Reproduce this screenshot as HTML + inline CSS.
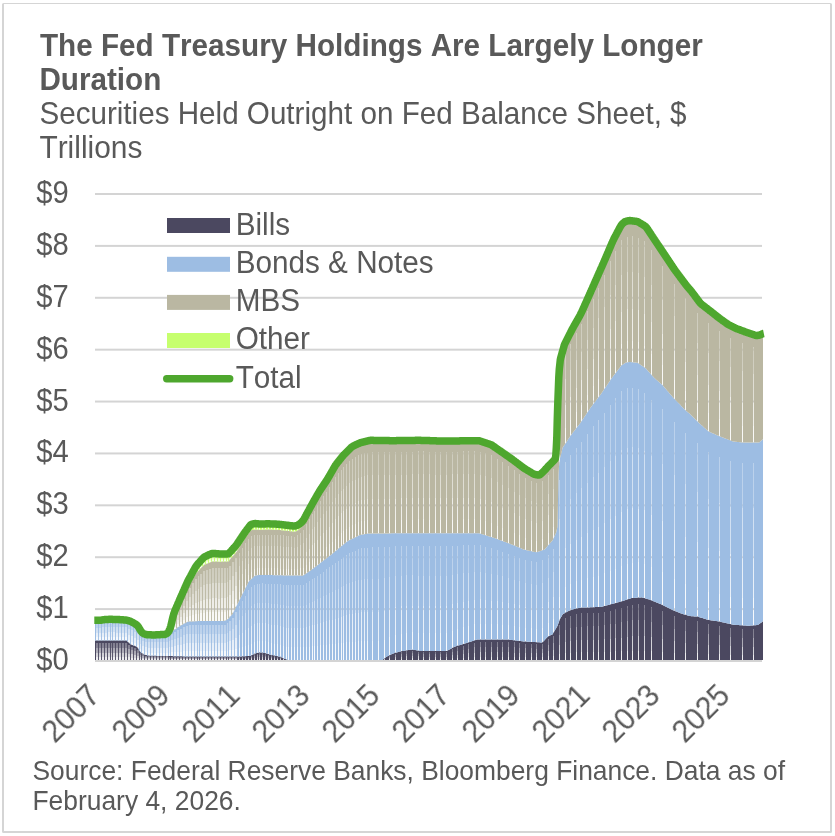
<!DOCTYPE html>
<html><head><meta charset="utf-8"><title>Fed Treasury Holdings</title>
<style>
html,body{margin:0;padding:0;background:#fff;}
body{width:835px;height:836px;position:relative;overflow:hidden;font-family:"Liberation Sans",sans-serif;color:#595959;}
.frame{position:absolute;left:2px;top:3px;width:830px;height:830px;border:2px solid #d5d5d5;border-top-width:1px;box-sizing:border-box;border-radius:1.5px;}
.t{position:absolute;white-space:nowrap;line-height:1;font-kerning:none;}
.b{font-weight:bold;}
.xl{position:absolute;white-space:nowrap;line-height:1;font-kerning:none;font-size:29.7px;transform-origin:100% 50%;transform:rotate(-45deg) scale(1,1.03);will-change:transform;}
</style></head><body>
<div class="frame"></div>
<svg width="835" height="836" viewBox="0 0 835 836" style="position:absolute;left:0;top:0"><defs><linearGradient id="fade" x1="0" y1="0" x2="0" y2="1"><stop offset="0" stop-color="#000" stop-opacity="0"/><stop offset="0.11" stop-color="#000" stop-opacity="0"/><stop offset="0.11" stop-color="#000" stop-opacity="0.30"/><stop offset="0.36" stop-color="#000" stop-opacity="0.34"/><stop offset="0.36" stop-color="#000" stop-opacity="0.52"/><stop offset="0.62" stop-color="#000" stop-opacity="0.56"/><stop offset="0.62" stop-color="#000" stop-opacity="0.74"/><stop offset="0.85" stop-color="#000" stop-opacity="0.78"/><stop offset="0.85" stop-color="#000" stop-opacity="0.9"/><stop offset="1" stop-color="#000" stop-opacity="0.92"/></linearGradient><mask id="m_bills" maskUnits="userSpaceOnUse" x="0" y="0" width="835" height="836"><rect x="0" y="0" width="835" height="836" fill="#fff"/><g fill="url(#fade)"><rect x="96.00" y="640.5" width="2.10" height="19.5"/><rect x="99.00" y="640.5" width="2.10" height="19.5"/><rect x="102.00" y="640.5" width="2.10" height="19.5"/><rect x="105.00" y="640.5" width="2.10" height="19.5"/><rect x="108.00" y="640.5" width="2.10" height="19.5"/><rect x="111.00" y="640.5" width="1.10" height="19.5"/><rect x="113.00" y="640.5" width="2.10" height="19.5"/><rect x="116.00" y="640.5" width="2.10" height="19.5"/><rect x="119.00" y="640.5" width="2.10" height="19.5"/><rect x="122.00" y="640.5" width="2.10" height="19.5"/><rect x="125.00" y="640.5" width="2.10" height="19.5"/><rect x="128.00" y="642.9" width="2.10" height="17.1"/><rect x="131.00" y="645.0" width="2.10" height="15.0"/><rect x="134.00" y="646.0" width="2.10" height="14.0"/><rect x="137.00" y="648.5" width="2.10" height="11.5"/><rect x="140.00" y="652.2" width="1.10" height="7.8"/><rect x="142.00" y="653.8" width="2.10" height="6.2"/><rect x="145.00" y="655.0" width="2.10" height="5.0"/><rect x="148.00" y="655.7" width="2.10" height="4.3"/><rect x="151.00" y="655.8" width="2.10" height="4.2"/><rect x="154.00" y="655.8" width="2.10" height="4.2"/><rect x="157.00" y="655.9" width="2.10" height="4.1"/><rect x="160.00" y="655.9" width="2.10" height="4.1"/><rect x="163.00" y="656.0" width="2.10" height="4.0"/><rect x="166.00" y="656.0" width="2.10" height="4.0"/><rect x="169.00" y="656.1" width="1.10" height="3.9"/><rect x="171.00" y="656.1" width="2.10" height="3.9"/><rect x="174.00" y="656.2" width="2.10" height="3.8"/><rect x="177.00" y="656.3" width="2.10" height="3.7"/><rect x="180.00" y="656.3" width="2.10" height="3.7"/><rect x="183.00" y="656.4" width="2.10" height="3.6"/><rect x="186.00" y="656.4" width="2.10" height="3.6"/><rect x="189.00" y="656.4" width="2.10" height="3.6"/><rect x="192.00" y="656.4" width="2.10" height="3.6"/><rect x="195.00" y="656.4" width="2.10" height="3.6"/><rect x="198.00" y="656.4" width="1.10" height="3.6"/><rect x="200.00" y="656.4" width="2.10" height="3.6"/><rect x="203.00" y="656.4" width="2.10" height="3.6"/><rect x="206.00" y="656.4" width="2.10" height="3.6"/><rect x="209.00" y="656.4" width="2.10" height="3.6"/><rect x="212.00" y="656.4" width="2.10" height="3.6"/><rect x="215.00" y="656.4" width="2.10" height="3.6"/><rect x="218.00" y="656.4" width="2.10" height="3.6"/><rect x="221.00" y="656.4" width="2.10" height="3.6"/><rect x="224.00" y="656.4" width="2.10" height="3.6"/><rect x="227.00" y="656.4" width="1.10" height="3.6"/><rect x="229.00" y="656.4" width="2.10" height="3.6"/><rect x="232.00" y="656.4" width="2.10" height="3.6"/><rect x="235.00" y="656.4" width="2.10" height="3.6"/><rect x="239.00" y="656.4" width="1.00" height="3.6"/><rect x="242.00" y="656.3" width="1.00" height="3.7"/><rect x="245.00" y="656.2" width="1.00" height="3.8"/><rect x="248.00" y="656.1" width="1.00" height="3.9"/><rect x="251.00" y="655.2" width="1.00" height="4.8"/><rect x="254.00" y="653.8" width="1.00" height="6.2"/><rect x="257.00" y="652.9" width="1.00" height="7.1"/><rect x="259.00" y="652.4" width="1.00" height="7.6"/><rect x="262.00" y="652.6" width="1.00" height="7.4"/><rect x="265.00" y="653.2" width="1.00" height="6.8"/><rect x="268.00" y="654.1" width="1.00" height="5.9"/><rect x="271.00" y="654.9" width="1.00" height="5.1"/><rect x="274.00" y="655.6" width="1.00" height="4.4"/><rect x="277.00" y="656.2" width="1.00" height="3.8"/><rect x="280.00" y="656.8" width="1.00" height="3.2"/><rect x="283.00" y="658.2" width="1.00" height="1.8"/><rect x="384.00" y="658.3" width="1.00" height="1.7"/><rect x="389.00" y="655.2" width="1.00" height="4.8"/><rect x="395.00" y="652.8" width="1.00" height="7.2"/><rect x="401.00" y="651.2" width="1.00" height="8.8"/><rect x="406.00" y="650.4" width="1.00" height="9.6"/><rect x="412.00" y="649.8" width="1.00" height="10.2"/><rect x="418.00" y="650.7" width="1.00" height="9.3"/><rect x="423.00" y="651.1" width="1.00" height="8.9"/><rect x="429.00" y="651.1" width="1.00" height="8.9"/><rect x="435.00" y="651.1" width="1.00" height="8.9"/><rect x="440.00" y="651.1" width="1.00" height="8.9"/><rect x="446.00" y="651.1" width="1.00" height="8.9"/><rect x="452.00" y="647.9" width="1.00" height="12.1"/><rect x="457.00" y="645.8" width="1.00" height="14.2"/><rect x="463.00" y="644.0" width="1.00" height="16.0"/><rect x="468.00" y="642.4" width="1.00" height="17.6"/><rect x="474.00" y="640.4" width="1.00" height="19.6"/><rect x="480.00" y="639.5" width="1.00" height="20.5"/><rect x="485.00" y="639.5" width="1.00" height="20.5"/><rect x="491.00" y="639.5" width="1.00" height="20.5"/><rect x="497.00" y="639.5" width="1.00" height="20.5"/><rect x="502.00" y="639.5" width="1.00" height="20.5"/><rect x="508.00" y="639.6" width="1.00" height="20.4"/><rect x="514.00" y="640.3" width="1.00" height="19.7"/><rect x="519.00" y="640.9" width="1.00" height="19.1"/><rect x="525.00" y="641.6" width="1.00" height="18.4"/><rect x="531.00" y="641.9" width="1.00" height="18.1"/><rect x="536.00" y="642.2" width="1.00" height="17.8"/><rect x="542.00" y="642.3" width="1.00" height="17.7"/><rect x="548.00" y="636.2" width="1.00" height="23.8"/><rect x="553.00" y="632.7" width="1.00" height="27.3"/><rect x="559.00" y="620.5" width="1.00" height="39.5"/><rect x="565.00" y="612.6" width="1.00" height="47.4"/><rect x="570.00" y="610.3" width="1.00" height="49.7"/><rect x="576.00" y="608.5" width="1.00" height="51.5"/><rect x="581.00" y="607.7" width="1.00" height="52.3"/><rect x="587.00" y="607.4" width="1.00" height="52.6"/><rect x="593.00" y="607.2" width="1.00" height="52.8"/><rect x="598.00" y="607.0" width="1.00" height="53.0"/><rect x="604.00" y="606.0" width="1.00" height="54.0"/><rect x="610.00" y="604.4" width="1.00" height="55.6"/><rect x="615.00" y="603.0" width="1.00" height="57.0"/><rect x="621.00" y="601.4" width="1.00" height="58.6"/><rect x="627.00" y="599.4" width="1.00" height="60.6"/><rect x="632.00" y="598.0" width="1.00" height="62.0"/><rect x="638.00" y="597.6" width="1.00" height="62.4"/><rect x="644.00" y="598.1" width="1.00" height="61.9"/><rect x="651.00" y="600.4" width="1.00" height="59.6"/><rect x="662.00" y="605.0" width="1.00" height="55.0"/><rect x="674.00" y="610.8" width="1.00" height="49.2"/><rect x="685.00" y="614.8" width="1.00" height="45.2"/><rect x="697.00" y="616.6" width="1.00" height="43.4"/><rect x="708.00" y="619.9" width="1.00" height="40.1"/><rect x="719.00" y="621.6" width="1.00" height="38.4"/><rect x="730.00" y="624.1" width="1.00" height="35.9"/><rect x="742.00" y="625.4" width="1.00" height="34.6"/><rect x="753.00" y="625.4" width="1.00" height="34.6"/></g></mask><mask id="m_bonds" maskUnits="userSpaceOnUse" x="0" y="0" width="835" height="836"><rect x="0" y="0" width="835" height="836" fill="#fff"/><g fill="url(#fade)"><rect x="96.00" y="620.3" width="2.10" height="20.2"/><rect x="99.00" y="620.3" width="2.10" height="20.2"/><rect x="102.00" y="619.8" width="2.10" height="20.7"/><rect x="105.00" y="619.5" width="2.10" height="21.0"/><rect x="108.00" y="619.4" width="2.10" height="21.1"/><rect x="111.00" y="619.3" width="1.10" height="21.2"/><rect x="113.00" y="619.4" width="2.10" height="21.1"/><rect x="116.00" y="619.5" width="2.10" height="21.0"/><rect x="119.00" y="619.6" width="2.10" height="20.9"/><rect x="122.00" y="619.9" width="2.10" height="20.6"/><rect x="125.00" y="620.1" width="2.10" height="20.4"/><rect x="128.00" y="620.9" width="2.10" height="22.0"/><rect x="131.00" y="622.1" width="2.10" height="22.9"/><rect x="134.00" y="623.8" width="2.10" height="22.2"/><rect x="137.00" y="626.1" width="2.10" height="22.4"/><rect x="140.00" y="630.7" width="1.10" height="21.5"/><rect x="142.00" y="633.5" width="2.10" height="20.3"/><rect x="145.00" y="634.5" width="2.10" height="20.5"/><rect x="148.00" y="634.8" width="2.10" height="20.9"/><rect x="151.00" y="634.9" width="2.10" height="20.9"/><rect x="154.00" y="634.9" width="2.10" height="20.9"/><rect x="157.00" y="634.8" width="2.10" height="21.1"/><rect x="160.00" y="634.7" width="2.10" height="21.2"/><rect x="163.00" y="634.6" width="2.10" height="21.4"/><rect x="166.00" y="634.2" width="2.10" height="21.8"/><rect x="169.00" y="633.1" width="1.10" height="23.0"/><rect x="171.00" y="631.5" width="2.10" height="24.6"/><rect x="174.00" y="629.4" width="2.10" height="26.8"/><rect x="177.00" y="627.3" width="2.10" height="29.0"/><rect x="180.00" y="625.4" width="2.10" height="30.9"/><rect x="183.00" y="623.7" width="2.10" height="32.6"/><rect x="186.00" y="622.1" width="2.10" height="34.3"/><rect x="189.00" y="621.6" width="2.10" height="34.8"/><rect x="192.00" y="621.4" width="2.10" height="35.0"/><rect x="195.00" y="621.2" width="2.10" height="35.2"/><rect x="198.00" y="621.1" width="1.10" height="35.3"/><rect x="200.00" y="621.0" width="2.10" height="35.4"/><rect x="203.00" y="621.0" width="2.10" height="35.4"/><rect x="206.00" y="621.0" width="2.10" height="35.4"/><rect x="209.00" y="621.0" width="2.10" height="35.4"/><rect x="212.00" y="621.1" width="2.10" height="35.3"/><rect x="215.00" y="621.1" width="2.10" height="35.3"/><rect x="218.00" y="621.1" width="2.10" height="35.3"/><rect x="221.00" y="621.1" width="2.10" height="35.3"/><rect x="224.00" y="620.7" width="2.10" height="35.7"/><rect x="227.00" y="619.3" width="1.10" height="37.1"/><rect x="229.00" y="616.7" width="2.10" height="39.7"/><rect x="232.00" y="612.9" width="2.10" height="43.5"/><rect x="235.00" y="606.9" width="2.10" height="49.5"/><rect x="239.00" y="599.9" width="1.00" height="56.5"/><rect x="242.00" y="593.9" width="1.00" height="62.4"/><rect x="245.00" y="588.0" width="1.00" height="68.2"/><rect x="248.00" y="582.0" width="1.00" height="74.1"/><rect x="251.00" y="578.9" width="1.00" height="76.4"/><rect x="254.00" y="576.1" width="1.00" height="77.7"/><rect x="257.00" y="575.3" width="1.00" height="77.6"/><rect x="259.00" y="575.0" width="1.00" height="77.4"/><rect x="262.00" y="574.9" width="1.00" height="77.7"/><rect x="265.00" y="575.0" width="1.00" height="78.2"/><rect x="268.00" y="575.0" width="1.00" height="79.1"/><rect x="271.00" y="575.1" width="1.00" height="79.8"/><rect x="274.00" y="575.2" width="1.00" height="80.4"/><rect x="277.00" y="575.2" width="1.00" height="80.9"/><rect x="280.00" y="575.3" width="1.00" height="81.5"/><rect x="283.00" y="575.4" width="1.00" height="82.8"/><rect x="286.00" y="575.4" width="1.00" height="84.1"/><rect x="288.00" y="575.4" width="1.00" height="84.6"/><rect x="291.00" y="575.5" width="1.00" height="84.5"/><rect x="294.00" y="575.6" width="1.00" height="84.4"/><rect x="297.00" y="575.6" width="1.00" height="84.4"/><rect x="300.00" y="575.7" width="1.00" height="84.3"/><rect x="303.00" y="575.3" width="1.00" height="84.7"/><rect x="306.00" y="573.3" width="1.00" height="86.7"/><rect x="309.00" y="571.2" width="1.00" height="88.8"/><rect x="312.00" y="569.0" width="1.00" height="91.0"/><rect x="314.00" y="567.5" width="1.00" height="92.5"/><rect x="317.00" y="565.2" width="1.00" height="94.8"/><rect x="320.00" y="562.9" width="1.00" height="97.1"/><rect x="323.00" y="560.6" width="1.00" height="99.4"/><rect x="326.00" y="558.3" width="1.00" height="101.7"/><rect x="329.00" y="556.0" width="1.00" height="104.0"/><rect x="332.00" y="553.6" width="1.00" height="106.4"/><rect x="335.00" y="551.1" width="1.00" height="108.9"/><rect x="338.00" y="548.6" width="1.00" height="111.4"/><rect x="341.00" y="546.1" width="1.00" height="113.9"/><rect x="343.00" y="544.5" width="1.00" height="115.5"/><rect x="346.00" y="542.0" width="1.00" height="118.0"/><rect x="349.00" y="540.1" width="1.00" height="119.9"/><rect x="352.00" y="538.7" width="1.00" height="121.3"/><rect x="355.00" y="537.2" width="1.00" height="122.8"/><rect x="358.00" y="535.7" width="1.00" height="124.3"/><rect x="361.00" y="534.7" width="1.00" height="125.3"/><rect x="364.00" y="534.2" width="1.00" height="125.8"/><rect x="367.00" y="533.7" width="1.00" height="126.3"/><rect x="372.00" y="533.4" width="1.00" height="126.6"/><rect x="378.00" y="533.4" width="1.00" height="126.6"/><rect x="384.00" y="533.4" width="1.00" height="124.9"/><rect x="389.00" y="533.4" width="1.00" height="121.9"/><rect x="395.00" y="533.3" width="1.00" height="119.5"/><rect x="401.00" y="533.3" width="1.00" height="117.9"/><rect x="406.00" y="533.3" width="1.00" height="117.0"/><rect x="412.00" y="533.3" width="1.00" height="116.5"/><rect x="418.00" y="533.3" width="1.00" height="117.4"/><rect x="423.00" y="533.3" width="1.00" height="117.8"/><rect x="429.00" y="533.3" width="1.00" height="117.8"/><rect x="435.00" y="533.3" width="1.00" height="117.8"/><rect x="440.00" y="533.3" width="1.00" height="117.8"/><rect x="446.00" y="533.3" width="1.00" height="117.8"/><rect x="452.00" y="533.3" width="1.00" height="114.6"/><rect x="457.00" y="533.3" width="1.00" height="112.5"/><rect x="463.00" y="533.3" width="1.00" height="110.7"/><rect x="468.00" y="533.3" width="1.00" height="109.1"/><rect x="474.00" y="533.3" width="1.00" height="107.1"/><rect x="480.00" y="533.7" width="1.00" height="105.8"/><rect x="485.00" y="535.3" width="1.00" height="104.2"/><rect x="491.00" y="537.1" width="1.00" height="102.4"/><rect x="497.00" y="539.1" width="1.00" height="100.4"/><rect x="502.00" y="541.0" width="1.00" height="98.5"/><rect x="508.00" y="543.3" width="1.00" height="96.3"/><rect x="514.00" y="545.6" width="1.00" height="94.7"/><rect x="519.00" y="547.7" width="1.00" height="93.2"/><rect x="525.00" y="549.9" width="1.00" height="91.7"/><rect x="531.00" y="551.3" width="1.00" height="90.7"/><rect x="536.00" y="552.2" width="1.00" height="90.0"/><rect x="542.00" y="550.2" width="1.00" height="92.1"/><rect x="548.00" y="545.0" width="1.00" height="91.2"/><rect x="553.00" y="538.4" width="1.00" height="94.3"/><rect x="559.00" y="462.3" width="1.00" height="158.2"/><rect x="565.00" y="443.4" width="1.00" height="169.2"/><rect x="570.00" y="435.7" width="1.00" height="174.6"/><rect x="576.00" y="427.9" width="1.00" height="180.6"/><rect x="581.00" y="421.3" width="1.00" height="186.4"/><rect x="587.00" y="412.3" width="1.00" height="195.1"/><rect x="593.00" y="403.8" width="1.00" height="203.4"/><rect x="598.00" y="397.3" width="1.00" height="209.7"/><rect x="604.00" y="388.8" width="1.00" height="217.2"/><rect x="610.00" y="379.9" width="1.00" height="224.5"/><rect x="615.00" y="373.2" width="1.00" height="229.9"/><rect x="621.00" y="365.3" width="1.00" height="236.0"/><rect x="627.00" y="362.3" width="1.00" height="237.1"/><rect x="632.00" y="362.3" width="1.00" height="235.7"/><rect x="638.00" y="363.4" width="1.00" height="234.2"/><rect x="644.00" y="367.5" width="1.00" height="230.6"/><rect x="651.00" y="374.9" width="1.00" height="225.6"/><rect x="662.00" y="385.1" width="1.00" height="219.8"/><rect x="674.00" y="399.1" width="1.00" height="211.7"/><rect x="685.00" y="410.2" width="1.00" height="204.6"/><rect x="697.00" y="421.6" width="1.00" height="195.0"/><rect x="708.00" y="431.4" width="1.00" height="188.5"/><rect x="719.00" y="436.3" width="1.00" height="185.3"/><rect x="730.00" y="440.5" width="1.00" height="183.6"/><rect x="742.00" y="442.5" width="1.00" height="182.9"/><rect x="753.00" y="442.6" width="1.00" height="182.8"/></g></mask><mask id="m_mbs" maskUnits="userSpaceOnUse" x="0" y="0" width="835" height="836"><rect x="0" y="0" width="835" height="836" fill="#fff"/><g fill="url(#fade)"><rect x="171.00" y="624.8" width="2.10" height="6.8"/><rect x="174.00" y="614.9" width="2.10" height="14.5"/><rect x="177.00" y="608.4" width="2.10" height="18.9"/><rect x="180.00" y="602.0" width="2.10" height="23.4"/><rect x="183.00" y="595.7" width="2.10" height="28.0"/><rect x="186.00" y="589.4" width="2.10" height="32.7"/><rect x="189.00" y="584.0" width="2.10" height="37.5"/><rect x="192.00" y="578.7" width="2.10" height="42.7"/><rect x="195.00" y="573.4" width="2.10" height="47.8"/><rect x="198.00" y="570.7" width="1.10" height="50.4"/><rect x="200.00" y="568.0" width="2.10" height="53.0"/><rect x="203.00" y="564.8" width="2.10" height="56.2"/><rect x="206.00" y="563.6" width="2.10" height="57.4"/><rect x="209.00" y="562.5" width="2.10" height="58.6"/><rect x="212.00" y="561.4" width="2.10" height="59.6"/><rect x="215.00" y="561.6" width="2.10" height="59.5"/><rect x="218.00" y="561.7" width="2.10" height="59.4"/><rect x="221.00" y="561.6" width="2.10" height="59.4"/><rect x="224.00" y="561.5" width="2.10" height="59.2"/><rect x="227.00" y="561.4" width="1.10" height="57.9"/><rect x="229.00" y="559.4" width="2.10" height="57.3"/><rect x="232.00" y="555.9" width="2.10" height="56.9"/><rect x="235.00" y="552.4" width="2.10" height="54.4"/><rect x="239.00" y="547.2" width="1.00" height="52.7"/><rect x="242.00" y="542.4" width="1.00" height="51.5"/><rect x="245.00" y="537.8" width="1.00" height="50.1"/><rect x="248.00" y="533.6" width="1.00" height="48.4"/><rect x="251.00" y="530.2" width="1.00" height="48.6"/><rect x="254.00" y="529.5" width="1.00" height="46.5"/><rect x="257.00" y="529.7" width="1.00" height="45.6"/><rect x="259.00" y="529.8" width="1.00" height="45.1"/><rect x="262.00" y="529.7" width="1.00" height="45.2"/><rect x="265.00" y="529.6" width="1.00" height="45.3"/><rect x="268.00" y="529.5" width="1.00" height="45.5"/><rect x="271.00" y="529.6" width="1.00" height="45.5"/><rect x="274.00" y="529.7" width="1.00" height="45.5"/><rect x="277.00" y="529.8" width="1.00" height="45.4"/><rect x="280.00" y="530.1" width="1.00" height="45.2"/><rect x="283.00" y="530.4" width="1.00" height="44.9"/><rect x="286.00" y="530.8" width="1.00" height="44.6"/><rect x="288.00" y="531.0" width="1.00" height="44.5"/><rect x="291.00" y="531.3" width="1.00" height="44.2"/><rect x="294.00" y="531.7" width="1.00" height="43.9"/><rect x="297.00" y="530.5" width="1.00" height="45.1"/><rect x="300.00" y="528.0" width="1.00" height="47.6"/><rect x="303.00" y="524.3" width="1.00" height="51.0"/><rect x="306.00" y="518.4" width="1.00" height="54.9"/><rect x="309.00" y="512.7" width="1.00" height="58.5"/><rect x="312.00" y="507.1" width="1.00" height="61.9"/><rect x="314.00" y="503.5" width="1.00" height="64.0"/><rect x="317.00" y="498.1" width="1.00" height="67.1"/><rect x="320.00" y="493.0" width="1.00" height="69.9"/><rect x="323.00" y="488.4" width="1.00" height="72.2"/><rect x="326.00" y="483.8" width="1.00" height="74.5"/><rect x="329.00" y="478.6" width="1.00" height="77.3"/><rect x="332.00" y="473.2" width="1.00" height="80.4"/><rect x="335.00" y="467.8" width="1.00" height="83.3"/><rect x="338.00" y="463.9" width="1.00" height="84.7"/><rect x="341.00" y="460.1" width="1.00" height="86.1"/><rect x="343.00" y="457.5" width="1.00" height="87.0"/><rect x="346.00" y="454.4" width="1.00" height="87.6"/><rect x="349.00" y="451.3" width="1.00" height="88.8"/><rect x="352.00" y="448.6" width="1.00" height="90.1"/><rect x="355.00" y="447.1" width="1.00" height="90.1"/><rect x="358.00" y="445.5" width="1.00" height="90.2"/><rect x="361.00" y="444.3" width="1.00" height="90.4"/><rect x="364.00" y="443.5" width="1.00" height="90.7"/><rect x="367.00" y="442.7" width="1.00" height="91.0"/><rect x="372.00" y="441.9" width="1.00" height="91.5"/><rect x="378.00" y="441.9" width="1.00" height="91.5"/><rect x="384.00" y="441.9" width="1.00" height="91.4"/><rect x="389.00" y="442.0" width="1.00" height="91.4"/><rect x="395.00" y="441.9" width="1.00" height="91.4"/><rect x="401.00" y="441.7" width="1.00" height="91.6"/><rect x="406.00" y="441.6" width="1.00" height="91.7"/><rect x="412.00" y="441.4" width="1.00" height="91.9"/><rect x="418.00" y="441.2" width="1.00" height="92.1"/><rect x="423.00" y="441.3" width="1.00" height="92.0"/><rect x="429.00" y="441.4" width="1.00" height="91.9"/><rect x="435.00" y="441.5" width="1.00" height="91.8"/><rect x="440.00" y="441.6" width="1.00" height="91.7"/><rect x="446.00" y="441.5" width="1.00" height="91.8"/><rect x="452.00" y="441.4" width="1.00" height="91.9"/><rect x="457.00" y="441.4" width="1.00" height="91.9"/><rect x="463.00" y="441.3" width="1.00" height="92.0"/><rect x="468.00" y="441.2" width="1.00" height="92.1"/><rect x="474.00" y="441.1" width="1.00" height="92.2"/><rect x="480.00" y="441.5" width="1.00" height="92.3"/><rect x="485.00" y="443.1" width="1.00" height="92.2"/><rect x="491.00" y="445.1" width="1.00" height="92.1"/><rect x="497.00" y="449.2" width="1.00" height="89.9"/><rect x="502.00" y="452.7" width="1.00" height="88.4"/><rect x="508.00" y="456.8" width="1.00" height="86.5"/><rect x="514.00" y="461.1" width="1.00" height="84.5"/><rect x="519.00" y="464.8" width="1.00" height="82.9"/><rect x="525.00" y="469.1" width="1.00" height="80.8"/><rect x="531.00" y="472.7" width="1.00" height="78.6"/><rect x="536.00" y="474.8" width="1.00" height="77.5"/><rect x="542.00" y="472.4" width="1.00" height="77.9"/><rect x="548.00" y="465.9" width="1.00" height="79.1"/><rect x="553.00" y="460.9" width="1.00" height="77.4"/><rect x="559.00" y="367.4" width="1.00" height="94.9"/><rect x="565.00" y="342.5" width="1.00" height="100.9"/><rect x="570.00" y="332.6" width="1.00" height="103.1"/><rect x="576.00" y="321.6" width="1.00" height="106.4"/><rect x="581.00" y="312.4" width="1.00" height="108.9"/><rect x="587.00" y="299.0" width="1.00" height="113.3"/><rect x="593.00" y="285.5" width="1.00" height="118.4"/><rect x="598.00" y="274.1" width="1.00" height="123.2"/><rect x="604.00" y="260.6" width="1.00" height="128.3"/><rect x="610.00" y="246.5" width="1.00" height="133.4"/><rect x="615.00" y="235.7" width="1.00" height="137.4"/><rect x="621.00" y="224.5" width="1.00" height="140.8"/><rect x="627.00" y="221.0" width="1.00" height="141.3"/><rect x="632.00" y="220.9" width="1.00" height="141.4"/><rect x="638.00" y="222.1" width="1.00" height="141.3"/><rect x="644.00" y="225.7" width="1.00" height="141.8"/><rect x="651.00" y="235.1" width="1.00" height="139.8"/><rect x="662.00" y="251.5" width="1.00" height="133.6"/><rect x="674.00" y="269.5" width="1.00" height="129.6"/><rect x="685.00" y="284.2" width="1.00" height="126.0"/><rect x="697.00" y="299.5" width="1.00" height="122.1"/><rect x="708.00" y="309.6" width="1.00" height="121.7"/><rect x="719.00" y="318.3" width="1.00" height="118.0"/><rect x="730.00" y="325.6" width="1.00" height="114.9"/><rect x="742.00" y="330.8" width="1.00" height="111.6"/><rect x="753.00" y="334.7" width="1.00" height="107.9"/></g></mask><mask id="m_other" maskUnits="userSpaceOnUse" x="0" y="0" width="835" height="836"><rect x="0" y="0" width="835" height="836" fill="#fff"/><g fill="url(#fade)"><rect x="169.00" y="630.0" width="1.10" height="3.1"/><rect x="171.00" y="620.8" width="2.10" height="4.0"/><rect x="174.00" y="610.4" width="2.10" height="4.5"/><rect x="177.00" y="603.4" width="2.10" height="5.0"/><rect x="180.00" y="596.5" width="2.10" height="5.5"/><rect x="183.00" y="589.7" width="2.10" height="6.0"/><rect x="186.00" y="582.9" width="2.10" height="6.5"/><rect x="189.00" y="577.0" width="2.10" height="7.0"/><rect x="192.00" y="571.5" width="2.10" height="7.2"/><rect x="195.00" y="566.0" width="2.10" height="7.4"/><rect x="198.00" y="563.2" width="1.10" height="7.5"/><rect x="200.00" y="560.4" width="2.10" height="7.7"/><rect x="203.00" y="557.0" width="2.10" height="7.8"/><rect x="206.00" y="555.6" width="2.10" height="8.0"/><rect x="209.00" y="554.3" width="2.10" height="8.2"/><rect x="212.00" y="553.4" width="2.10" height="8.1"/><rect x="215.00" y="553.6" width="2.10" height="7.9"/><rect x="218.00" y="553.9" width="2.10" height="7.8"/><rect x="221.00" y="554.0" width="2.10" height="7.6"/><rect x="224.00" y="554.0" width="2.10" height="7.5"/><rect x="227.00" y="554.0" width="1.10" height="7.4"/><rect x="229.00" y="552.2" width="2.10" height="7.3"/><rect x="232.00" y="548.8" width="2.10" height="7.1"/><rect x="235.00" y="545.4" width="2.10" height="7.0"/><rect x="239.00" y="540.4" width="1.00" height="6.8"/><rect x="242.00" y="535.9" width="1.00" height="6.5"/><rect x="245.00" y="531.5" width="1.00" height="6.3"/><rect x="248.00" y="527.5" width="1.00" height="6.1"/><rect x="251.00" y="524.2" width="1.00" height="6.0"/><rect x="254.00" y="523.6" width="1.00" height="5.9"/><rect x="257.00" y="523.8" width="1.00" height="5.9"/><rect x="259.00" y="524.0" width="1.00" height="5.9"/><rect x="262.00" y="523.9" width="1.00" height="5.8"/><rect x="265.00" y="523.9" width="1.00" height="5.8"/><rect x="268.00" y="523.8" width="1.00" height="5.7"/><rect x="271.00" y="523.9" width="1.00" height="5.7"/><rect x="274.00" y="524.1" width="1.00" height="5.7"/><rect x="277.00" y="524.2" width="1.00" height="5.6"/><rect x="280.00" y="524.5" width="1.00" height="5.6"/><rect x="283.00" y="524.8" width="1.00" height="5.6"/><rect x="286.00" y="525.2" width="1.00" height="5.6"/><rect x="288.00" y="525.4" width="1.00" height="5.6"/><rect x="291.00" y="525.8" width="1.00" height="5.5"/><rect x="294.00" y="526.2" width="1.00" height="5.5"/><rect x="297.00" y="525.1" width="1.00" height="5.4"/><rect x="300.00" y="523.2" width="1.00" height="4.8"/><rect x="303.00" y="520.0" width="1.00" height="4.3"/><rect x="306.00" y="514.4" width="1.00" height="3.9"/><rect x="309.00" y="508.9" width="1.00" height="3.8"/><rect x="312.00" y="503.4" width="1.00" height="3.7"/><rect x="314.00" y="499.9" width="1.00" height="3.6"/><rect x="317.00" y="494.6" width="1.00" height="3.5"/><rect x="320.00" y="489.7" width="1.00" height="3.3"/><rect x="323.00" y="485.2" width="1.00" height="3.2"/><rect x="326.00" y="480.7" width="1.00" height="3.1"/><rect x="329.00" y="475.7" width="1.00" height="2.9"/><rect x="332.00" y="470.4" width="1.00" height="2.8"/><rect x="335.00" y="465.1" width="1.00" height="2.7"/><rect x="338.00" y="461.4" width="1.00" height="2.6"/><rect x="341.00" y="457.6" width="1.00" height="2.5"/><rect x="343.00" y="455.1" width="1.00" height="2.4"/><rect x="346.00" y="452.1" width="1.00" height="2.3"/><rect x="349.00" y="449.1" width="1.00" height="2.2"/><rect x="352.00" y="446.5" width="1.00" height="2.1"/><rect x="355.00" y="445.0" width="1.00" height="2.1"/><rect x="358.00" y="443.5" width="1.00" height="2.0"/><rect x="361.00" y="442.4" width="1.00" height="1.9"/><rect x="364.00" y="441.7" width="1.00" height="1.8"/><rect x="367.00" y="440.9" width="1.00" height="1.7"/><rect x="372.00" y="440.3" width="1.00" height="1.6"/><rect x="378.00" y="440.4" width="1.00" height="1.5"/><rect x="384.00" y="440.6" width="1.00" height="1.4"/><rect x="389.00" y="440.6" width="1.00" height="1.3"/><rect x="395.00" y="440.7" width="1.00" height="1.2"/></g></mask></defs><rect x="95" y="660.00" width="667" height="2" fill="#d4d4d4"/><rect x="95" y="608.11" width="667" height="2" fill="#d4d4d4"/><rect x="95" y="556.22" width="667" height="2" fill="#d4d4d4"/><rect x="95" y="504.33" width="667" height="2" fill="#d4d4d4"/><rect x="95" y="452.44" width="667" height="2" fill="#d4d4d4"/><rect x="95" y="400.56" width="667" height="2" fill="#d4d4d4"/><rect x="95" y="348.67" width="667" height="2" fill="#d4d4d4"/><rect x="95" y="296.78" width="667" height="2" fill="#d4d4d4"/><rect x="95" y="244.89" width="667" height="2" fill="#d4d4d4"/><rect x="95" y="193.00" width="667" height="2" fill="#d4d4d4"/><polygon points="95.0,640.5 95.5,640.5 96.0,640.5 96.5,640.5 97.0,640.5 97.5,640.5 98.0,640.5 98.5,640.5 99.0,640.5 99.5,640.5 100.0,640.5 100.5,640.5 101.0,640.5 101.5,640.5 102.0,640.5 102.5,640.5 103.0,640.5 103.5,640.5 104.0,640.5 104.5,640.5 105.0,640.5 105.5,640.5 106.0,640.5 106.5,640.5 107.0,640.5 107.5,640.5 108.0,640.5 108.5,640.5 109.0,640.5 109.5,640.5 110.0,640.5 110.5,640.5 111.0,640.5 111.5,640.5 112.0,640.5 112.5,640.5 113.0,640.5 113.5,640.5 114.0,640.5 114.5,640.5 115.0,640.5 115.5,640.5 116.0,640.5 116.5,640.5 117.0,640.5 117.5,640.5 118.0,640.5 118.5,640.5 119.0,640.5 119.5,640.5 120.0,640.5 120.5,640.5 121.0,640.5 121.5,640.5 122.0,640.5 122.5,640.5 123.0,640.5 123.5,640.5 124.0,640.5 124.5,640.5 125.0,640.5 125.5,640.5 126.0,640.5 126.5,640.5 127.0,640.9 127.5,641.4 128.0,641.9 128.5,642.4 129.0,642.8 129.5,643.3 130.0,643.8 130.5,644.3 131.0,644.6 131.5,644.8 132.0,644.9 132.5,645.1 133.0,645.3 133.5,645.5 134.0,645.6 134.5,645.8 135.0,646.0 135.5,646.2 136.0,646.3 136.5,646.5 137.0,646.9 137.5,647.6 138.0,648.4 138.5,649.1 139.0,649.9 139.5,650.6 140.0,651.4 140.5,652.1 141.0,652.8 141.5,653.0 142.0,653.3 142.5,653.5 143.0,653.8 143.5,654.0 144.0,654.3 144.5,654.5 145.0,654.8 145.5,654.9 146.0,655.0 146.5,655.1 147.0,655.2 147.5,655.4 148.0,655.5 148.5,655.6 149.0,655.7 149.5,655.7 150.0,655.7 150.5,655.7 151.0,655.7 151.5,655.7 152.0,655.8 152.5,655.8 153.0,655.8 153.5,655.8 154.0,655.8 154.5,655.8 155.0,655.8 155.5,655.8 156.0,655.8 156.5,655.8 157.0,655.9 157.5,655.9 158.0,655.9 158.5,655.9 159.0,655.9 159.5,655.9 160.0,655.9 160.5,655.9 161.0,655.9 161.5,655.9 162.0,655.9 162.5,656.0 163.0,656.0 163.5,656.0 164.0,656.0 164.5,656.0 165.0,656.0 165.5,656.0 166.0,656.0 166.5,656.0 167.0,656.0 167.5,656.1 168.0,656.1 168.5,656.1 169.0,656.1 169.5,656.1 170.0,656.1 170.5,656.1 171.0,656.1 171.5,656.1 172.0,656.1 172.5,656.1 173.0,656.2 173.5,656.2 174.0,656.2 174.5,656.2 175.0,656.2 175.5,656.2 176.0,656.2 176.5,656.2 177.0,656.2 177.5,656.2 178.0,656.3 178.5,656.3 179.0,656.3 179.5,656.3 180.0,656.3 180.5,656.3 181.0,656.3 181.5,656.3 182.0,656.3 182.5,656.3 183.0,656.3 183.5,656.4 184.0,656.4 184.5,656.4 185.0,656.4 185.5,656.4 186.0,656.4 186.5,656.4 187.0,656.4 187.5,656.4 188.0,656.4 188.5,656.4 189.0,656.4 189.5,656.4 190.0,656.4 190.5,656.4 191.0,656.4 191.5,656.4 192.0,656.4 192.5,656.4 193.0,656.4 193.5,656.4 194.0,656.4 194.5,656.4 195.0,656.4 195.5,656.4 196.0,656.4 196.5,656.4 197.0,656.4 197.5,656.4 198.0,656.4 198.5,656.4 199.0,656.4 199.5,656.4 200.0,656.4 200.5,656.4 201.0,656.4 201.5,656.4 202.0,656.4 202.5,656.4 203.0,656.4 203.5,656.4 204.0,656.4 204.5,656.4 205.0,656.4 205.5,656.4 206.0,656.4 206.5,656.4 207.0,656.4 207.5,656.4 208.0,656.4 208.5,656.4 209.0,656.4 209.5,656.4 210.0,656.4 210.5,656.4 211.0,656.4 211.5,656.4 212.0,656.4 212.5,656.4 213.0,656.4 213.5,656.4 214.0,656.4 214.5,656.4 215.0,656.4 215.5,656.4 216.0,656.4 216.5,656.4 217.0,656.4 217.5,656.4 218.0,656.4 218.5,656.4 219.0,656.4 219.5,656.4 220.0,656.4 220.5,656.4 221.0,656.4 221.5,656.4 222.0,656.4 222.5,656.4 223.0,656.4 223.5,656.4 224.0,656.4 224.5,656.4 225.0,656.4 225.5,656.4 226.0,656.4 226.5,656.4 227.0,656.4 227.5,656.4 228.0,656.4 228.5,656.4 229.0,656.4 229.5,656.4 230.0,656.4 230.5,656.4 231.0,656.4 231.5,656.4 232.0,656.4 232.5,656.4 233.0,656.4 233.5,656.4 234.0,656.4 234.5,656.4 235.0,656.4 235.5,656.4 236.0,656.4 236.5,656.4 237.0,656.4 237.5,656.4 238.0,656.4 238.5,656.4 239.0,656.4 239.5,656.4 240.0,656.4 240.5,656.4 241.0,656.4 241.5,656.4 242.0,656.3 242.5,656.3 243.0,656.3 243.5,656.3 244.0,656.3 244.5,656.2 245.0,656.2 245.5,656.2 246.0,656.2 246.5,656.1 247.0,656.1 247.5,656.1 248.0,656.1 248.5,656.1 249.0,656.0 249.5,656.0 250.0,656.0 250.5,655.8 251.0,655.5 251.5,655.2 252.0,655.0 252.5,654.8 253.0,654.5 253.5,654.2 254.0,654.0 254.5,653.8 255.0,653.5 255.5,653.4 256.0,653.3 256.5,653.1 257.0,653.0 257.5,652.9 258.0,652.8 258.5,652.7 259.0,652.5 259.5,652.4 260.0,652.3 260.5,652.4 261.0,652.4 261.5,652.5 262.0,652.6 262.5,652.6 263.0,652.7 263.5,652.8 264.0,652.9 264.5,652.9 265.0,653.0 265.5,653.2 266.0,653.3 266.5,653.5 267.0,653.6 267.5,653.8 268.0,653.9 268.5,654.1 269.0,654.3 269.5,654.4 270.0,654.6 270.5,654.7 271.0,654.8 271.5,654.9 272.0,655.0 272.5,655.1 273.0,655.2 273.5,655.3 274.0,655.4 274.5,655.6 275.0,655.7 275.5,655.8 276.0,655.9 276.5,656.0 277.0,656.1 277.5,656.2 278.0,656.3 278.5,656.4 279.0,656.5 279.5,656.6 280.0,656.7 280.5,656.8 281.0,657.0 281.5,657.3 282.0,657.5 282.5,657.7 283.0,657.9 283.5,658.2 284.0,658.4 284.5,658.6 285.0,658.9 285.5,659.1 286.0,659.3 286.5,659.5 287.0,659.8 287.5,660.0 288.0,660.0 288.5,660.0 289.0,660.0 289.5,660.0 290.0,660.0 290.5,660.0 291.0,660.0 291.5,660.0 292.0,660.0 292.5,660.0 293.0,660.0 293.5,660.0 294.0,660.0 294.5,660.0 295.0,660.0 295.5,660.0 296.0,660.0 296.5,660.0 297.0,660.0 297.5,660.0 298.0,660.0 298.5,660.0 299.0,660.0 299.5,660.0 300.0,660.0 300.5,660.0 301.0,660.0 301.5,660.0 302.0,660.0 302.5,660.0 303.0,660.0 303.5,660.0 304.0,660.0 304.5,660.0 305.0,660.0 305.5,660.0 306.0,660.0 306.5,660.0 307.0,660.0 307.5,660.0 308.0,660.0 308.5,660.0 309.0,660.0 309.5,660.0 310.0,660.0 310.5,660.0 311.0,660.0 311.5,660.0 312.0,660.0 312.5,660.0 313.0,660.0 313.5,660.0 314.0,660.0 314.5,660.0 315.0,660.0 315.5,660.0 316.0,660.0 316.5,660.0 317.0,660.0 317.5,660.0 318.0,660.0 318.5,660.0 319.0,660.0 319.5,660.0 320.0,660.0 320.5,660.0 321.0,660.0 321.5,660.0 322.0,660.0 322.5,660.0 323.0,660.0 323.5,660.0 324.0,660.0 324.5,660.0 325.0,660.0 325.5,660.0 326.0,660.0 326.5,660.0 327.0,660.0 327.5,660.0 328.0,660.0 328.5,660.0 329.0,660.0 329.5,660.0 330.0,660.0 330.5,660.0 331.0,660.0 331.5,660.0 332.0,660.0 332.5,660.0 333.0,660.0 333.5,660.0 334.0,660.0 334.5,660.0 335.0,660.0 335.5,660.0 336.0,660.0 336.5,660.0 337.0,660.0 337.5,660.0 338.0,660.0 338.5,660.0 339.0,660.0 339.5,660.0 340.0,660.0 340.5,660.0 341.0,660.0 341.5,660.0 342.0,660.0 342.5,660.0 343.0,660.0 343.5,660.0 344.0,660.0 344.5,660.0 345.0,660.0 345.5,660.0 346.0,660.0 346.5,660.0 347.0,660.0 347.5,660.0 348.0,660.0 348.5,660.0 349.0,660.0 349.5,660.0 350.0,660.0 350.5,660.0 351.0,660.0 351.5,660.0 352.0,660.0 352.5,660.0 353.0,660.0 353.5,660.0 354.0,660.0 354.5,660.0 355.0,660.0 355.5,660.0 356.0,660.0 356.5,660.0 357.0,660.0 357.5,660.0 358.0,660.0 358.5,660.0 359.0,660.0 359.5,660.0 360.0,660.0 360.5,660.0 361.0,660.0 361.5,660.0 362.0,660.0 362.5,660.0 363.0,660.0 363.5,660.0 364.0,660.0 364.5,660.0 365.0,660.0 365.5,660.0 366.0,660.0 366.5,660.0 367.0,660.0 367.5,660.0 368.0,660.0 368.5,660.0 369.0,660.0 369.5,660.0 370.0,660.0 370.5,660.0 371.0,660.0 371.5,660.0 372.0,660.0 372.5,660.0 373.0,660.0 373.5,660.0 374.0,660.0 374.5,660.0 375.0,660.0 375.5,660.0 376.0,660.0 376.5,660.0 377.0,660.0 377.5,660.0 378.0,660.0 378.5,660.0 379.0,660.0 379.5,660.0 380.0,660.0 380.5,660.0 381.0,660.0 381.5,660.0 382.0,660.0 382.5,660.0 383.0,659.6 383.5,659.1 384.0,658.7 384.5,658.3 385.0,657.9 385.5,657.4 386.0,657.0 386.5,656.7 387.0,656.5 387.5,656.2 388.0,656.0 388.5,655.7 389.0,655.5 389.5,655.2 390.0,655.0 390.5,654.7 391.0,654.5 391.5,654.2 392.0,654.0 392.5,653.7 393.0,653.6 393.5,653.4 394.0,653.3 394.5,653.1 395.0,653.0 395.5,652.8 396.0,652.7 396.5,652.5 397.0,652.4 397.5,652.2 398.0,652.1 398.5,651.9 399.0,651.8 399.5,651.6 400.0,651.5 400.5,651.4 401.0,651.3 401.5,651.2 402.0,651.1 402.5,651.1 403.0,651.0 403.5,650.9 404.0,650.8 404.5,650.7 405.0,650.6 405.5,650.5 406.0,650.4 406.5,650.4 407.0,650.3 407.5,650.2 408.0,650.1 408.5,650.0 409.0,649.9 409.5,649.8 410.0,649.7 410.5,649.7 411.0,649.6 411.5,649.7 412.0,649.7 412.5,649.8 413.0,649.8 413.5,649.9 414.0,649.9 414.5,650.0 415.0,650.0 415.5,650.1 416.0,650.2 416.5,650.3 417.0,650.4 417.5,650.5 418.0,650.6 418.5,650.7 419.0,650.8 419.5,651.0 420.0,651.1 420.5,651.1 421.0,651.1 421.5,651.1 422.0,651.1 422.5,651.1 423.0,651.1 423.5,651.1 424.0,651.1 424.5,651.1 425.0,651.1 425.5,651.1 426.0,651.1 426.5,651.1 427.0,651.1 427.5,651.1 428.0,651.1 428.5,651.1 429.0,651.1 429.5,651.1 430.0,651.1 430.5,651.1 431.0,651.1 431.5,651.1 432.0,651.1 432.5,651.1 433.0,651.1 433.5,651.1 434.0,651.1 434.5,651.1 435.0,651.1 435.5,651.1 436.0,651.1 436.5,651.1 437.0,651.1 437.5,651.1 438.0,651.1 438.5,651.1 439.0,651.1 439.5,651.1 440.0,651.1 440.5,651.1 441.0,651.1 441.5,651.1 442.0,651.1 442.5,651.1 443.0,651.1 443.5,651.1 444.0,651.1 444.5,651.1 445.0,651.1 445.5,651.1 446.0,651.1 446.5,651.1 447.0,650.9 447.5,650.6 448.0,650.3 448.5,650.1 449.0,649.8 449.5,649.5 450.0,649.2 450.5,649.0 451.0,648.7 451.5,648.4 452.0,648.1 452.5,647.9 453.0,647.6 453.5,647.3 454.0,647.0 454.5,646.8 455.0,646.5 455.5,646.4 456.0,646.2 456.5,646.1 457.0,645.9 457.5,645.8 458.0,645.6 458.5,645.5 459.0,645.3 459.5,645.2 460.0,645.0 460.5,644.9 461.0,644.7 461.5,644.6 462.0,644.4 462.5,644.3 463.0,644.1 463.5,644.0 464.0,643.8 464.5,643.7 465.0,643.5 465.5,643.3 466.0,643.2 466.5,643.0 467.0,642.8 467.5,642.7 468.0,642.5 468.5,642.4 469.0,642.2 469.5,642.0 470.0,641.9 470.5,641.7 471.0,641.5 471.5,641.4 472.0,641.2 472.5,641.0 473.0,640.9 473.5,640.7 474.0,640.5 474.5,640.4 475.0,640.2 475.5,640.1 476.0,639.9 476.5,639.7 477.0,639.6 477.5,639.5 478.0,639.5 478.5,639.5 479.0,639.5 479.5,639.5 480.0,639.5 480.5,639.5 481.0,639.5 481.5,639.5 482.0,639.5 482.5,639.5 483.0,639.5 483.5,639.5 484.0,639.5 484.5,639.5 485.0,639.5 485.5,639.5 486.0,639.5 486.5,639.5 487.0,639.5 487.5,639.5 488.0,639.5 488.5,639.5 489.0,639.5 489.5,639.5 490.0,639.5 490.5,639.5 491.0,639.5 491.5,639.5 492.0,639.5 492.5,639.5 493.0,639.5 493.5,639.5 494.0,639.5 494.5,639.5 495.0,639.5 495.5,639.5 496.0,639.5 496.5,639.5 497.0,639.5 497.5,639.5 498.0,639.5 498.5,639.5 499.0,639.5 499.5,639.5 500.0,639.5 500.5,639.5 501.0,639.5 501.5,639.5 502.0,639.5 502.5,639.5 503.0,639.5 503.5,639.5 504.0,639.5 504.5,639.5 505.0,639.5 505.5,639.5 506.0,639.5 506.5,639.5 507.0,639.5 507.5,639.5 508.0,639.5 508.5,639.6 509.0,639.7 509.5,639.7 510.0,639.8 510.5,639.8 511.0,639.9 511.5,640.0 512.0,640.0 512.5,640.1 513.0,640.2 513.5,640.2 514.0,640.3 514.5,640.3 515.0,640.4 515.5,640.5 516.0,640.5 516.5,640.6 517.0,640.6 517.5,640.7 518.0,640.8 518.5,640.8 519.0,640.9 519.5,640.9 520.0,641.0 520.5,641.1 521.0,641.1 521.5,641.2 522.0,641.3 522.5,641.3 523.0,641.4 523.5,641.4 524.0,641.5 524.5,641.5 525.0,641.6 525.5,641.6 526.0,641.6 526.5,641.6 527.0,641.7 527.5,641.7 528.0,641.7 528.5,641.7 529.0,641.8 529.5,641.8 530.0,641.8 530.5,641.9 531.0,641.9 531.5,641.9 532.0,641.9 532.5,642.0 533.0,642.0 533.5,642.0 534.0,642.0 534.5,642.1 535.0,642.1 535.5,642.1 536.0,642.2 536.5,642.2 537.0,642.2 537.5,642.2 538.0,642.3 538.5,642.3 539.0,642.3 539.5,642.3 540.0,642.4 540.5,642.4 541.0,642.4 541.5,642.5 542.0,642.5 542.5,642.3 543.0,641.8 543.5,641.2 544.0,640.7 544.5,640.2 545.0,639.7 545.5,639.1 546.0,638.6 546.5,638.1 547.0,637.6 547.5,637.0 548.0,636.5 548.5,636.2 549.0,636.0 549.5,635.8 550.0,635.5 550.5,635.3 551.0,635.1 551.5,634.9 552.0,634.6 552.5,634.4 553.0,633.5 553.5,632.7 554.0,631.8 554.5,631.0 555.0,630.1 555.5,629.3 556.0,628.4 556.5,627.6 557.0,626.7 557.5,625.7 558.0,624.4 558.5,623.1 559.0,621.8 559.5,620.5 560.0,619.1 560.5,617.9 561.0,617.2 561.5,616.4 562.0,615.6 562.5,614.8 563.0,614.0 563.5,613.7 564.0,613.5 564.5,613.2 565.0,612.9 565.5,612.6 566.0,612.4 566.5,612.1 567.0,611.8 567.5,611.5 568.0,611.3 568.5,611.0 569.0,610.8 569.5,610.6 570.0,610.5 570.5,610.3 571.0,610.1 571.5,609.9 572.0,609.7 572.5,609.5 573.0,609.4 573.5,609.2 574.0,609.0 574.5,608.9 575.0,608.8 575.5,608.7 576.0,608.6 576.5,608.5 577.0,608.4 577.5,608.3 578.0,608.2 578.5,608.1 579.0,608.0 579.5,607.9 580.0,607.8 580.5,607.7 581.0,607.7 581.5,607.7 582.0,607.6 582.5,607.6 583.0,607.6 583.5,607.6 584.0,607.6 584.5,607.6 585.0,607.5 585.5,607.5 586.0,607.5 586.5,607.5 587.0,607.5 587.5,607.4 588.0,607.4 588.5,607.4 589.0,607.4 589.5,607.4 590.0,607.3 590.5,607.3 591.0,607.3 591.5,607.3 592.0,607.3 592.5,607.2 593.0,607.2 593.5,607.2 594.0,607.2 594.5,607.2 595.0,607.1 595.5,607.1 596.0,607.1 596.5,607.1 597.0,607.1 597.5,607.0 598.0,607.0 598.5,607.0 599.0,607.0 599.5,607.0 600.0,606.9 600.5,606.9 601.0,606.9 601.5,606.8 602.0,606.7 602.5,606.5 603.0,606.4 603.5,606.3 604.0,606.1 604.5,606.0 605.0,605.9 605.5,605.7 606.0,605.6 606.5,605.5 607.0,605.3 607.5,605.2 608.0,605.1 608.5,604.9 609.0,604.8 609.5,604.7 610.0,604.5 610.5,604.4 611.0,604.3 611.5,604.1 612.0,604.0 612.5,603.9 613.0,603.7 613.5,603.6 614.0,603.5 614.5,603.3 615.0,603.2 615.5,603.0 616.0,602.9 616.5,602.8 617.0,602.6 617.5,602.5 618.0,602.3 618.5,602.2 619.0,602.1 619.5,601.9 620.0,601.8 620.5,601.6 621.0,601.5 621.5,601.4 622.0,601.2 622.5,601.0 623.0,600.9 623.5,600.7 624.0,600.6 624.5,600.4 625.0,600.2 625.5,600.1 626.0,599.9 626.5,599.8 627.0,599.6 627.5,599.4 628.0,599.3 628.5,599.1 629.0,598.9 629.5,598.8 630.0,598.6 630.5,598.5 631.0,598.3 631.5,598.1 632.0,598.1 632.5,598.0 633.0,598.0 633.5,598.0 634.0,597.9 634.5,597.9 635.0,597.8 635.5,597.8 636.0,597.8 636.5,597.7 637.0,597.7 637.5,597.6 638.0,597.6 638.5,597.6 639.0,597.5 639.5,597.5 640.0,597.4 640.5,597.4 641.0,597.4 641.5,597.3 642.0,597.4 642.5,597.5 643.0,597.7 643.5,597.8 644.0,598.0 644.5,598.1 645.0,598.3 645.5,598.4 646.0,598.6 646.5,598.7 647.0,598.9 647.5,599.0 648.0,599.2 648.5,599.3 649.0,599.5 649.5,599.6 650.0,599.8 650.5,600.0 651.0,600.2 651.5,600.4 652.0,600.6 652.5,600.8 653.0,601.0 653.5,601.2 654.0,601.4 654.5,601.6 655.0,601.8 655.5,602.1 656.0,602.3 656.5,602.5 657.0,602.7 657.5,602.9 658.0,603.1 658.5,603.3 659.0,603.5 659.5,603.7 660.0,603.9 660.5,604.1 661.0,604.3 661.5,604.5 662.0,604.7 662.5,605.0 663.0,605.2 663.5,605.5 664.0,605.7 664.5,606.0 665.0,606.2 665.5,606.5 666.0,606.7 666.5,607.0 667.0,607.2 667.5,607.5 668.0,607.7 668.5,608.0 669.0,608.2 669.5,608.5 670.0,608.7 670.5,609.0 671.0,609.2 671.5,609.5 672.0,609.7 672.5,610.0 673.0,610.2 673.5,610.4 674.0,610.6 674.5,610.8 675.0,611.0 675.5,611.2 676.0,611.4 676.5,611.6 677.0,611.8 677.5,612.0 678.0,612.2 678.5,612.4 679.0,612.6 679.5,612.8 680.0,613.0 680.5,613.2 681.0,613.4 681.5,613.6 682.0,613.8 682.5,614.0 683.0,614.1 683.5,614.3 684.0,614.4 684.5,614.6 685.0,614.7 685.5,614.8 686.0,615.0 686.5,615.1 687.0,615.3 687.5,615.4 688.0,615.5 688.5,615.7 689.0,615.8 689.5,616.0 690.0,616.1 690.5,616.1 691.0,616.2 691.5,616.2 692.0,616.2 692.5,616.3 693.0,616.3 693.5,616.3 694.0,616.4 694.5,616.4 695.0,616.4 695.5,616.5 696.0,616.5 696.5,616.5 697.0,616.6 697.5,616.6 698.0,616.8 698.5,616.9 699.0,617.1 699.5,617.2 700.0,617.4 700.5,617.5 701.0,617.7 701.5,617.8 702.0,618.0 702.5,618.1 703.0,618.3 703.5,618.4 704.0,618.6 704.5,618.7 705.0,618.9 705.5,619.0 706.0,619.2 706.5,619.4 707.0,619.5 707.5,619.7 708.0,619.8 708.5,619.9 709.0,620.0 709.5,620.1 710.0,620.2 710.5,620.2 711.0,620.3 711.5,620.4 712.0,620.4 712.5,620.5 713.0,620.6 713.5,620.7 714.0,620.7 714.5,620.8 715.0,620.9 715.5,621.0 716.0,621.0 716.5,621.1 717.0,621.2 717.5,621.3 718.0,621.3 718.5,621.4 719.0,621.5 719.5,621.6 720.0,621.7 720.5,621.8 721.0,621.9 721.5,622.0 722.0,622.2 722.5,622.3 723.0,622.4 723.5,622.5 724.0,622.6 724.5,622.7 725.0,622.8 725.5,623.0 726.0,623.1 726.5,623.2 727.0,623.3 727.5,623.4 728.0,623.5 728.5,623.6 729.0,623.8 729.5,623.9 730.0,624.0 730.5,624.1 731.0,624.2 731.5,624.3 732.0,624.4 732.5,624.6 733.0,624.7 733.5,624.7 734.0,624.8 734.5,624.8 735.0,624.8 735.5,624.9 736.0,624.9 736.5,624.9 737.0,625.0 737.5,625.0 738.0,625.1 738.5,625.1 739.0,625.1 739.5,625.2 740.0,625.2 740.5,625.2 741.0,625.3 741.5,625.3 742.0,625.3 742.5,625.4 743.0,625.4 743.5,625.5 744.0,625.5 744.5,625.5 745.0,625.6 745.5,625.6 746.0,625.6 746.5,625.7 747.0,625.7 747.5,625.7 748.0,625.8 748.5,625.8 749.0,625.7 749.5,625.7 750.0,625.7 750.5,625.6 751.0,625.6 751.5,625.5 752.0,625.5 752.5,625.4 753.0,625.4 753.5,625.4 754.0,625.3 754.5,625.3 755.0,625.2 755.5,625.2 756.0,625.2 756.5,625.1 757.0,625.1 757.5,625.0 758.0,624.9 758.5,624.6 759.0,624.2 759.5,623.8 760.0,623.5 760.5,623.1 761.0,622.7 761.5,622.4 762.0,622.0 762.5,621.6 763.0,621.3 763.0,660.0 95.0,660.0" fill="#4b4860" mask="url(#m_bills)"/><polygon points="95.0,620.3 95.5,620.3 96.0,620.3 96.5,620.3 97.0,620.3 97.5,620.3 98.0,620.3 98.5,620.3 99.0,620.3 99.5,620.3 100.0,620.3 100.5,620.2 101.0,620.1 101.5,620.1 102.0,620.0 102.5,619.9 103.0,619.8 103.5,619.7 104.0,619.7 104.5,619.6 105.0,619.5 105.5,619.5 106.0,619.5 106.5,619.4 107.0,619.4 107.5,619.4 108.0,619.4 108.5,619.4 109.0,619.4 109.5,619.3 110.0,619.3 110.5,619.3 111.0,619.3 111.5,619.3 112.0,619.3 112.5,619.4 113.0,619.4 113.5,619.4 114.0,619.4 114.5,619.4 115.0,619.4 115.5,619.4 116.0,619.4 116.5,619.5 117.0,619.5 117.5,619.5 118.0,619.5 118.5,619.5 119.0,619.6 119.5,619.6 120.0,619.6 120.5,619.7 121.0,619.7 121.5,619.7 122.0,619.8 122.5,619.8 123.0,619.8 123.5,619.9 124.0,619.9 124.5,620.0 125.0,620.0 125.5,620.0 126.0,620.1 126.5,620.1 127.0,620.2 127.5,620.4 128.0,620.5 128.5,620.7 129.0,620.9 129.5,621.0 130.0,621.2 130.5,621.3 131.0,621.5 131.5,621.8 132.0,622.1 132.5,622.3 133.0,622.6 133.5,622.9 134.0,623.2 134.5,623.5 135.0,623.8 135.5,624.0 136.0,624.4 136.5,624.8 137.0,625.2 137.5,625.6 138.0,626.0 138.5,626.9 139.0,627.8 139.5,628.7 140.0,629.7 140.5,630.6 141.0,631.4 141.5,631.9 142.0,632.5 142.5,633.0 143.0,633.5 143.5,633.7 144.0,633.8 144.5,634.0 145.0,634.1 145.5,634.3 146.0,634.5 146.5,634.6 147.0,634.8 147.5,634.8 148.0,634.8 148.5,634.8 149.0,634.8 149.5,634.8 150.0,634.8 150.5,634.8 151.0,634.8 151.5,634.9 152.0,634.9 152.5,634.9 153.0,634.9 153.5,634.9 154.0,634.9 154.5,634.9 155.0,634.9 155.5,634.9 156.0,634.9 156.5,634.9 157.0,634.8 157.5,634.8 158.0,634.8 158.5,634.8 159.0,634.8 159.5,634.8 160.0,634.8 160.5,634.7 161.0,634.7 161.5,634.7 162.0,634.7 162.5,634.7 163.0,634.7 163.5,634.7 164.0,634.6 164.5,634.6 165.0,634.6 165.5,634.6 166.0,634.4 166.5,634.3 167.0,634.2 167.5,634.1 168.0,634.0 168.5,633.7 169.0,633.4 169.5,633.1 170.0,632.8 170.5,632.5 171.0,632.2 171.5,631.9 172.0,631.6 172.5,631.2 173.0,630.9 173.5,630.5 174.0,630.2 174.5,629.8 175.0,629.5 175.5,629.1 176.0,628.7 176.5,628.4 177.0,628.0 177.5,627.7 178.0,627.3 178.5,627.0 179.0,626.6 179.5,626.3 180.0,626.0 180.5,625.7 181.0,625.4 181.5,625.1 182.0,624.9 182.5,624.6 183.0,624.3 183.5,624.0 184.0,623.8 184.5,623.5 185.0,623.2 185.5,622.9 186.0,622.6 186.5,622.4 187.0,622.1 187.5,621.8 188.0,621.7 188.5,621.7 189.0,621.6 189.5,621.6 190.0,621.6 190.5,621.5 191.0,621.5 191.5,621.5 192.0,621.5 192.5,621.4 193.0,621.4 193.5,621.4 194.0,621.3 194.5,621.3 195.0,621.3 195.5,621.3 196.0,621.2 196.5,621.2 197.0,621.2 197.5,621.1 198.0,621.1 198.5,621.1 199.0,621.1 199.5,621.0 200.0,621.0 200.5,621.0 201.0,621.0 201.5,621.0 202.0,621.0 202.5,621.0 203.0,621.0 203.5,621.0 204.0,621.0 204.5,621.0 205.0,621.0 205.5,621.0 206.0,621.0 206.5,621.0 207.0,621.0 207.5,621.0 208.0,621.0 208.5,621.0 209.0,621.0 209.5,621.0 210.0,621.0 210.5,621.0 211.0,621.0 211.5,621.0 212.0,621.0 212.5,621.1 213.0,621.1 213.5,621.1 214.0,621.1 214.5,621.1 215.0,621.1 215.5,621.1 216.0,621.1 216.5,621.1 217.0,621.1 217.5,621.1 218.0,621.1 218.5,621.1 219.0,621.1 219.5,621.1 220.0,621.1 220.5,621.1 221.0,621.1 221.5,621.1 222.0,621.1 222.5,621.1 223.0,621.1 223.5,621.1 224.0,621.1 224.5,621.0 225.0,620.8 225.5,620.5 226.0,620.2 226.5,619.9 227.0,619.6 227.5,619.3 228.0,619.0 228.5,618.4 229.0,617.9 229.5,617.3 230.0,616.8 230.5,616.2 231.0,615.7 231.5,615.1 232.0,614.6 232.5,614.0 233.0,613.0 233.5,612.0 234.0,611.0 234.5,610.0 235.0,609.0 235.5,608.0 236.0,607.0 236.5,606.0 237.0,604.9 237.5,603.9 238.0,602.9 238.5,601.9 239.0,600.9 239.5,599.9 240.0,598.9 240.5,597.9 241.0,596.9 241.5,595.9 242.0,594.9 242.5,593.9 243.0,592.9 243.5,591.9 244.0,590.9 244.5,589.9 245.0,589.0 245.5,588.0 246.0,587.0 246.5,586.0 247.0,585.0 247.5,584.0 248.0,583.0 248.5,582.0 249.0,581.2 249.5,580.7 250.0,580.3 250.5,579.8 251.0,579.3 251.5,578.9 252.0,578.4 252.5,577.9 253.0,577.5 253.5,577.0 254.0,576.5 254.5,576.1 255.0,575.7 255.5,575.6 256.0,575.5 256.5,575.4 257.0,575.3 257.5,575.3 258.0,575.2 258.5,575.1 259.0,575.0 259.5,575.0 260.0,575.0 260.5,575.0 261.0,574.9 261.5,574.9 262.0,574.9 262.5,574.9 263.0,574.9 263.5,574.9 264.0,574.9 264.5,575.0 265.0,575.0 265.5,575.0 266.0,575.0 266.5,575.0 267.0,575.0 267.5,575.0 268.0,575.0 268.5,575.0 269.0,575.1 269.5,575.1 270.0,575.1 270.5,575.1 271.0,575.1 271.5,575.1 272.0,575.1 272.5,575.1 273.0,575.1 273.5,575.2 274.0,575.2 274.5,575.2 275.0,575.2 275.5,575.2 276.0,575.2 276.5,575.2 277.0,575.2 277.5,575.2 278.0,575.3 278.5,575.3 279.0,575.3 279.5,575.3 280.0,575.3 280.5,575.3 281.0,575.3 281.5,575.3 282.0,575.3 282.5,575.3 283.0,575.4 283.5,575.4 284.0,575.4 284.5,575.4 285.0,575.4 285.5,575.4 286.0,575.4 286.5,575.4 287.0,575.4 287.5,575.4 288.0,575.4 288.5,575.4 289.0,575.5 289.5,575.5 290.0,575.5 290.5,575.5 291.0,575.5 291.5,575.5 292.0,575.5 292.5,575.5 293.0,575.5 293.5,575.5 294.0,575.5 294.5,575.6 295.0,575.6 295.5,575.6 296.0,575.6 296.5,575.6 297.0,575.6 297.5,575.6 298.0,575.6 298.5,575.6 299.0,575.6 299.5,575.6 300.0,575.6 300.5,575.7 301.0,575.7 301.5,575.7 302.0,575.7 302.5,575.7 303.0,575.6 303.5,575.3 304.0,575.0 304.5,574.6 305.0,574.3 305.5,573.9 306.0,573.6 306.5,573.3 307.0,572.9 307.5,572.6 308.0,572.2 308.5,571.9 309.0,571.6 309.5,571.2 310.0,570.9 310.5,570.5 311.0,570.2 311.5,569.8 312.0,569.4 312.5,569.0 313.0,568.7 313.5,568.3 314.0,567.9 314.5,567.5 315.0,567.1 315.5,566.7 316.0,566.4 316.5,566.0 317.0,565.6 317.5,565.2 318.0,564.8 318.5,564.4 319.0,564.0 319.5,563.7 320.0,563.3 320.5,562.9 321.0,562.5 321.5,562.1 322.0,561.7 322.5,561.3 323.0,561.0 323.5,560.6 324.0,560.2 324.5,559.8 325.0,559.4 325.5,559.0 326.0,558.7 326.5,558.3 327.0,557.9 327.5,557.5 328.0,557.1 328.5,556.7 329.0,556.3 329.5,556.0 330.0,555.6 330.5,555.2 331.0,554.8 331.5,554.4 332.0,554.0 332.5,553.6 333.0,553.2 333.5,552.8 334.0,552.3 334.5,551.9 335.0,551.5 335.5,551.1 336.0,550.7 336.5,550.3 337.0,549.9 337.5,549.4 338.0,549.0 338.5,548.6 339.0,548.2 339.5,547.8 340.0,547.4 340.5,547.0 341.0,546.5 341.5,546.1 342.0,545.7 342.5,545.3 343.0,544.9 343.5,544.5 344.0,544.1 344.5,543.7 345.0,543.2 345.5,542.8 346.0,542.4 346.5,542.0 347.0,541.6 347.5,541.2 348.0,540.9 348.5,540.6 349.0,540.4 349.5,540.1 350.0,539.9 350.5,539.6 351.0,539.4 351.5,539.1 352.0,538.9 352.5,538.7 353.0,538.4 353.5,538.2 354.0,537.9 354.5,537.7 355.0,537.4 355.5,537.2 356.0,537.0 356.5,536.7 357.0,536.5 357.5,536.2 358.0,536.0 358.5,535.7 359.0,535.5 359.5,535.2 360.0,535.0 360.5,534.9 361.0,534.8 361.5,534.7 362.0,534.6 362.5,534.6 363.0,534.5 363.5,534.4 364.0,534.3 364.5,534.2 365.0,534.1 365.5,534.0 366.0,534.0 366.5,533.9 367.0,533.8 367.5,533.7 368.0,533.6 368.5,533.6 369.0,533.5 369.5,533.5 370.0,533.5 370.5,533.5 371.0,533.5 371.5,533.4 372.0,533.4 372.5,533.4 373.0,533.4 373.5,533.4 374.0,533.4 374.5,533.4 375.0,533.4 375.5,533.4 376.0,533.4 376.5,533.4 377.0,533.4 377.5,533.4 378.0,533.4 378.5,533.4 379.0,533.4 379.5,533.4 380.0,533.4 380.5,533.4 381.0,533.4 381.5,533.4 382.0,533.4 382.5,533.4 383.0,533.4 383.5,533.4 384.0,533.4 384.5,533.4 385.0,533.4 385.5,533.4 386.0,533.4 386.5,533.4 387.0,533.4 387.5,533.4 388.0,533.4 388.5,533.4 389.0,533.4 389.5,533.4 390.0,533.4 390.5,533.4 391.0,533.3 391.5,533.3 392.0,533.3 392.5,533.3 393.0,533.3 393.5,533.3 394.0,533.3 394.5,533.3 395.0,533.3 395.5,533.3 396.0,533.3 396.5,533.3 397.0,533.3 397.5,533.3 398.0,533.3 398.5,533.3 399.0,533.3 399.5,533.3 400.0,533.3 400.5,533.3 401.0,533.3 401.5,533.3 402.0,533.3 402.5,533.3 403.0,533.3 403.5,533.3 404.0,533.3 404.5,533.3 405.0,533.3 405.5,533.3 406.0,533.3 406.5,533.3 407.0,533.3 407.5,533.3 408.0,533.3 408.5,533.3 409.0,533.3 409.5,533.3 410.0,533.3 410.5,533.3 411.0,533.3 411.5,533.3 412.0,533.3 412.5,533.3 413.0,533.3 413.5,533.3 414.0,533.3 414.5,533.3 415.0,533.3 415.5,533.3 416.0,533.3 416.5,533.3 417.0,533.3 417.5,533.3 418.0,533.3 418.5,533.3 419.0,533.3 419.5,533.3 420.0,533.3 420.5,533.3 421.0,533.3 421.5,533.3 422.0,533.3 422.5,533.3 423.0,533.3 423.5,533.3 424.0,533.3 424.5,533.3 425.0,533.3 425.5,533.3 426.0,533.3 426.5,533.3 427.0,533.3 427.5,533.3 428.0,533.3 428.5,533.3 429.0,533.3 429.5,533.3 430.0,533.3 430.5,533.3 431.0,533.3 431.5,533.3 432.0,533.3 432.5,533.3 433.0,533.3 433.5,533.3 434.0,533.3 434.5,533.3 435.0,533.3 435.5,533.3 436.0,533.3 436.5,533.3 437.0,533.3 437.5,533.3 438.0,533.3 438.5,533.3 439.0,533.3 439.5,533.3 440.0,533.3 440.5,533.3 441.0,533.3 441.5,533.3 442.0,533.3 442.5,533.3 443.0,533.3 443.5,533.3 444.0,533.3 444.5,533.3 445.0,533.3 445.5,533.3 446.0,533.3 446.5,533.3 447.0,533.3 447.5,533.3 448.0,533.3 448.5,533.3 449.0,533.3 449.5,533.3 450.0,533.3 450.5,533.3 451.0,533.3 451.5,533.3 452.0,533.3 452.5,533.3 453.0,533.3 453.5,533.3 454.0,533.3 454.5,533.3 455.0,533.3 455.5,533.3 456.0,533.3 456.5,533.3 457.0,533.3 457.5,533.3 458.0,533.3 458.5,533.3 459.0,533.3 459.5,533.3 460.0,533.3 460.5,533.3 461.0,533.3 461.5,533.3 462.0,533.3 462.5,533.3 463.0,533.3 463.5,533.3 464.0,533.3 464.5,533.3 465.0,533.3 465.5,533.3 466.0,533.3 466.5,533.3 467.0,533.3 467.5,533.3 468.0,533.3 468.5,533.3 469.0,533.3 469.5,533.3 470.0,533.3 470.5,533.3 471.0,533.3 471.5,533.3 472.0,533.3 472.5,533.3 473.0,533.3 473.5,533.3 474.0,533.3 474.5,533.3 475.0,533.3 475.5,533.3 476.0,533.3 476.5,533.3 477.0,533.3 477.5,533.3 478.0,533.3 478.5,533.3 479.0,533.3 479.5,533.4 480.0,533.6 480.5,533.7 481.0,533.9 481.5,534.0 482.0,534.2 482.5,534.3 483.0,534.5 483.5,534.6 484.0,534.8 484.5,535.0 485.0,535.1 485.5,535.3 486.0,535.4 486.5,535.6 487.0,535.7 487.5,535.9 488.0,536.1 488.5,536.2 489.0,536.4 489.5,536.5 490.0,536.7 490.5,536.8 491.0,537.0 491.5,537.1 492.0,537.3 492.5,537.5 493.0,537.6 493.5,537.8 494.0,537.9 494.5,538.1 495.0,538.2 495.5,538.4 496.0,538.6 496.5,538.8 497.0,539.0 497.5,539.1 498.0,539.3 498.5,539.5 499.0,539.7 499.5,539.9 500.0,540.1 500.5,540.3 501.0,540.5 501.5,540.6 502.0,540.8 502.5,541.0 503.0,541.2 503.5,541.4 504.0,541.6 504.5,541.8 505.0,542.0 505.5,542.1 506.0,542.3 506.5,542.5 507.0,542.7 507.5,542.9 508.0,543.1 508.5,543.3 509.0,543.5 509.5,543.6 510.0,543.8 510.5,544.0 511.0,544.2 511.5,544.4 512.0,544.6 512.5,544.8 513.0,545.0 513.5,545.2 514.0,545.4 514.5,545.6 515.0,545.8 515.5,546.0 516.0,546.3 516.5,546.5 517.0,546.7 517.5,546.9 518.0,547.1 518.5,547.3 519.0,547.5 519.5,547.7 520.0,547.9 520.5,548.1 521.0,548.3 521.5,548.6 522.0,548.8 522.5,549.0 523.0,549.2 523.5,549.4 524.0,549.6 524.5,549.7 525.0,549.8 525.5,549.9 526.0,550.0 526.5,550.2 527.0,550.3 527.5,550.4 528.0,550.5 528.5,550.6 529.0,550.7 529.5,550.8 530.0,550.9 530.5,551.0 531.0,551.1 531.5,551.3 532.0,551.4 532.5,551.5 533.0,551.6 533.5,551.7 534.0,551.8 534.5,551.9 535.0,552.0 535.5,552.1 536.0,552.3 536.5,552.2 537.0,552.0 537.5,551.9 538.0,551.7 538.5,551.5 539.0,551.4 539.5,551.2 540.0,551.0 540.5,550.9 541.0,550.7 541.5,550.6 542.0,550.4 542.5,550.2 543.0,550.1 543.5,549.9 544.0,549.7 544.5,549.5 545.0,548.9 545.5,548.4 546.0,547.8 546.5,547.2 547.0,546.7 547.5,546.1 548.0,545.6 548.5,545.0 549.0,544.4 549.5,543.9 550.0,543.3 550.5,542.7 551.0,542.2 551.5,541.6 552.0,541.1 552.5,540.5 553.0,539.4 553.5,538.4 554.0,537.3 554.5,536.2 555.0,535.1 555.5,534.1 556.0,533.0 556.5,530.9 557.0,528.8 557.5,526.6 558.0,500.0 558.5,475.0 559.0,466.6 559.5,462.3 560.0,458.0 560.5,456.2 561.0,454.5 561.5,452.7 562.0,450.3 562.5,447.9 563.0,447.1 563.5,446.4 564.0,445.6 564.5,444.9 565.0,444.2 565.5,443.4 566.0,442.7 566.5,441.9 567.0,441.2 567.5,440.4 568.0,439.6 568.5,438.8 569.0,438.1 569.5,437.3 570.0,436.5 570.5,435.7 571.0,435.1 571.5,434.4 572.0,433.8 572.5,433.1 573.0,432.5 573.5,431.8 574.0,431.2 574.5,430.5 575.0,429.9 575.5,429.2 576.0,428.6 576.5,427.9 577.0,427.3 577.5,426.6 578.0,426.0 578.5,425.3 579.0,424.7 579.5,424.1 580.0,423.4 580.5,422.8 581.0,422.1 581.5,421.3 582.0,420.6 582.5,419.8 583.0,419.1 583.5,418.3 584.0,417.6 584.5,416.8 585.0,416.1 585.5,415.3 586.0,414.6 586.5,413.8 587.0,413.1 587.5,412.3 588.0,411.6 588.5,410.8 589.0,410.0 589.5,409.3 590.0,408.5 590.5,407.8 591.0,407.1 591.5,406.4 592.0,405.8 592.5,405.1 593.0,404.5 593.5,403.8 594.0,403.2 594.5,402.5 595.0,401.9 595.5,401.2 596.0,400.5 596.5,399.9 597.0,399.2 597.5,398.6 598.0,397.9 598.5,397.3 599.0,396.6 599.5,396.0 600.0,395.3 600.5,394.7 601.0,394.0 601.5,393.3 602.0,392.6 602.5,391.8 603.0,391.1 603.5,390.3 604.0,389.6 604.5,388.8 605.0,388.1 605.5,387.3 606.0,386.6 606.5,385.9 607.0,385.1 607.5,384.4 608.0,383.6 608.5,382.9 609.0,382.1 609.5,381.4 610.0,380.6 610.5,379.9 611.0,379.1 611.5,378.4 612.0,377.8 612.5,377.1 613.0,376.5 613.5,375.8 614.0,375.1 614.5,374.5 615.0,373.8 615.5,373.2 616.0,372.5 616.5,371.9 617.0,371.2 617.5,370.5 618.0,369.9 618.5,369.2 619.0,368.6 619.5,367.9 620.0,367.2 620.5,366.6 621.0,365.9 621.5,365.3 622.0,365.0 622.5,364.7 623.0,364.4 623.5,364.1 624.0,363.8 624.5,363.4 625.0,363.1 625.5,362.8 626.0,362.5 626.5,362.4 627.0,362.4 627.5,362.3 628.0,362.2 628.5,362.2 629.0,362.1 629.5,362.0 630.0,362.0 630.5,362.1 631.0,362.1 631.5,362.2 632.0,362.2 632.5,362.3 633.0,362.3 633.5,362.4 634.0,362.4 634.5,362.5 635.0,362.5 635.5,362.6 636.0,362.6 636.5,362.7 637.0,362.7 637.5,362.8 638.0,363.0 638.5,363.4 639.0,363.7 639.5,364.1 640.0,364.4 640.5,364.7 641.0,365.1 641.5,365.4 642.0,365.8 642.5,366.1 643.0,366.5 643.5,366.8 644.0,367.2 644.5,367.5 645.0,367.9 645.5,368.2 646.0,368.6 646.5,369.2 647.0,369.7 647.5,370.3 648.0,370.9 648.5,371.5 649.0,372.0 649.5,372.6 650.0,373.2 650.5,373.7 651.0,374.3 651.5,374.9 652.0,375.4 652.5,376.0 653.0,376.6 653.5,377.1 654.0,377.7 654.5,378.1 655.0,378.6 655.5,379.0 656.0,379.4 656.5,379.9 657.0,380.3 657.5,380.7 658.0,381.2 658.5,381.6 659.0,382.0 659.5,382.5 660.0,382.9 660.5,383.3 661.0,383.8 661.5,384.2 662.0,384.6 662.5,385.1 663.0,385.7 663.5,386.3 664.0,386.9 664.5,387.5 665.0,388.1 665.5,388.6 666.0,389.2 666.5,389.8 667.0,390.4 667.5,391.0 668.0,391.6 668.5,392.1 669.0,392.7 669.5,393.3 670.0,393.9 670.5,394.5 671.0,395.0 671.5,395.6 672.0,396.2 672.5,396.8 673.0,397.4 673.5,398.0 674.0,398.5 674.5,399.1 675.0,399.6 675.5,400.1 676.0,400.6 676.5,401.1 677.0,401.6 677.5,402.1 678.0,402.6 678.5,403.1 679.0,403.6 679.5,404.1 680.0,404.6 680.5,405.1 681.0,405.7 681.5,406.2 682.0,406.7 682.5,407.2 683.0,407.7 683.5,408.2 684.0,408.7 684.5,409.2 685.0,409.7 685.5,410.2 686.0,410.7 686.5,411.2 687.0,411.6 687.5,412.0 688.0,412.4 688.5,412.8 689.0,413.2 689.5,413.6 690.0,414.0 690.5,414.5 691.0,415.0 691.5,415.5 692.0,416.0 692.5,416.5 693.0,417.0 693.5,417.5 694.0,418.1 694.5,418.6 695.0,419.1 695.5,419.6 696.0,420.1 696.5,420.6 697.0,421.1 697.5,421.6 698.0,422.0 698.5,422.5 699.0,422.9 699.5,423.4 700.0,423.8 700.5,424.3 701.0,424.7 701.5,425.2 702.0,425.6 702.5,426.1 703.0,426.5 703.5,427.0 704.0,427.4 704.5,427.9 705.0,428.3 705.5,428.8 706.0,429.2 706.5,429.7 707.0,430.1 707.5,430.6 708.0,431.0 708.5,431.4 709.0,431.6 709.5,431.8 710.0,432.1 710.5,432.3 711.0,432.5 711.5,432.7 712.0,432.9 712.5,433.2 713.0,433.4 713.5,433.6 714.0,433.8 714.5,434.1 715.0,434.3 715.5,434.5 716.0,434.7 716.5,434.9 717.0,435.2 717.5,435.4 718.0,435.6 718.5,435.8 719.0,436.1 719.5,436.3 720.0,436.4 720.5,436.6 721.0,436.8 721.5,437.0 722.0,437.2 722.5,437.4 723.0,437.6 723.5,437.8 724.0,438.0 724.5,438.2 725.0,438.4 725.5,438.6 726.0,438.8 726.5,439.0 727.0,439.1 727.5,439.3 728.0,439.5 728.5,439.7 729.0,439.9 729.5,440.1 730.0,440.3 730.5,440.5 731.0,440.7 731.5,440.9 732.0,441.1 732.5,441.3 733.0,441.5 733.5,441.5 734.0,441.6 734.5,441.6 735.0,441.7 735.5,441.7 736.0,441.8 736.5,441.8 737.0,441.9 737.5,441.9 738.0,442.0 738.5,442.1 739.0,442.1 739.5,442.2 740.0,442.2 740.5,442.3 741.0,442.3 741.5,442.4 742.0,442.4 742.5,442.5 743.0,442.5 743.5,442.6 744.0,442.6 744.5,442.6 745.0,442.6 745.5,442.6 746.0,442.6 746.5,442.6 747.0,442.6 747.5,442.6 748.0,442.6 748.5,442.6 749.0,442.6 749.5,442.6 750.0,442.6 750.5,442.6 751.0,442.6 751.5,442.6 752.0,442.6 752.5,442.6 753.0,442.6 753.5,442.6 754.0,442.6 754.5,442.6 755.0,442.6 755.5,442.6 756.0,442.6 756.5,442.6 757.0,442.6 757.5,442.6 758.0,442.6 758.5,442.6 759.0,442.6 759.5,442.2 760.0,441.8 760.5,441.3 761.0,440.9 761.5,440.5 762.0,440.1 762.5,439.6 763.0,439.2 763.0,621.3 762.5,621.6 762.0,622.0 761.5,622.4 761.0,622.7 760.5,623.1 760.0,623.5 759.5,623.8 759.0,624.2 758.5,624.6 758.0,624.9 757.5,625.0 757.0,625.1 756.5,625.1 756.0,625.2 755.5,625.2 755.0,625.2 754.5,625.3 754.0,625.3 753.5,625.4 753.0,625.4 752.5,625.4 752.0,625.5 751.5,625.5 751.0,625.6 750.5,625.6 750.0,625.7 749.5,625.7 749.0,625.7 748.5,625.8 748.0,625.8 747.5,625.7 747.0,625.7 746.5,625.7 746.0,625.6 745.5,625.6 745.0,625.6 744.5,625.5 744.0,625.5 743.5,625.5 743.0,625.4 742.5,625.4 742.0,625.3 741.5,625.3 741.0,625.3 740.5,625.2 740.0,625.2 739.5,625.2 739.0,625.1 738.5,625.1 738.0,625.1 737.5,625.0 737.0,625.0 736.5,624.9 736.0,624.9 735.5,624.9 735.0,624.8 734.5,624.8 734.0,624.8 733.5,624.7 733.0,624.7 732.5,624.6 732.0,624.4 731.5,624.3 731.0,624.2 730.5,624.1 730.0,624.0 729.5,623.9 729.0,623.8 728.5,623.6 728.0,623.5 727.5,623.4 727.0,623.3 726.5,623.2 726.0,623.1 725.5,623.0 725.0,622.8 724.5,622.7 724.0,622.6 723.5,622.5 723.0,622.4 722.5,622.3 722.0,622.2 721.5,622.0 721.0,621.9 720.5,621.8 720.0,621.7 719.5,621.6 719.0,621.5 718.5,621.4 718.0,621.3 717.5,621.3 717.0,621.2 716.5,621.1 716.0,621.0 715.5,621.0 715.0,620.9 714.5,620.8 714.0,620.7 713.5,620.7 713.0,620.6 712.5,620.5 712.0,620.4 711.5,620.4 711.0,620.3 710.5,620.2 710.0,620.2 709.5,620.1 709.0,620.0 708.5,619.9 708.0,619.8 707.5,619.7 707.0,619.5 706.5,619.4 706.0,619.2 705.5,619.0 705.0,618.9 704.5,618.7 704.0,618.6 703.5,618.4 703.0,618.3 702.5,618.1 702.0,618.0 701.5,617.8 701.0,617.7 700.5,617.5 700.0,617.4 699.5,617.2 699.0,617.1 698.5,616.9 698.0,616.8 697.5,616.6 697.0,616.6 696.5,616.5 696.0,616.5 695.5,616.5 695.0,616.4 694.5,616.4 694.0,616.4 693.5,616.3 693.0,616.3 692.5,616.3 692.0,616.2 691.5,616.2 691.0,616.2 690.5,616.1 690.0,616.1 689.5,616.0 689.0,615.8 688.5,615.7 688.0,615.5 687.5,615.4 687.0,615.3 686.5,615.1 686.0,615.0 685.5,614.8 685.0,614.7 684.5,614.6 684.0,614.4 683.5,614.3 683.0,614.1 682.5,614.0 682.0,613.8 681.5,613.6 681.0,613.4 680.5,613.2 680.0,613.0 679.5,612.8 679.0,612.6 678.5,612.4 678.0,612.2 677.5,612.0 677.0,611.8 676.5,611.6 676.0,611.4 675.5,611.2 675.0,611.0 674.5,610.8 674.0,610.6 673.5,610.4 673.0,610.2 672.5,610.0 672.0,609.7 671.5,609.5 671.0,609.2 670.5,609.0 670.0,608.7 669.5,608.5 669.0,608.2 668.5,608.0 668.0,607.7 667.5,607.5 667.0,607.2 666.5,607.0 666.0,606.7 665.5,606.5 665.0,606.2 664.5,606.0 664.0,605.7 663.5,605.5 663.0,605.2 662.5,605.0 662.0,604.7 661.5,604.5 661.0,604.3 660.5,604.1 660.0,603.9 659.5,603.7 659.0,603.5 658.5,603.3 658.0,603.1 657.5,602.9 657.0,602.7 656.5,602.5 656.0,602.3 655.5,602.1 655.0,601.8 654.5,601.6 654.0,601.4 653.5,601.2 653.0,601.0 652.5,600.8 652.0,600.6 651.5,600.4 651.0,600.2 650.5,600.0 650.0,599.8 649.5,599.6 649.0,599.5 648.5,599.3 648.0,599.2 647.5,599.0 647.0,598.9 646.5,598.7 646.0,598.6 645.5,598.4 645.0,598.3 644.5,598.1 644.0,598.0 643.5,597.8 643.0,597.7 642.5,597.5 642.0,597.4 641.5,597.3 641.0,597.4 640.5,597.4 640.0,597.4 639.5,597.5 639.0,597.5 638.5,597.6 638.0,597.6 637.5,597.6 637.0,597.7 636.5,597.7 636.0,597.8 635.5,597.8 635.0,597.8 634.5,597.9 634.0,597.9 633.5,598.0 633.0,598.0 632.5,598.0 632.0,598.1 631.5,598.1 631.0,598.3 630.5,598.5 630.0,598.6 629.5,598.8 629.0,598.9 628.5,599.1 628.0,599.3 627.5,599.4 627.0,599.6 626.5,599.8 626.0,599.9 625.5,600.1 625.0,600.2 624.5,600.4 624.0,600.6 623.5,600.7 623.0,600.9 622.5,601.0 622.0,601.2 621.5,601.4 621.0,601.5 620.5,601.6 620.0,601.8 619.5,601.9 619.0,602.1 618.5,602.2 618.0,602.3 617.5,602.5 617.0,602.6 616.5,602.8 616.0,602.9 615.5,603.0 615.0,603.2 614.5,603.3 614.0,603.5 613.5,603.6 613.0,603.7 612.5,603.9 612.0,604.0 611.5,604.1 611.0,604.3 610.5,604.4 610.0,604.5 609.5,604.7 609.0,604.8 608.5,604.9 608.0,605.1 607.5,605.2 607.0,605.3 606.5,605.5 606.0,605.6 605.5,605.7 605.0,605.9 604.5,606.0 604.0,606.1 603.5,606.3 603.0,606.4 602.5,606.5 602.0,606.7 601.5,606.8 601.0,606.9 600.5,606.9 600.0,606.9 599.5,607.0 599.0,607.0 598.5,607.0 598.0,607.0 597.5,607.0 597.0,607.1 596.5,607.1 596.0,607.1 595.5,607.1 595.0,607.1 594.5,607.2 594.0,607.2 593.5,607.2 593.0,607.2 592.5,607.2 592.0,607.3 591.5,607.3 591.0,607.3 590.5,607.3 590.0,607.3 589.5,607.4 589.0,607.4 588.5,607.4 588.0,607.4 587.5,607.4 587.0,607.5 586.5,607.5 586.0,607.5 585.5,607.5 585.0,607.5 584.5,607.6 584.0,607.6 583.5,607.6 583.0,607.6 582.5,607.6 582.0,607.6 581.5,607.7 581.0,607.7 580.5,607.7 580.0,607.8 579.5,607.9 579.0,608.0 578.5,608.1 578.0,608.2 577.5,608.3 577.0,608.4 576.5,608.5 576.0,608.6 575.5,608.7 575.0,608.8 574.5,608.9 574.0,609.0 573.5,609.2 573.0,609.4 572.5,609.5 572.0,609.7 571.5,609.9 571.0,610.1 570.5,610.3 570.0,610.5 569.5,610.6 569.0,610.8 568.5,611.0 568.0,611.3 567.5,611.5 567.0,611.8 566.5,612.1 566.0,612.4 565.5,612.6 565.0,612.9 564.5,613.2 564.0,613.5 563.5,613.7 563.0,614.0 562.5,614.8 562.0,615.6 561.5,616.4 561.0,617.2 560.5,617.9 560.0,619.1 559.5,620.5 559.0,621.8 558.5,623.1 558.0,624.4 557.5,625.7 557.0,626.7 556.5,627.6 556.0,628.4 555.5,629.3 555.0,630.1 554.5,631.0 554.0,631.8 553.5,632.7 553.0,633.5 552.5,634.4 552.0,634.6 551.5,634.9 551.0,635.1 550.5,635.3 550.0,635.5 549.5,635.8 549.0,636.0 548.5,636.2 548.0,636.5 547.5,637.0 547.0,637.6 546.5,638.1 546.0,638.6 545.5,639.1 545.0,639.7 544.5,640.2 544.0,640.7 543.5,641.2 543.0,641.8 542.5,642.3 542.0,642.5 541.5,642.5 541.0,642.4 540.5,642.4 540.0,642.4 539.5,642.3 539.0,642.3 538.5,642.3 538.0,642.3 537.5,642.2 537.0,642.2 536.5,642.2 536.0,642.2 535.5,642.1 535.0,642.1 534.5,642.1 534.0,642.0 533.5,642.0 533.0,642.0 532.5,642.0 532.0,641.9 531.5,641.9 531.0,641.9 530.5,641.9 530.0,641.8 529.5,641.8 529.0,641.8 528.5,641.7 528.0,641.7 527.5,641.7 527.0,641.7 526.5,641.6 526.0,641.6 525.5,641.6 525.0,641.6 524.5,641.5 524.0,641.5 523.5,641.4 523.0,641.4 522.5,641.3 522.0,641.3 521.5,641.2 521.0,641.1 520.5,641.1 520.0,641.0 519.5,640.9 519.0,640.9 518.5,640.8 518.0,640.8 517.5,640.7 517.0,640.6 516.5,640.6 516.0,640.5 515.5,640.5 515.0,640.4 514.5,640.3 514.0,640.3 513.5,640.2 513.0,640.2 512.5,640.1 512.0,640.0 511.5,640.0 511.0,639.9 510.5,639.8 510.0,639.8 509.5,639.7 509.0,639.7 508.5,639.6 508.0,639.5 507.5,639.5 507.0,639.5 506.5,639.5 506.0,639.5 505.5,639.5 505.0,639.5 504.5,639.5 504.0,639.5 503.5,639.5 503.0,639.5 502.5,639.5 502.0,639.5 501.5,639.5 501.0,639.5 500.5,639.5 500.0,639.5 499.5,639.5 499.0,639.5 498.5,639.5 498.0,639.5 497.5,639.5 497.0,639.5 496.5,639.5 496.0,639.5 495.5,639.5 495.0,639.5 494.5,639.5 494.0,639.5 493.5,639.5 493.0,639.5 492.5,639.5 492.0,639.5 491.5,639.5 491.0,639.5 490.5,639.5 490.0,639.5 489.5,639.5 489.0,639.5 488.5,639.5 488.0,639.5 487.5,639.5 487.0,639.5 486.5,639.5 486.0,639.5 485.5,639.5 485.0,639.5 484.5,639.5 484.0,639.5 483.5,639.5 483.0,639.5 482.5,639.5 482.0,639.5 481.5,639.5 481.0,639.5 480.5,639.5 480.0,639.5 479.5,639.5 479.0,639.5 478.5,639.5 478.0,639.5 477.5,639.5 477.0,639.6 476.5,639.7 476.0,639.9 475.5,640.1 475.0,640.2 474.5,640.4 474.0,640.5 473.5,640.7 473.0,640.9 472.5,641.0 472.0,641.2 471.5,641.4 471.0,641.5 470.5,641.7 470.0,641.9 469.5,642.0 469.0,642.2 468.5,642.4 468.0,642.5 467.5,642.7 467.0,642.8 466.5,643.0 466.0,643.2 465.5,643.3 465.0,643.5 464.5,643.7 464.0,643.8 463.5,644.0 463.0,644.1 462.5,644.3 462.0,644.4 461.5,644.6 461.0,644.7 460.5,644.9 460.0,645.0 459.5,645.2 459.0,645.3 458.5,645.5 458.0,645.6 457.5,645.8 457.0,645.9 456.5,646.1 456.0,646.2 455.5,646.4 455.0,646.5 454.5,646.8 454.0,647.0 453.5,647.3 453.0,647.6 452.5,647.9 452.0,648.1 451.5,648.4 451.0,648.7 450.5,649.0 450.0,649.2 449.5,649.5 449.0,649.8 448.5,650.1 448.0,650.3 447.5,650.6 447.0,650.9 446.5,651.1 446.0,651.1 445.5,651.1 445.0,651.1 444.5,651.1 444.0,651.1 443.5,651.1 443.0,651.1 442.5,651.1 442.0,651.1 441.5,651.1 441.0,651.1 440.5,651.1 440.0,651.1 439.5,651.1 439.0,651.1 438.5,651.1 438.0,651.1 437.5,651.1 437.0,651.1 436.5,651.1 436.0,651.1 435.5,651.1 435.0,651.1 434.5,651.1 434.0,651.1 433.5,651.1 433.0,651.1 432.5,651.1 432.0,651.1 431.5,651.1 431.0,651.1 430.5,651.1 430.0,651.1 429.5,651.1 429.0,651.1 428.5,651.1 428.0,651.1 427.5,651.1 427.0,651.1 426.5,651.1 426.0,651.1 425.5,651.1 425.0,651.1 424.5,651.1 424.0,651.1 423.5,651.1 423.0,651.1 422.5,651.1 422.0,651.1 421.5,651.1 421.0,651.1 420.5,651.1 420.0,651.1 419.5,651.0 419.0,650.8 418.5,650.7 418.0,650.6 417.5,650.5 417.0,650.4 416.5,650.3 416.0,650.2 415.5,650.1 415.0,650.0 414.5,650.0 414.0,649.9 413.5,649.9 413.0,649.8 412.5,649.8 412.0,649.7 411.5,649.7 411.0,649.6 410.5,649.7 410.0,649.7 409.5,649.8 409.0,649.9 408.5,650.0 408.0,650.1 407.5,650.2 407.0,650.3 406.5,650.4 406.0,650.4 405.5,650.5 405.0,650.6 404.5,650.7 404.0,650.8 403.5,650.9 403.0,651.0 402.5,651.1 402.0,651.1 401.5,651.2 401.0,651.3 400.5,651.4 400.0,651.5 399.5,651.6 399.0,651.8 398.5,651.9 398.0,652.1 397.5,652.2 397.0,652.4 396.5,652.5 396.0,652.7 395.5,652.8 395.0,653.0 394.5,653.1 394.0,653.3 393.5,653.4 393.0,653.6 392.5,653.7 392.0,654.0 391.5,654.2 391.0,654.5 390.5,654.7 390.0,655.0 389.5,655.2 389.0,655.5 388.5,655.7 388.0,656.0 387.5,656.2 387.0,656.5 386.5,656.7 386.0,657.0 385.5,657.4 385.0,657.9 384.5,658.3 384.0,658.7 383.5,659.1 383.0,659.6 382.5,660.0 382.0,660.0 381.5,660.0 381.0,660.0 380.5,660.0 380.0,660.0 379.5,660.0 379.0,660.0 378.5,660.0 378.0,660.0 377.5,660.0 377.0,660.0 376.5,660.0 376.0,660.0 375.5,660.0 375.0,660.0 374.5,660.0 374.0,660.0 373.5,660.0 373.0,660.0 372.5,660.0 372.0,660.0 371.5,660.0 371.0,660.0 370.5,660.0 370.0,660.0 369.5,660.0 369.0,660.0 368.5,660.0 368.0,660.0 367.5,660.0 367.0,660.0 366.5,660.0 366.0,660.0 365.5,660.0 365.0,660.0 364.5,660.0 364.0,660.0 363.5,660.0 363.0,660.0 362.5,660.0 362.0,660.0 361.5,660.0 361.0,660.0 360.5,660.0 360.0,660.0 359.5,660.0 359.0,660.0 358.5,660.0 358.0,660.0 357.5,660.0 357.0,660.0 356.5,660.0 356.0,660.0 355.5,660.0 355.0,660.0 354.5,660.0 354.0,660.0 353.5,660.0 353.0,660.0 352.5,660.0 352.0,660.0 351.5,660.0 351.0,660.0 350.5,660.0 350.0,660.0 349.5,660.0 349.0,660.0 348.5,660.0 348.0,660.0 347.5,660.0 347.0,660.0 346.5,660.0 346.0,660.0 345.5,660.0 345.0,660.0 344.5,660.0 344.0,660.0 343.5,660.0 343.0,660.0 342.5,660.0 342.0,660.0 341.5,660.0 341.0,660.0 340.5,660.0 340.0,660.0 339.5,660.0 339.0,660.0 338.5,660.0 338.0,660.0 337.5,660.0 337.0,660.0 336.5,660.0 336.0,660.0 335.5,660.0 335.0,660.0 334.5,660.0 334.0,660.0 333.5,660.0 333.0,660.0 332.5,660.0 332.0,660.0 331.5,660.0 331.0,660.0 330.5,660.0 330.0,660.0 329.5,660.0 329.0,660.0 328.5,660.0 328.0,660.0 327.5,660.0 327.0,660.0 326.5,660.0 326.0,660.0 325.5,660.0 325.0,660.0 324.5,660.0 324.0,660.0 323.5,660.0 323.0,660.0 322.5,660.0 322.0,660.0 321.5,660.0 321.0,660.0 320.5,660.0 320.0,660.0 319.5,660.0 319.0,660.0 318.5,660.0 318.0,660.0 317.5,660.0 317.0,660.0 316.5,660.0 316.0,660.0 315.5,660.0 315.0,660.0 314.5,660.0 314.0,660.0 313.5,660.0 313.0,660.0 312.5,660.0 312.0,660.0 311.5,660.0 311.0,660.0 310.5,660.0 310.0,660.0 309.5,660.0 309.0,660.0 308.5,660.0 308.0,660.0 307.5,660.0 307.0,660.0 306.5,660.0 306.0,660.0 305.5,660.0 305.0,660.0 304.5,660.0 304.0,660.0 303.5,660.0 303.0,660.0 302.5,660.0 302.0,660.0 301.5,660.0 301.0,660.0 300.5,660.0 300.0,660.0 299.5,660.0 299.0,660.0 298.5,660.0 298.0,660.0 297.5,660.0 297.0,660.0 296.5,660.0 296.0,660.0 295.5,660.0 295.0,660.0 294.5,660.0 294.0,660.0 293.5,660.0 293.0,660.0 292.5,660.0 292.0,660.0 291.5,660.0 291.0,660.0 290.5,660.0 290.0,660.0 289.5,660.0 289.0,660.0 288.5,660.0 288.0,660.0 287.5,660.0 287.0,659.8 286.5,659.5 286.0,659.3 285.5,659.1 285.0,658.9 284.5,658.6 284.0,658.4 283.5,658.2 283.0,657.9 282.5,657.7 282.0,657.5 281.5,657.3 281.0,657.0 280.5,656.8 280.0,656.7 279.5,656.6 279.0,656.5 278.5,656.4 278.0,656.3 277.5,656.2 277.0,656.1 276.5,656.0 276.0,655.9 275.5,655.8 275.0,655.7 274.5,655.6 274.0,655.4 273.5,655.3 273.0,655.2 272.5,655.1 272.0,655.0 271.5,654.9 271.0,654.8 270.5,654.7 270.0,654.6 269.5,654.4 269.0,654.3 268.5,654.1 268.0,653.9 267.5,653.8 267.0,653.6 266.5,653.5 266.0,653.3 265.5,653.2 265.0,653.0 264.5,652.9 264.0,652.9 263.5,652.8 263.0,652.7 262.5,652.6 262.0,652.6 261.5,652.5 261.0,652.4 260.5,652.4 260.0,652.3 259.5,652.4 259.0,652.5 258.5,652.7 258.0,652.8 257.5,652.9 257.0,653.0 256.5,653.1 256.0,653.3 255.5,653.4 255.0,653.5 254.5,653.8 254.0,654.0 253.5,654.2 253.0,654.5 252.5,654.8 252.0,655.0 251.5,655.2 251.0,655.5 250.5,655.8 250.0,656.0 249.5,656.0 249.0,656.0 248.5,656.1 248.0,656.1 247.5,656.1 247.0,656.1 246.5,656.1 246.0,656.2 245.5,656.2 245.0,656.2 244.5,656.2 244.0,656.3 243.5,656.3 243.0,656.3 242.5,656.3 242.0,656.3 241.5,656.4 241.0,656.4 240.5,656.4 240.0,656.4 239.5,656.4 239.0,656.4 238.5,656.4 238.0,656.4 237.5,656.4 237.0,656.4 236.5,656.4 236.0,656.4 235.5,656.4 235.0,656.4 234.5,656.4 234.0,656.4 233.5,656.4 233.0,656.4 232.5,656.4 232.0,656.4 231.5,656.4 231.0,656.4 230.5,656.4 230.0,656.4 229.5,656.4 229.0,656.4 228.5,656.4 228.0,656.4 227.5,656.4 227.0,656.4 226.5,656.4 226.0,656.4 225.5,656.4 225.0,656.4 224.5,656.4 224.0,656.4 223.5,656.4 223.0,656.4 222.5,656.4 222.0,656.4 221.5,656.4 221.0,656.4 220.5,656.4 220.0,656.4 219.5,656.4 219.0,656.4 218.5,656.4 218.0,656.4 217.5,656.4 217.0,656.4 216.5,656.4 216.0,656.4 215.5,656.4 215.0,656.4 214.5,656.4 214.0,656.4 213.5,656.4 213.0,656.4 212.5,656.4 212.0,656.4 211.5,656.4 211.0,656.4 210.5,656.4 210.0,656.4 209.5,656.4 209.0,656.4 208.5,656.4 208.0,656.4 207.5,656.4 207.0,656.4 206.5,656.4 206.0,656.4 205.5,656.4 205.0,656.4 204.5,656.4 204.0,656.4 203.5,656.4 203.0,656.4 202.5,656.4 202.0,656.4 201.5,656.4 201.0,656.4 200.5,656.4 200.0,656.4 199.5,656.4 199.0,656.4 198.5,656.4 198.0,656.4 197.5,656.4 197.0,656.4 196.5,656.4 196.0,656.4 195.5,656.4 195.0,656.4 194.5,656.4 194.0,656.4 193.5,656.4 193.0,656.4 192.5,656.4 192.0,656.4 191.5,656.4 191.0,656.4 190.5,656.4 190.0,656.4 189.5,656.4 189.0,656.4 188.5,656.4 188.0,656.4 187.5,656.4 187.0,656.4 186.5,656.4 186.0,656.4 185.5,656.4 185.0,656.4 184.5,656.4 184.0,656.4 183.5,656.4 183.0,656.3 182.5,656.3 182.0,656.3 181.5,656.3 181.0,656.3 180.5,656.3 180.0,656.3 179.5,656.3 179.0,656.3 178.5,656.3 178.0,656.3 177.5,656.2 177.0,656.2 176.5,656.2 176.0,656.2 175.5,656.2 175.0,656.2 174.5,656.2 174.0,656.2 173.5,656.2 173.0,656.2 172.5,656.1 172.0,656.1 171.5,656.1 171.0,656.1 170.5,656.1 170.0,656.1 169.5,656.1 169.0,656.1 168.5,656.1 168.0,656.1 167.5,656.1 167.0,656.0 166.5,656.0 166.0,656.0 165.5,656.0 165.0,656.0 164.5,656.0 164.0,656.0 163.5,656.0 163.0,656.0 162.5,656.0 162.0,655.9 161.5,655.9 161.0,655.9 160.5,655.9 160.0,655.9 159.5,655.9 159.0,655.9 158.5,655.9 158.0,655.9 157.5,655.9 157.0,655.9 156.5,655.8 156.0,655.8 155.5,655.8 155.0,655.8 154.5,655.8 154.0,655.8 153.5,655.8 153.0,655.8 152.5,655.8 152.0,655.8 151.5,655.7 151.0,655.7 150.5,655.7 150.0,655.7 149.5,655.7 149.0,655.7 148.5,655.6 148.0,655.5 147.5,655.4 147.0,655.2 146.5,655.1 146.0,655.0 145.5,654.9 145.0,654.8 144.5,654.5 144.0,654.3 143.5,654.0 143.0,653.8 142.5,653.5 142.0,653.3 141.5,653.0 141.0,652.8 140.5,652.1 140.0,651.4 139.5,650.6 139.0,649.9 138.5,649.1 138.0,648.4 137.5,647.6 137.0,646.9 136.5,646.5 136.0,646.3 135.5,646.2 135.0,646.0 134.5,645.8 134.0,645.6 133.5,645.5 133.0,645.3 132.5,645.1 132.0,644.9 131.5,644.8 131.0,644.6 130.5,644.3 130.0,643.8 129.5,643.3 129.0,642.8 128.5,642.4 128.0,641.9 127.5,641.4 127.0,640.9 126.5,640.5 126.0,640.5 125.5,640.5 125.0,640.5 124.5,640.5 124.0,640.5 123.5,640.5 123.0,640.5 122.5,640.5 122.0,640.5 121.5,640.5 121.0,640.5 120.5,640.5 120.0,640.5 119.5,640.5 119.0,640.5 118.5,640.5 118.0,640.5 117.5,640.5 117.0,640.5 116.5,640.5 116.0,640.5 115.5,640.5 115.0,640.5 114.5,640.5 114.0,640.5 113.5,640.5 113.0,640.5 112.5,640.5 112.0,640.5 111.5,640.5 111.0,640.5 110.5,640.5 110.0,640.5 109.5,640.5 109.0,640.5 108.5,640.5 108.0,640.5 107.5,640.5 107.0,640.5 106.5,640.5 106.0,640.5 105.5,640.5 105.0,640.5 104.5,640.5 104.0,640.5 103.5,640.5 103.0,640.5 102.5,640.5 102.0,640.5 101.5,640.5 101.0,640.5 100.5,640.5 100.0,640.5 99.5,640.5 99.0,640.5 98.5,640.5 98.0,640.5 97.5,640.5 97.0,640.5 96.5,640.5 96.0,640.5 95.5,640.5 95.0,640.5" fill="#9dbde3" mask="url(#m_bonds)"/><polygon points="95.0,620.3 95.5,620.3 96.0,620.3 96.5,620.3 97.0,620.3 97.5,620.3 98.0,620.3 98.5,620.3 99.0,620.3 99.5,620.3 100.0,620.3 100.5,620.2 101.0,620.1 101.5,620.1 102.0,620.0 102.5,619.9 103.0,619.8 103.5,619.7 104.0,619.7 104.5,619.6 105.0,619.5 105.5,619.5 106.0,619.5 106.5,619.4 107.0,619.4 107.5,619.4 108.0,619.4 108.5,619.4 109.0,619.4 109.5,619.3 110.0,619.3 110.5,619.3 111.0,619.3 111.5,619.3 112.0,619.3 112.5,619.4 113.0,619.4 113.5,619.4 114.0,619.4 114.5,619.4 115.0,619.4 115.5,619.4 116.0,619.4 116.5,619.5 117.0,619.5 117.5,619.5 118.0,619.5 118.5,619.5 119.0,619.6 119.5,619.6 120.0,619.6 120.5,619.7 121.0,619.7 121.5,619.7 122.0,619.8 122.5,619.8 123.0,619.8 123.5,619.9 124.0,619.9 124.5,620.0 125.0,620.0 125.5,620.0 126.0,620.1 126.5,620.1 127.0,620.2 127.5,620.4 128.0,620.5 128.5,620.7 129.0,620.9 129.5,621.0 130.0,621.2 130.5,621.3 131.0,621.5 131.5,621.8 132.0,622.1 132.5,622.3 133.0,622.6 133.5,622.9 134.0,623.2 134.5,623.5 135.0,623.8 135.5,624.0 136.0,624.4 136.5,624.8 137.0,625.2 137.5,625.6 138.0,626.0 138.5,626.9 139.0,627.8 139.5,628.7 140.0,629.7 140.5,630.6 141.0,631.4 141.5,631.9 142.0,632.5 142.5,633.0 143.0,633.5 143.5,633.7 144.0,633.8 144.5,634.0 145.0,634.1 145.5,634.3 146.0,634.5 146.5,634.6 147.0,634.8 147.5,634.8 148.0,634.8 148.5,634.8 149.0,634.8 149.5,634.8 150.0,634.8 150.5,634.8 151.0,634.8 151.5,634.9 152.0,634.9 152.5,634.9 153.0,634.9 153.5,634.9 154.0,634.9 154.5,634.9 155.0,634.9 155.5,634.9 156.0,634.9 156.5,634.9 157.0,634.8 157.5,634.8 158.0,634.8 158.5,634.8 159.0,634.8 159.5,634.8 160.0,634.8 160.5,634.7 161.0,634.7 161.5,634.7 162.0,634.7 162.5,634.7 163.0,634.7 163.5,634.7 164.0,634.6 164.5,634.6 165.0,634.6 165.5,634.6 166.0,634.4 166.5,634.3 167.0,634.2 167.5,634.1 168.0,634.0 168.5,633.7 169.0,633.4 169.5,633.1 170.0,632.6 170.5,631.5 171.0,629.3 171.5,627.2 172.0,625.0 172.5,622.8 173.0,620.5 173.5,618.2 174.0,617.2 174.5,616.1 175.0,615.0 175.5,613.9 176.0,612.8 176.5,611.8 177.0,610.7 177.5,609.6 178.0,608.5 178.5,607.4 179.0,606.4 179.5,605.3 180.0,604.2 180.5,603.2 181.0,602.1 181.5,601.1 182.0,600.0 182.5,599.0 183.0,597.9 183.5,596.9 184.0,595.8 184.5,594.8 185.0,593.7 185.5,592.6 186.0,591.6 186.5,590.5 187.0,589.5 187.5,588.4 188.0,587.5 188.5,586.7 189.0,585.8 189.5,585.0 190.0,584.1 190.5,583.2 191.0,582.3 191.5,581.4 192.0,580.5 192.5,579.7 193.0,578.8 193.5,577.9 194.0,577.0 194.5,576.1 195.0,575.2 195.5,574.3 196.0,573.4 196.5,572.9 197.0,572.4 197.5,571.8 198.0,571.3 198.5,570.8 199.0,570.2 199.5,569.7 200.0,569.1 200.5,568.6 201.0,568.1 201.5,567.5 202.0,567.0 202.5,566.5 203.0,565.9 203.5,565.4 204.0,564.8 204.5,564.6 205.0,564.4 205.5,564.3 206.0,564.1 206.5,563.9 207.0,563.7 207.5,563.5 208.0,563.3 208.5,563.1 209.0,562.9 209.5,562.7 210.0,562.5 210.5,562.2 211.0,562.0 211.5,561.7 212.0,561.5 212.5,561.4 213.0,561.4 213.5,561.5 214.0,561.5 214.5,561.5 215.0,561.5 215.5,561.5 216.0,561.6 216.5,561.6 217.0,561.6 217.5,561.6 218.0,561.6 218.5,561.7 219.0,561.7 219.5,561.7 220.0,561.7 220.5,561.7 221.0,561.7 221.5,561.7 222.0,561.6 222.5,561.6 223.0,561.6 223.5,561.6 224.0,561.6 224.5,561.5 225.0,561.5 225.5,561.5 226.0,561.5 226.5,561.4 227.0,561.4 227.5,561.4 228.0,561.4 228.5,561.2 229.0,560.7 229.5,560.1 230.0,559.5 230.5,558.9 231.0,558.3 231.5,557.8 232.0,557.2 232.5,556.6 233.0,556.0 233.5,555.4 234.0,554.8 234.5,554.2 235.0,553.7 235.5,553.1 236.0,552.5 236.5,551.9 237.0,551.1 237.5,550.3 238.0,549.5 238.5,548.8 239.0,548.0 239.5,547.2 240.0,546.4 240.5,545.6 241.0,544.8 241.5,544.0 242.0,543.2 242.5,542.4 243.0,541.7 243.5,540.9 244.0,540.1 244.5,539.3 245.0,538.6 245.5,537.8 246.0,537.1 246.5,536.4 247.0,535.7 247.5,535.0 248.0,534.3 248.5,533.6 249.0,532.9 249.5,532.2 250.0,531.5 250.5,530.8 251.0,530.3 251.5,530.2 252.0,530.1 252.5,530.0 253.0,529.9 253.5,529.8 254.0,529.7 254.5,529.5 255.0,529.4 255.5,529.5 256.0,529.5 256.5,529.6 257.0,529.6 257.5,529.7 258.0,529.8 258.5,529.8 259.0,529.9 259.5,529.8 260.0,529.8 260.5,529.8 261.0,529.8 261.5,529.8 262.0,529.8 262.5,529.7 263.0,529.7 263.5,529.7 264.0,529.7 264.5,529.7 265.0,529.6 265.5,529.6 266.0,529.6 266.5,529.6 267.0,529.6 267.5,529.6 268.0,529.5 268.5,529.5 269.0,529.5 269.5,529.6 270.0,529.6 270.5,529.6 271.0,529.6 271.5,529.6 272.0,529.6 272.5,529.7 273.0,529.7 273.5,529.7 274.0,529.7 274.5,529.7 275.0,529.7 275.5,529.8 276.0,529.8 276.5,529.8 277.0,529.8 277.5,529.8 278.0,529.8 278.5,529.9 279.0,529.9 279.5,530.0 280.0,530.1 280.5,530.1 281.0,530.2 281.5,530.2 282.0,530.3 282.5,530.3 283.0,530.4 283.5,530.4 284.0,530.5 284.5,530.5 285.0,530.6 285.5,530.7 286.0,530.7 286.5,530.8 287.0,530.8 287.5,530.9 288.0,530.9 288.5,531.0 289.0,531.1 289.5,531.1 290.0,531.2 290.5,531.2 291.0,531.3 291.5,531.3 292.0,531.4 292.5,531.5 293.0,531.5 293.5,531.6 294.0,531.6 294.5,531.7 295.0,531.6 295.5,531.4 296.0,531.2 296.5,531.0 297.0,530.8 297.5,530.5 298.0,530.2 298.5,529.9 299.0,529.6 299.5,529.1 300.0,528.6 300.5,528.0 301.0,527.5 301.5,527.0 302.0,526.4 302.5,525.9 303.0,525.3 303.5,524.3 304.0,523.2 304.5,522.2 305.0,521.2 305.5,520.3 306.0,519.3 306.5,518.4 307.0,517.4 307.5,516.5 308.0,515.5 308.5,514.6 309.0,513.6 309.5,512.7 310.0,511.7 310.5,510.8 311.0,509.8 311.5,508.9 312.0,508.0 312.5,507.1 313.0,506.2 313.5,505.3 314.0,504.4 314.5,503.5 315.0,502.6 315.5,501.7 316.0,500.8 316.5,499.9 317.0,499.0 317.5,498.1 318.0,497.2 318.5,496.3 319.0,495.4 319.5,494.5 320.0,493.8 320.5,493.0 321.0,492.2 321.5,491.5 322.0,490.7 322.5,489.9 323.0,489.2 323.5,488.4 324.0,487.6 324.5,486.9 325.0,486.1 325.5,485.3 326.0,484.6 326.5,483.8 327.0,483.1 327.5,482.3 328.0,481.4 328.5,480.5 329.0,479.5 329.5,478.6 330.0,477.7 330.5,476.8 331.0,475.9 331.5,475.0 332.0,474.1 332.5,473.2 333.0,472.3 333.5,471.4 334.0,470.5 334.5,469.6 335.0,468.7 335.5,467.8 336.0,467.1 336.5,466.5 337.0,465.9 337.5,465.2 338.0,464.6 338.5,463.9 339.0,463.3 339.5,462.6 340.0,462.0 340.5,461.4 341.0,460.7 341.5,460.1 342.0,459.4 342.5,458.8 343.0,458.2 343.5,457.5 344.0,457.0 344.5,456.5 345.0,456.0 345.5,455.4 346.0,454.9 346.5,454.4 347.0,453.9 347.5,453.4 348.0,452.9 348.5,452.4 349.0,451.8 349.5,451.3 350.0,450.8 350.5,450.3 351.0,449.8 351.5,449.3 352.0,448.9 352.5,448.6 353.0,448.3 353.5,448.1 354.0,447.8 354.5,447.6 355.0,447.3 355.5,447.1 356.0,446.8 356.5,446.5 357.0,446.3 357.5,446.0 358.0,445.8 358.5,445.5 359.0,445.2 359.5,445.0 360.0,444.7 360.5,444.6 361.0,444.5 361.5,444.3 362.0,444.2 362.5,444.0 363.0,443.9 363.5,443.8 364.0,443.6 364.5,443.5 365.0,443.3 365.5,443.2 366.0,443.1 366.5,442.9 367.0,442.8 367.5,442.7 368.0,442.5 368.5,442.4 369.0,442.2 369.5,442.1 370.0,442.0 370.5,441.9 371.0,441.9 371.5,441.9 372.0,441.9 372.5,441.9 373.0,441.9 373.5,441.9 374.0,441.9 374.5,441.9 375.0,441.9 375.5,441.9 376.0,441.9 376.5,441.9 377.0,441.9 377.5,441.9 378.0,441.9 378.5,441.9 379.0,441.9 379.5,441.9 380.0,441.9 380.5,441.9 381.0,441.9 381.5,441.9 382.0,441.9 382.5,441.9 383.0,441.9 383.5,441.9 384.0,441.9 384.5,441.9 385.0,441.9 385.5,441.9 386.0,441.9 386.5,441.9 387.0,441.9 387.5,441.9 388.0,442.0 388.5,442.0 389.0,442.0 389.5,442.0 390.0,442.0 390.5,442.0 391.0,442.0 391.5,442.0 392.0,442.0 392.5,442.0 393.0,442.0 393.5,441.9 394.0,441.9 394.5,441.9 395.0,441.9 395.5,441.9 396.0,441.9 396.5,441.9 397.0,441.8 397.5,441.8 398.0,441.8 398.5,441.8 399.0,441.8 399.5,441.8 400.0,441.8 400.5,441.8 401.0,441.7 401.5,441.7 402.0,441.7 402.5,441.7 403.0,441.7 403.5,441.7 404.0,441.7 404.5,441.6 405.0,441.6 405.5,441.6 406.0,441.6 406.5,441.6 407.0,441.6 407.5,441.6 408.0,441.5 408.5,441.5 409.0,441.5 409.5,441.5 410.0,441.5 410.5,441.5 411.0,441.5 411.5,441.4 412.0,441.4 412.5,441.4 413.0,441.4 413.5,441.4 414.0,441.4 414.5,441.4 415.0,441.3 415.5,441.3 416.0,441.3 416.5,441.3 417.0,441.3 417.5,441.3 418.0,441.3 418.5,441.2 419.0,441.2 419.5,441.2 420.0,441.3 420.5,441.3 421.0,441.3 421.5,441.3 422.0,441.3 422.5,441.3 423.0,441.3 423.5,441.3 424.0,441.3 424.5,441.3 425.0,441.3 425.5,441.4 426.0,441.4 426.5,441.4 427.0,441.4 427.5,441.4 428.0,441.4 428.5,441.4 429.0,441.4 429.5,441.4 430.0,441.4 430.5,441.5 431.0,441.5 431.5,441.5 432.0,441.5 432.5,441.5 433.0,441.5 433.5,441.5 434.0,441.5 434.5,441.5 435.0,441.5 435.5,441.5 436.0,441.6 436.5,441.6 437.0,441.6 437.5,441.6 438.0,441.6 438.5,441.6 439.0,441.6 439.5,441.6 440.0,441.6 440.5,441.6 441.0,441.7 441.5,441.6 442.0,441.6 442.5,441.6 443.0,441.6 443.5,441.6 444.0,441.6 444.5,441.6 445.0,441.6 445.5,441.6 446.0,441.6 446.5,441.5 447.0,441.5 447.5,441.5 448.0,441.5 448.5,441.5 449.0,441.5 449.5,441.5 450.0,441.5 450.5,441.5 451.0,441.5 451.5,441.5 452.0,441.5 452.5,441.4 453.0,441.4 453.5,441.4 454.0,441.4 454.5,441.4 455.0,441.4 455.5,441.4 456.0,441.4 456.5,441.4 457.0,441.4 457.5,441.4 458.0,441.4 458.5,441.4 459.0,441.3 459.5,441.3 460.0,441.3 460.5,441.3 461.0,441.3 461.5,441.3 462.0,441.3 462.5,441.3 463.0,441.3 463.5,441.3 464.0,441.3 464.5,441.3 465.0,441.3 465.5,441.2 466.0,441.2 466.5,441.2 467.0,441.2 467.5,441.2 468.0,441.2 468.5,441.2 469.0,441.2 469.5,441.2 470.0,441.2 470.5,441.2 471.0,441.2 471.5,441.1 472.0,441.1 472.5,441.1 473.0,441.1 473.5,441.1 474.0,441.1 474.5,441.1 475.0,441.1 475.5,441.1 476.0,441.1 476.5,441.1 477.0,441.1 477.5,441.1 478.0,441.0 478.5,441.0 479.0,441.0 479.5,441.1 480.0,441.3 480.5,441.5 481.0,441.6 481.5,441.8 482.0,441.9 482.5,442.1 483.0,442.3 483.5,442.4 484.0,442.6 484.5,442.8 485.0,442.9 485.5,443.1 486.0,443.3 486.5,443.4 487.0,443.6 487.5,443.7 488.0,443.9 488.5,444.1 489.0,444.2 489.5,444.4 490.0,444.6 490.5,444.7 491.0,444.9 491.5,445.1 492.0,445.4 492.5,445.8 493.0,446.1 493.5,446.5 494.0,446.8 494.5,447.2 495.0,447.5 495.5,447.8 496.0,448.2 496.5,448.5 497.0,448.9 497.5,449.2 498.0,449.6 498.5,449.9 499.0,450.3 499.5,450.6 500.0,450.9 500.5,451.3 501.0,451.6 501.5,452.0 502.0,452.3 502.5,452.7 503.0,453.0 503.5,453.4 504.0,453.7 504.5,454.0 505.0,454.4 505.5,454.7 506.0,455.1 506.5,455.4 507.0,455.8 507.5,456.1 508.0,456.5 508.5,456.8 509.0,457.1 509.5,457.5 510.0,457.8 510.5,458.2 511.0,458.5 511.5,458.9 512.0,459.2 512.5,459.6 513.0,460.0 513.5,460.3 514.0,460.7 514.5,461.1 515.0,461.5 515.5,461.8 516.0,462.2 516.5,462.6 517.0,462.9 517.5,463.3 518.0,463.7 518.5,464.1 519.0,464.4 519.5,464.8 520.0,465.2 520.5,465.6 521.0,465.9 521.5,466.3 522.0,466.7 522.5,467.1 523.0,467.4 523.5,467.8 524.0,468.2 524.5,468.5 525.0,468.8 525.5,469.1 526.0,469.4 526.5,469.7 527.0,470.0 527.5,470.3 528.0,470.6 528.5,470.9 529.0,471.2 529.5,471.5 530.0,471.8 530.5,472.1 531.0,472.4 531.5,472.7 532.0,473.0 532.5,473.3 533.0,473.6 533.5,473.9 534.0,474.2 534.5,474.4 535.0,474.5 535.5,474.6 536.0,474.7 536.5,474.8 537.0,474.8 537.5,474.9 538.0,475.0 538.5,475.1 539.0,475.2 539.5,475.1 540.0,474.7 540.5,474.2 541.0,473.7 541.5,473.3 542.0,472.8 542.5,472.4 543.0,471.9 543.5,471.5 544.0,471.0 544.5,470.4 545.0,469.9 545.5,469.3 546.0,468.7 546.5,468.2 547.0,467.6 547.5,467.0 548.0,466.5 548.5,465.9 549.0,465.4 549.5,464.9 550.0,464.4 550.5,463.9 551.0,463.5 551.5,463.0 552.0,462.5 552.5,462.0 553.0,461.5 553.5,460.9 554.0,460.3 554.5,459.8 555.0,459.2 555.5,458.6 556.0,452.4 556.5,444.8 557.0,430.3 557.5,411.0 558.0,398.0 558.5,385.0 559.0,372.0 559.5,367.4 560.0,362.7 560.5,358.6 561.0,356.9 561.5,355.1 562.0,353.4 562.5,351.6 563.0,349.8 563.5,348.0 564.0,346.2 564.5,344.5 565.0,343.5 565.5,342.5 566.0,341.5 566.5,340.5 567.0,339.5 567.5,338.5 568.0,337.5 568.5,336.5 569.0,335.5 569.5,334.5 570.0,333.5 570.5,332.6 571.0,331.6 571.5,330.6 572.0,329.6 572.5,328.6 573.0,327.7 573.5,326.8 574.0,325.9 574.5,325.1 575.0,324.2 575.5,323.3 576.0,322.4 576.5,321.6 577.0,320.7 577.5,319.8 578.0,318.9 578.5,318.1 579.0,317.2 579.5,316.3 580.0,315.4 580.5,314.6 581.0,313.5 581.5,312.4 582.0,311.3 582.5,310.2 583.0,309.1 583.5,308.0 584.0,306.8 584.5,305.7 585.0,304.6 585.5,303.5 586.0,302.4 586.5,301.3 587.0,300.1 587.5,299.0 588.0,297.9 588.5,296.8 589.0,295.7 589.5,294.5 590.0,293.4 590.5,292.3 591.0,291.1 591.5,290.0 592.0,288.9 592.5,287.7 593.0,286.6 593.5,285.5 594.0,284.3 594.5,283.2 595.0,282.0 595.5,280.9 596.0,279.8 596.5,278.6 597.0,277.5 597.5,276.4 598.0,275.2 598.5,274.1 599.0,273.0 599.5,271.9 600.0,270.7 600.5,269.6 601.0,268.5 601.5,267.3 602.0,266.2 602.5,265.1 603.0,263.9 603.5,262.8 604.0,261.7 604.5,260.6 605.0,259.4 605.5,258.3 606.0,257.1 606.5,255.9 607.0,254.7 607.5,253.6 608.0,252.4 608.5,251.2 609.0,250.0 609.5,248.8 610.0,247.7 610.5,246.5 611.0,245.3 611.5,244.1 612.0,243.0 612.5,241.8 613.0,240.6 613.5,239.5 614.0,238.6 614.5,237.6 615.0,236.7 615.5,235.7 616.0,234.8 616.5,233.9 617.0,232.9 617.5,232.0 618.0,231.0 618.5,230.1 619.0,229.1 619.5,228.2 620.0,227.2 620.5,226.3 621.0,225.4 621.5,224.5 622.0,224.1 622.5,223.7 623.0,223.2 623.5,222.8 624.0,222.4 624.5,221.9 625.0,221.5 625.5,221.4 626.0,221.3 626.5,221.2 627.0,221.1 627.5,221.0 628.0,220.8 628.5,220.7 629.0,220.6 629.5,220.5 630.0,220.6 630.5,220.6 631.0,220.7 631.5,220.8 632.0,220.8 632.5,220.9 633.0,221.0 633.5,221.0 634.0,221.1 634.5,221.2 635.0,221.2 635.5,221.3 636.0,221.4 636.5,221.4 637.0,221.5 637.5,221.6 638.0,221.8 638.5,222.1 639.0,222.4 639.5,222.7 640.0,223.0 640.5,223.3 641.0,223.6 641.5,223.9 642.0,224.2 642.5,224.5 643.0,224.8 643.5,225.1 644.0,225.4 644.5,225.7 645.0,226.1 645.5,226.4 646.0,226.8 646.5,227.5 647.0,228.3 647.5,229.0 648.0,229.8 648.5,230.5 649.0,231.3 649.5,232.1 650.0,232.8 650.5,233.6 651.0,234.3 651.5,235.1 652.0,235.9 652.5,236.6 653.0,237.4 653.5,238.1 654.0,238.9 654.5,239.6 655.0,240.4 655.5,241.1 656.0,241.9 656.5,242.6 657.0,243.4 657.5,244.1 658.0,244.9 658.5,245.6 659.0,246.3 659.5,247.1 660.0,247.8 660.5,248.6 661.0,249.3 661.5,250.1 662.0,250.8 662.5,251.5 663.0,252.3 663.5,253.0 664.0,253.8 664.5,254.5 665.0,255.3 665.5,256.0 666.0,256.8 666.5,257.5 667.0,258.3 667.5,259.0 668.0,259.8 668.5,260.5 669.0,261.3 669.5,262.0 670.0,262.8 670.5,263.5 671.0,264.3 671.5,265.1 672.0,265.8 672.5,266.6 673.0,267.3 673.5,268.1 674.0,268.8 674.5,269.5 675.0,270.2 675.5,270.9 676.0,271.5 676.5,272.2 677.0,272.9 677.5,273.5 678.0,274.2 678.5,274.9 679.0,275.5 679.5,276.2 680.0,276.9 680.5,277.5 681.0,278.2 681.5,278.9 682.0,279.6 682.5,280.2 683.0,280.9 683.5,281.6 684.0,282.2 684.5,282.9 685.0,283.6 685.5,284.2 686.0,284.9 686.5,285.6 687.0,286.2 687.5,286.7 688.0,287.3 688.5,287.9 689.0,288.5 689.5,289.1 690.0,289.7 690.5,290.2 691.0,290.8 691.5,291.4 692.0,292.0 692.5,292.7 693.0,293.4 693.5,294.0 694.0,294.7 694.5,295.4 695.0,296.1 695.5,296.8 696.0,297.4 696.5,298.1 697.0,298.8 697.5,299.5 698.0,300.1 698.5,300.8 699.0,301.5 699.5,302.2 700.0,302.9 700.5,303.5 701.0,303.9 701.5,304.2 702.0,304.6 702.5,305.0 703.0,305.4 703.5,305.8 704.0,306.2 704.5,306.6 705.0,306.9 705.5,307.3 706.0,307.7 706.5,308.1 707.0,308.5 707.5,308.9 708.0,309.3 708.5,309.6 709.0,310.0 709.5,310.4 710.0,310.8 710.5,311.2 711.0,311.6 711.5,312.0 712.0,312.4 712.5,312.8 713.0,313.2 713.5,313.6 714.0,314.0 714.5,314.4 715.0,314.7 715.5,315.1 716.0,315.5 716.5,315.9 717.0,316.3 717.5,316.7 718.0,317.1 718.5,317.5 719.0,317.9 719.5,318.3 720.0,318.7 720.5,319.0 721.0,319.4 721.5,319.7 722.0,320.1 722.5,320.4 723.0,320.8 723.5,321.2 724.0,321.5 724.5,321.9 725.0,322.2 725.5,322.6 726.0,322.9 726.5,323.3 727.0,323.7 727.5,324.0 728.0,324.4 728.5,324.6 729.0,324.9 729.5,325.1 730.0,325.4 730.5,325.6 731.0,325.9 731.5,326.1 732.0,326.4 732.5,326.6 733.0,326.9 733.5,327.1 734.0,327.4 734.5,327.6 735.0,327.9 735.5,328.1 736.0,328.4 736.5,328.6 737.0,328.8 737.5,329.0 738.0,329.1 738.5,329.3 739.0,329.5 739.5,329.7 740.0,329.9 740.5,330.1 741.0,330.3 741.5,330.5 742.0,330.6 742.5,330.8 743.0,331.0 743.5,331.2 744.0,331.4 744.5,331.6 745.0,331.8 745.5,332.0 746.0,332.1 746.5,332.3 747.0,332.5 747.5,332.6 748.0,332.8 748.5,333.0 749.0,333.1 749.5,333.3 750.0,333.5 750.5,333.6 751.0,333.8 751.5,334.0 752.0,334.2 752.5,334.3 753.0,334.5 753.5,334.7 754.0,334.8 754.5,335.0 755.0,335.2 755.5,335.3 756.0,335.5 756.5,335.7 757.0,335.6 757.5,335.5 758.0,335.4 758.5,335.3 759.0,335.2 759.5,335.1 760.0,335.0 760.5,334.8 761.0,334.5 761.5,334.3 762.0,334.0 762.5,333.8 763.0,333.5 763.0,439.2 762.5,439.6 762.0,440.1 761.5,440.5 761.0,440.9 760.5,441.3 760.0,441.8 759.5,442.2 759.0,442.6 758.5,442.6 758.0,442.6 757.5,442.6 757.0,442.6 756.5,442.6 756.0,442.6 755.5,442.6 755.0,442.6 754.5,442.6 754.0,442.6 753.5,442.6 753.0,442.6 752.5,442.6 752.0,442.6 751.5,442.6 751.0,442.6 750.5,442.6 750.0,442.6 749.5,442.6 749.0,442.6 748.5,442.6 748.0,442.6 747.5,442.6 747.0,442.6 746.5,442.6 746.0,442.6 745.5,442.6 745.0,442.6 744.5,442.6 744.0,442.6 743.5,442.6 743.0,442.5 742.5,442.5 742.0,442.4 741.5,442.4 741.0,442.3 740.5,442.3 740.0,442.2 739.5,442.2 739.0,442.1 738.5,442.1 738.0,442.0 737.5,441.9 737.0,441.9 736.5,441.8 736.0,441.8 735.5,441.7 735.0,441.7 734.5,441.6 734.0,441.6 733.5,441.5 733.0,441.5 732.5,441.3 732.0,441.1 731.5,440.9 731.0,440.7 730.5,440.5 730.0,440.3 729.5,440.1 729.0,439.9 728.5,439.7 728.0,439.5 727.5,439.3 727.0,439.1 726.5,439.0 726.0,438.8 725.5,438.6 725.0,438.4 724.5,438.2 724.0,438.0 723.5,437.8 723.0,437.6 722.5,437.4 722.0,437.2 721.5,437.0 721.0,436.8 720.5,436.6 720.0,436.4 719.5,436.3 719.0,436.1 718.5,435.8 718.0,435.6 717.5,435.4 717.0,435.2 716.5,434.9 716.0,434.7 715.5,434.5 715.0,434.3 714.5,434.1 714.0,433.8 713.5,433.6 713.0,433.4 712.5,433.2 712.0,432.9 711.5,432.7 711.0,432.5 710.5,432.3 710.0,432.1 709.5,431.8 709.0,431.6 708.5,431.4 708.0,431.0 707.5,430.6 707.0,430.1 706.5,429.7 706.0,429.2 705.5,428.8 705.0,428.3 704.5,427.9 704.0,427.4 703.5,427.0 703.0,426.5 702.5,426.1 702.0,425.6 701.5,425.2 701.0,424.7 700.5,424.3 700.0,423.8 699.5,423.4 699.0,422.9 698.5,422.5 698.0,422.0 697.5,421.6 697.0,421.1 696.5,420.6 696.0,420.1 695.5,419.6 695.0,419.1 694.5,418.6 694.0,418.1 693.5,417.5 693.0,417.0 692.5,416.5 692.0,416.0 691.5,415.5 691.0,415.0 690.5,414.5 690.0,414.0 689.5,413.6 689.0,413.2 688.5,412.8 688.0,412.4 687.5,412.0 687.0,411.6 686.5,411.2 686.0,410.7 685.5,410.2 685.0,409.7 684.5,409.2 684.0,408.7 683.5,408.2 683.0,407.7 682.5,407.2 682.0,406.7 681.5,406.2 681.0,405.7 680.5,405.1 680.0,404.6 679.5,404.1 679.0,403.6 678.5,403.1 678.0,402.6 677.5,402.1 677.0,401.6 676.5,401.1 676.0,400.6 675.5,400.1 675.0,399.6 674.5,399.1 674.0,398.5 673.5,398.0 673.0,397.4 672.5,396.8 672.0,396.2 671.5,395.6 671.0,395.0 670.5,394.5 670.0,393.9 669.5,393.3 669.0,392.7 668.5,392.1 668.0,391.6 667.5,391.0 667.0,390.4 666.5,389.8 666.0,389.2 665.5,388.6 665.0,388.1 664.5,387.5 664.0,386.9 663.5,386.3 663.0,385.7 662.5,385.1 662.0,384.6 661.5,384.2 661.0,383.8 660.5,383.3 660.0,382.9 659.5,382.5 659.0,382.0 658.5,381.6 658.0,381.2 657.5,380.7 657.0,380.3 656.5,379.9 656.0,379.4 655.5,379.0 655.0,378.6 654.5,378.1 654.0,377.7 653.5,377.1 653.0,376.6 652.5,376.0 652.0,375.4 651.5,374.9 651.0,374.3 650.5,373.7 650.0,373.2 649.5,372.6 649.0,372.0 648.5,371.5 648.0,370.9 647.5,370.3 647.0,369.7 646.5,369.2 646.0,368.6 645.5,368.2 645.0,367.9 644.5,367.5 644.0,367.2 643.5,366.8 643.0,366.5 642.5,366.1 642.0,365.8 641.5,365.4 641.0,365.1 640.5,364.7 640.0,364.4 639.5,364.1 639.0,363.7 638.5,363.4 638.0,363.0 637.5,362.8 637.0,362.7 636.5,362.7 636.0,362.6 635.5,362.6 635.0,362.5 634.5,362.5 634.0,362.4 633.5,362.4 633.0,362.3 632.5,362.3 632.0,362.2 631.5,362.2 631.0,362.1 630.5,362.1 630.0,362.0 629.5,362.0 629.0,362.1 628.5,362.2 628.0,362.2 627.5,362.3 627.0,362.4 626.5,362.4 626.0,362.5 625.5,362.8 625.0,363.1 624.5,363.4 624.0,363.8 623.5,364.1 623.0,364.4 622.5,364.7 622.0,365.0 621.5,365.3 621.0,365.9 620.5,366.6 620.0,367.2 619.5,367.9 619.0,368.6 618.5,369.2 618.0,369.9 617.5,370.5 617.0,371.2 616.5,371.9 616.0,372.5 615.5,373.2 615.0,373.8 614.5,374.5 614.0,375.1 613.5,375.8 613.0,376.5 612.5,377.1 612.0,377.8 611.5,378.4 611.0,379.1 610.5,379.9 610.0,380.6 609.5,381.4 609.0,382.1 608.5,382.9 608.0,383.6 607.5,384.4 607.0,385.1 606.5,385.9 606.0,386.6 605.5,387.3 605.0,388.1 604.5,388.8 604.0,389.6 603.5,390.3 603.0,391.1 602.5,391.8 602.0,392.6 601.5,393.3 601.0,394.0 600.5,394.7 600.0,395.3 599.5,396.0 599.0,396.6 598.5,397.3 598.0,397.9 597.5,398.6 597.0,399.2 596.5,399.9 596.0,400.5 595.5,401.2 595.0,401.9 594.5,402.5 594.0,403.2 593.5,403.8 593.0,404.5 592.5,405.1 592.0,405.8 591.5,406.4 591.0,407.1 590.5,407.8 590.0,408.5 589.5,409.3 589.0,410.0 588.5,410.8 588.0,411.6 587.5,412.3 587.0,413.1 586.5,413.8 586.0,414.6 585.5,415.3 585.0,416.1 584.5,416.8 584.0,417.6 583.5,418.3 583.0,419.1 582.5,419.8 582.0,420.6 581.5,421.3 581.0,422.1 580.5,422.8 580.0,423.4 579.5,424.1 579.0,424.7 578.5,425.3 578.0,426.0 577.5,426.6 577.0,427.3 576.5,427.9 576.0,428.6 575.5,429.2 575.0,429.9 574.5,430.5 574.0,431.2 573.5,431.8 573.0,432.5 572.5,433.1 572.0,433.8 571.5,434.4 571.0,435.1 570.5,435.7 570.0,436.5 569.5,437.3 569.0,438.1 568.5,438.8 568.0,439.6 567.5,440.4 567.0,441.2 566.5,441.9 566.0,442.7 565.5,443.4 565.0,444.2 564.5,444.9 564.0,445.6 563.5,446.4 563.0,447.1 562.5,447.9 562.0,450.3 561.5,452.7 561.0,454.5 560.5,456.2 560.0,458.0 559.5,462.3 559.0,466.6 558.5,475.0 558.0,500.0 557.5,526.6 557.0,528.8 556.5,530.9 556.0,533.0 555.5,534.1 555.0,535.1 554.5,536.2 554.0,537.3 553.5,538.4 553.0,539.4 552.5,540.5 552.0,541.1 551.5,541.6 551.0,542.2 550.5,542.7 550.0,543.3 549.5,543.9 549.0,544.4 548.5,545.0 548.0,545.6 547.5,546.1 547.0,546.7 546.5,547.2 546.0,547.8 545.5,548.4 545.0,548.9 544.5,549.5 544.0,549.7 543.5,549.9 543.0,550.1 542.5,550.2 542.0,550.4 541.5,550.6 541.0,550.7 540.5,550.9 540.0,551.0 539.5,551.2 539.0,551.4 538.5,551.5 538.0,551.7 537.5,551.9 537.0,552.0 536.5,552.2 536.0,552.3 535.5,552.1 535.0,552.0 534.5,551.9 534.0,551.8 533.5,551.7 533.0,551.6 532.5,551.5 532.0,551.4 531.5,551.3 531.0,551.1 530.5,551.0 530.0,550.9 529.5,550.8 529.0,550.7 528.5,550.6 528.0,550.5 527.5,550.4 527.0,550.3 526.5,550.2 526.0,550.0 525.5,549.9 525.0,549.8 524.5,549.7 524.0,549.6 523.5,549.4 523.0,549.2 522.5,549.0 522.0,548.8 521.5,548.6 521.0,548.3 520.5,548.1 520.0,547.9 519.5,547.7 519.0,547.5 518.5,547.3 518.0,547.1 517.5,546.9 517.0,546.7 516.5,546.5 516.0,546.3 515.5,546.0 515.0,545.8 514.5,545.6 514.0,545.4 513.5,545.2 513.0,545.0 512.5,544.8 512.0,544.6 511.5,544.4 511.0,544.2 510.5,544.0 510.0,543.8 509.5,543.6 509.0,543.5 508.5,543.3 508.0,543.1 507.5,542.9 507.0,542.7 506.5,542.5 506.0,542.3 505.5,542.1 505.0,542.0 504.5,541.8 504.0,541.6 503.5,541.4 503.0,541.2 502.5,541.0 502.0,540.8 501.5,540.6 501.0,540.5 500.5,540.3 500.0,540.1 499.5,539.9 499.0,539.7 498.5,539.5 498.0,539.3 497.5,539.1 497.0,539.0 496.5,538.8 496.0,538.6 495.5,538.4 495.0,538.2 494.5,538.1 494.0,537.9 493.5,537.8 493.0,537.6 492.5,537.5 492.0,537.3 491.5,537.1 491.0,537.0 490.5,536.8 490.0,536.7 489.5,536.5 489.0,536.4 488.5,536.2 488.0,536.1 487.5,535.9 487.0,535.7 486.5,535.6 486.0,535.4 485.5,535.3 485.0,535.1 484.5,535.0 484.0,534.8 483.5,534.6 483.0,534.5 482.5,534.3 482.0,534.2 481.5,534.0 481.0,533.9 480.5,533.7 480.0,533.6 479.5,533.4 479.0,533.3 478.5,533.3 478.0,533.3 477.5,533.3 477.0,533.3 476.5,533.3 476.0,533.3 475.5,533.3 475.0,533.3 474.5,533.3 474.0,533.3 473.5,533.3 473.0,533.3 472.5,533.3 472.0,533.3 471.5,533.3 471.0,533.3 470.5,533.3 470.0,533.3 469.5,533.3 469.0,533.3 468.5,533.3 468.0,533.3 467.5,533.3 467.0,533.3 466.5,533.3 466.0,533.3 465.5,533.3 465.0,533.3 464.5,533.3 464.0,533.3 463.5,533.3 463.0,533.3 462.5,533.3 462.0,533.3 461.5,533.3 461.0,533.3 460.5,533.3 460.0,533.3 459.5,533.3 459.0,533.3 458.5,533.3 458.0,533.3 457.5,533.3 457.0,533.3 456.5,533.3 456.0,533.3 455.5,533.3 455.0,533.3 454.5,533.3 454.0,533.3 453.5,533.3 453.0,533.3 452.5,533.3 452.0,533.3 451.5,533.3 451.0,533.3 450.5,533.3 450.0,533.3 449.5,533.3 449.0,533.3 448.5,533.3 448.0,533.3 447.5,533.3 447.0,533.3 446.5,533.3 446.0,533.3 445.5,533.3 445.0,533.3 444.5,533.3 444.0,533.3 443.5,533.3 443.0,533.3 442.5,533.3 442.0,533.3 441.5,533.3 441.0,533.3 440.5,533.3 440.0,533.3 439.5,533.3 439.0,533.3 438.5,533.3 438.0,533.3 437.5,533.3 437.0,533.3 436.5,533.3 436.0,533.3 435.5,533.3 435.0,533.3 434.5,533.3 434.0,533.3 433.5,533.3 433.0,533.3 432.5,533.3 432.0,533.3 431.5,533.3 431.0,533.3 430.5,533.3 430.0,533.3 429.5,533.3 429.0,533.3 428.5,533.3 428.0,533.3 427.5,533.3 427.0,533.3 426.5,533.3 426.0,533.3 425.5,533.3 425.0,533.3 424.5,533.3 424.0,533.3 423.5,533.3 423.0,533.3 422.5,533.3 422.0,533.3 421.5,533.3 421.0,533.3 420.5,533.3 420.0,533.3 419.5,533.3 419.0,533.3 418.5,533.3 418.0,533.3 417.5,533.3 417.0,533.3 416.5,533.3 416.0,533.3 415.5,533.3 415.0,533.3 414.5,533.3 414.0,533.3 413.5,533.3 413.0,533.3 412.5,533.3 412.0,533.3 411.5,533.3 411.0,533.3 410.5,533.3 410.0,533.3 409.5,533.3 409.0,533.3 408.5,533.3 408.0,533.3 407.5,533.3 407.0,533.3 406.5,533.3 406.0,533.3 405.5,533.3 405.0,533.3 404.5,533.3 404.0,533.3 403.5,533.3 403.0,533.3 402.5,533.3 402.0,533.3 401.5,533.3 401.0,533.3 400.5,533.3 400.0,533.3 399.5,533.3 399.0,533.3 398.5,533.3 398.0,533.3 397.5,533.3 397.0,533.3 396.5,533.3 396.0,533.3 395.5,533.3 395.0,533.3 394.5,533.3 394.0,533.3 393.5,533.3 393.0,533.3 392.5,533.3 392.0,533.3 391.5,533.3 391.0,533.3 390.5,533.4 390.0,533.4 389.5,533.4 389.0,533.4 388.5,533.4 388.0,533.4 387.5,533.4 387.0,533.4 386.5,533.4 386.0,533.4 385.5,533.4 385.0,533.4 384.5,533.4 384.0,533.4 383.5,533.4 383.0,533.4 382.5,533.4 382.0,533.4 381.5,533.4 381.0,533.4 380.5,533.4 380.0,533.4 379.5,533.4 379.0,533.4 378.5,533.4 378.0,533.4 377.5,533.4 377.0,533.4 376.5,533.4 376.0,533.4 375.5,533.4 375.0,533.4 374.5,533.4 374.0,533.4 373.5,533.4 373.0,533.4 372.5,533.4 372.0,533.4 371.5,533.4 371.0,533.5 370.5,533.5 370.0,533.5 369.5,533.5 369.0,533.5 368.5,533.6 368.0,533.6 367.5,533.7 367.0,533.8 366.5,533.9 366.0,534.0 365.5,534.0 365.0,534.1 364.5,534.2 364.0,534.3 363.5,534.4 363.0,534.5 362.5,534.6 362.0,534.6 361.5,534.7 361.0,534.8 360.5,534.9 360.0,535.0 359.5,535.2 359.0,535.5 358.5,535.7 358.0,536.0 357.5,536.2 357.0,536.5 356.5,536.7 356.0,537.0 355.5,537.2 355.0,537.4 354.5,537.7 354.0,537.9 353.5,538.2 353.0,538.4 352.5,538.7 352.0,538.9 351.5,539.1 351.0,539.4 350.5,539.6 350.0,539.9 349.5,540.1 349.0,540.4 348.5,540.6 348.0,540.9 347.5,541.2 347.0,541.6 346.5,542.0 346.0,542.4 345.5,542.8 345.0,543.2 344.5,543.7 344.0,544.1 343.5,544.5 343.0,544.9 342.5,545.3 342.0,545.7 341.5,546.1 341.0,546.5 340.5,547.0 340.0,547.4 339.5,547.8 339.0,548.2 338.5,548.6 338.0,549.0 337.5,549.4 337.0,549.9 336.5,550.3 336.0,550.7 335.5,551.1 335.0,551.5 334.5,551.9 334.0,552.3 333.5,552.8 333.0,553.2 332.5,553.6 332.0,554.0 331.5,554.4 331.0,554.8 330.5,555.2 330.0,555.6 329.5,556.0 329.0,556.3 328.5,556.7 328.0,557.1 327.5,557.5 327.0,557.9 326.5,558.3 326.0,558.7 325.5,559.0 325.0,559.4 324.5,559.8 324.0,560.2 323.5,560.6 323.0,561.0 322.5,561.3 322.0,561.7 321.5,562.1 321.0,562.5 320.5,562.9 320.0,563.3 319.5,563.7 319.0,564.0 318.5,564.4 318.0,564.8 317.5,565.2 317.0,565.6 316.5,566.0 316.0,566.4 315.5,566.7 315.0,567.1 314.5,567.5 314.0,567.9 313.5,568.3 313.0,568.7 312.5,569.0 312.0,569.4 311.5,569.8 311.0,570.2 310.5,570.5 310.0,570.9 309.5,571.2 309.0,571.6 308.5,571.9 308.0,572.2 307.5,572.6 307.0,572.9 306.5,573.3 306.0,573.6 305.5,573.9 305.0,574.3 304.5,574.6 304.0,575.0 303.5,575.3 303.0,575.6 302.5,575.7 302.0,575.7 301.5,575.7 301.0,575.7 300.5,575.7 300.0,575.6 299.5,575.6 299.0,575.6 298.5,575.6 298.0,575.6 297.5,575.6 297.0,575.6 296.5,575.6 296.0,575.6 295.5,575.6 295.0,575.6 294.5,575.6 294.0,575.5 293.5,575.5 293.0,575.5 292.5,575.5 292.0,575.5 291.5,575.5 291.0,575.5 290.5,575.5 290.0,575.5 289.5,575.5 289.0,575.5 288.5,575.4 288.0,575.4 287.5,575.4 287.0,575.4 286.5,575.4 286.0,575.4 285.5,575.4 285.0,575.4 284.5,575.4 284.0,575.4 283.5,575.4 283.0,575.4 282.5,575.3 282.0,575.3 281.5,575.3 281.0,575.3 280.5,575.3 280.0,575.3 279.5,575.3 279.0,575.3 278.5,575.3 278.0,575.3 277.5,575.2 277.0,575.2 276.5,575.2 276.0,575.2 275.5,575.2 275.0,575.2 274.5,575.2 274.0,575.2 273.5,575.2 273.0,575.1 272.5,575.1 272.0,575.1 271.5,575.1 271.0,575.1 270.5,575.1 270.0,575.1 269.5,575.1 269.0,575.1 268.5,575.0 268.0,575.0 267.5,575.0 267.0,575.0 266.5,575.0 266.0,575.0 265.5,575.0 265.0,575.0 264.5,575.0 264.0,574.9 263.5,574.9 263.0,574.9 262.5,574.9 262.0,574.9 261.5,574.9 261.0,574.9 260.5,575.0 260.0,575.0 259.5,575.0 259.0,575.0 258.5,575.1 258.0,575.2 257.5,575.3 257.0,575.3 256.5,575.4 256.0,575.5 255.5,575.6 255.0,575.7 254.5,576.1 254.0,576.5 253.5,577.0 253.0,577.5 252.5,577.9 252.0,578.4 251.5,578.9 251.0,579.3 250.5,579.8 250.0,580.3 249.5,580.7 249.0,581.2 248.5,582.0 248.0,583.0 247.5,584.0 247.0,585.0 246.5,586.0 246.0,587.0 245.5,588.0 245.0,589.0 244.5,589.9 244.0,590.9 243.5,591.9 243.0,592.9 242.5,593.9 242.0,594.9 241.5,595.9 241.0,596.9 240.5,597.9 240.0,598.9 239.5,599.9 239.0,600.9 238.5,601.9 238.0,602.9 237.5,603.9 237.0,604.9 236.5,606.0 236.0,607.0 235.5,608.0 235.0,609.0 234.5,610.0 234.0,611.0 233.5,612.0 233.0,613.0 232.5,614.0 232.0,614.6 231.5,615.1 231.0,615.7 230.5,616.2 230.0,616.8 229.5,617.3 229.0,617.9 228.5,618.4 228.0,619.0 227.5,619.3 227.0,619.6 226.5,619.9 226.0,620.2 225.5,620.5 225.0,620.8 224.5,621.0 224.0,621.1 223.5,621.1 223.0,621.1 222.5,621.1 222.0,621.1 221.5,621.1 221.0,621.1 220.5,621.1 220.0,621.1 219.5,621.1 219.0,621.1 218.5,621.1 218.0,621.1 217.5,621.1 217.0,621.1 216.5,621.1 216.0,621.1 215.5,621.1 215.0,621.1 214.5,621.1 214.0,621.1 213.5,621.1 213.0,621.1 212.5,621.1 212.0,621.0 211.5,621.0 211.0,621.0 210.5,621.0 210.0,621.0 209.5,621.0 209.0,621.0 208.5,621.0 208.0,621.0 207.5,621.0 207.0,621.0 206.5,621.0 206.0,621.0 205.5,621.0 205.0,621.0 204.5,621.0 204.0,621.0 203.5,621.0 203.0,621.0 202.5,621.0 202.0,621.0 201.5,621.0 201.0,621.0 200.5,621.0 200.0,621.0 199.5,621.0 199.0,621.1 198.5,621.1 198.0,621.1 197.5,621.1 197.0,621.2 196.5,621.2 196.0,621.2 195.5,621.3 195.0,621.3 194.5,621.3 194.0,621.3 193.5,621.4 193.0,621.4 192.5,621.4 192.0,621.5 191.5,621.5 191.0,621.5 190.5,621.5 190.0,621.6 189.5,621.6 189.0,621.6 188.5,621.7 188.0,621.7 187.5,621.8 187.0,622.1 186.5,622.4 186.0,622.6 185.5,622.9 185.0,623.2 184.5,623.5 184.0,623.8 183.5,624.0 183.0,624.3 182.5,624.6 182.0,624.9 181.5,625.1 181.0,625.4 180.5,625.7 180.0,626.0 179.5,626.3 179.0,626.6 178.5,627.0 178.0,627.3 177.5,627.7 177.0,628.0 176.5,628.4 176.0,628.7 175.5,629.1 175.0,629.5 174.5,629.8 174.0,630.2 173.5,630.5 173.0,630.9 172.5,631.2 172.0,631.6 171.5,631.9 171.0,632.2 170.5,632.5 170.0,632.8 169.5,633.1 169.0,633.4 168.5,633.7 168.0,634.0 167.5,634.1 167.0,634.2 166.5,634.3 166.0,634.4 165.5,634.6 165.0,634.6 164.5,634.6 164.0,634.6 163.5,634.7 163.0,634.7 162.5,634.7 162.0,634.7 161.5,634.7 161.0,634.7 160.5,634.7 160.0,634.8 159.5,634.8 159.0,634.8 158.5,634.8 158.0,634.8 157.5,634.8 157.0,634.8 156.5,634.9 156.0,634.9 155.5,634.9 155.0,634.9 154.5,634.9 154.0,634.9 153.5,634.9 153.0,634.9 152.5,634.9 152.0,634.9 151.5,634.9 151.0,634.8 150.5,634.8 150.0,634.8 149.5,634.8 149.0,634.8 148.5,634.8 148.0,634.8 147.5,634.8 147.0,634.8 146.5,634.6 146.0,634.5 145.5,634.3 145.0,634.1 144.5,634.0 144.0,633.8 143.5,633.7 143.0,633.5 142.5,633.0 142.0,632.5 141.5,631.9 141.0,631.4 140.5,630.6 140.0,629.7 139.5,628.7 139.0,627.8 138.5,626.9 138.0,626.0 137.5,625.6 137.0,625.2 136.5,624.8 136.0,624.4 135.5,624.0 135.0,623.8 134.5,623.5 134.0,623.2 133.5,622.9 133.0,622.6 132.5,622.3 132.0,622.1 131.5,621.8 131.0,621.5 130.5,621.3 130.0,621.2 129.5,621.0 129.0,620.9 128.5,620.7 128.0,620.5 127.5,620.4 127.0,620.2 126.5,620.1 126.0,620.1 125.5,620.0 125.0,620.0 124.5,620.0 124.0,619.9 123.5,619.9 123.0,619.8 122.5,619.8 122.0,619.8 121.5,619.7 121.0,619.7 120.5,619.7 120.0,619.6 119.5,619.6 119.0,619.6 118.5,619.5 118.0,619.5 117.5,619.5 117.0,619.5 116.5,619.5 116.0,619.4 115.5,619.4 115.0,619.4 114.5,619.4 114.0,619.4 113.5,619.4 113.0,619.4 112.5,619.4 112.0,619.3 111.5,619.3 111.0,619.3 110.5,619.3 110.0,619.3 109.5,619.3 109.0,619.4 108.5,619.4 108.0,619.4 107.5,619.4 107.0,619.4 106.5,619.4 106.0,619.5 105.5,619.5 105.0,619.5 104.5,619.6 104.0,619.7 103.5,619.7 103.0,619.8 102.5,619.9 102.0,620.0 101.5,620.1 101.0,620.1 100.5,620.2 100.0,620.3 99.5,620.3 99.0,620.3 98.5,620.3 98.0,620.3 97.5,620.3 97.0,620.3 96.5,620.3 96.0,620.3 95.5,620.3 95.0,620.3" fill="#bab7a2" mask="url(#m_mbs)"/><polygon points="95.0,620.3 95.5,620.3 96.0,620.3 96.5,620.3 97.0,620.3 97.5,620.3 98.0,620.3 98.5,620.3 99.0,620.3 99.5,620.3 100.0,620.3 100.5,620.2 101.0,620.1 101.5,620.1 102.0,620.0 102.5,619.9 103.0,619.8 103.5,619.7 104.0,619.7 104.5,619.6 105.0,619.5 105.5,619.5 106.0,619.5 106.5,619.4 107.0,619.4 107.5,619.4 108.0,619.4 108.5,619.4 109.0,619.4 109.5,619.3 110.0,619.3 110.5,619.3 111.0,619.3 111.5,619.3 112.0,619.3 112.5,619.4 113.0,619.4 113.5,619.4 114.0,619.4 114.5,619.4 115.0,619.4 115.5,619.4 116.0,619.4 116.5,619.5 117.0,619.5 117.5,619.5 118.0,619.5 118.5,619.5 119.0,619.6 119.5,619.6 120.0,619.6 120.5,619.7 121.0,619.7 121.5,619.7 122.0,619.8 122.5,619.8 123.0,619.8 123.5,619.9 124.0,619.9 124.5,620.0 125.0,620.0 125.5,620.0 126.0,620.1 126.5,620.1 127.0,620.2 127.5,620.4 128.0,620.5 128.5,620.7 129.0,620.9 129.5,621.0 130.0,621.2 130.5,621.3 131.0,621.5 131.5,621.8 132.0,622.1 132.5,622.3 133.0,622.6 133.5,622.9 134.0,623.2 134.5,623.5 135.0,623.8 135.5,624.0 136.0,624.4 136.5,624.8 137.0,625.2 137.5,625.6 138.0,626.0 138.5,626.9 139.0,627.8 139.5,628.7 140.0,629.7 140.5,630.6 141.0,631.4 141.5,631.9 142.0,632.5 142.5,633.0 143.0,633.5 143.5,633.7 144.0,633.8 144.5,634.0 145.0,634.1 145.5,634.3 146.0,634.5 146.5,634.6 147.0,634.8 147.5,634.8 148.0,634.8 148.5,634.8 149.0,634.8 149.5,634.8 150.0,634.8 150.5,634.8 151.0,634.8 151.5,634.9 152.0,634.9 152.5,634.9 153.0,634.9 153.5,634.9 154.0,634.9 154.5,634.9 155.0,634.9 155.5,634.9 156.0,634.9 156.5,634.8 157.0,634.8 157.5,634.8 158.0,634.8 158.5,634.7 159.0,634.7 159.5,634.7 160.0,634.7 160.5,634.6 161.0,634.6 161.5,634.6 162.0,634.6 162.5,634.5 163.0,634.5 163.5,634.5 164.0,634.5 164.5,634.4 165.0,634.4 165.5,634.3 166.0,634.0 166.5,633.8 167.0,633.5 167.5,633.3 168.0,633.0 168.5,632.0 169.0,631.0 169.5,630.1 170.0,629.1 170.5,627.8 171.0,625.6 171.5,623.3 172.0,621.0 172.5,618.7 173.0,616.3 173.5,614.0 174.0,612.8 174.5,611.7 175.0,610.5 175.5,609.3 176.0,608.2 176.5,607.0 177.0,605.9 177.5,604.7 178.0,603.5 178.5,602.4 179.0,601.2 179.5,600.0 180.0,598.9 180.5,597.8 181.0,596.6 181.5,595.5 182.0,594.3 182.5,593.2 183.0,592.1 183.5,590.9 184.0,589.8 184.5,588.7 185.0,587.5 185.5,586.4 186.0,585.3 186.5,584.1 187.0,583.0 187.5,581.9 188.0,580.8 188.5,579.9 189.0,579.0 189.5,578.1 190.0,577.1 190.5,576.2 191.0,575.3 191.5,574.4 192.0,573.4 192.5,572.5 193.0,571.6 193.5,570.6 194.0,569.7 194.5,568.8 195.0,567.9 195.5,566.9 196.0,566.1 196.5,565.5 197.0,565.0 197.5,564.4 198.0,563.8 198.5,563.2 199.0,562.7 199.5,562.1 200.0,561.5 200.5,561.0 201.0,560.4 201.5,559.8 202.0,559.3 202.5,558.7 203.0,558.1 203.5,557.6 204.0,557.0 204.5,556.8 205.0,556.5 205.5,556.3 206.0,556.1 206.5,555.9 207.0,555.6 207.5,555.4 208.0,555.2 208.5,555.0 209.0,554.7 209.5,554.5 210.0,554.3 210.5,554.1 211.0,553.8 211.5,553.6 212.0,553.4 212.5,553.3 213.0,553.4 213.5,553.4 214.0,553.5 214.5,553.5 215.0,553.5 215.5,553.6 216.0,553.6 216.5,553.7 217.0,553.7 217.5,553.8 218.0,553.8 218.5,553.8 219.0,553.9 219.5,553.9 220.0,554.0 220.5,554.0 221.0,554.0 221.5,554.0 222.0,554.0 222.5,554.0 223.0,554.0 223.5,554.0 224.0,554.0 224.5,554.0 225.0,554.0 225.5,554.0 226.0,554.0 226.5,554.0 227.0,554.0 227.5,554.0 228.0,554.0 228.5,553.9 229.0,553.3 229.5,552.8 230.0,552.2 230.5,551.7 231.0,551.1 231.5,550.6 232.0,550.0 232.5,549.4 233.0,548.9 233.5,548.3 234.0,547.7 234.5,547.2 235.0,546.6 235.5,546.0 236.0,545.5 236.5,544.9 237.0,544.2 237.5,543.4 238.0,542.7 238.5,541.9 239.0,541.2 239.5,540.4 240.0,539.7 240.5,538.9 241.0,538.2 241.5,537.4 242.0,536.7 242.5,535.9 243.0,535.2 243.5,534.4 244.0,533.7 244.5,532.9 245.0,532.2 245.5,531.5 246.0,530.9 246.5,530.2 247.0,529.5 247.5,528.8 248.0,528.2 248.5,527.5 249.0,526.8 249.5,526.1 250.0,525.5 250.5,524.8 251.0,524.4 251.5,524.2 252.0,524.1 252.5,524.0 253.0,523.9 253.5,523.8 254.0,523.7 254.5,523.6 255.0,523.5 255.5,523.6 256.0,523.6 256.5,523.7 257.0,523.8 257.5,523.8 258.0,523.9 258.5,523.9 259.0,524.0 259.5,524.0 260.0,524.0 260.5,524.0 261.0,524.0 261.5,523.9 262.0,523.9 262.5,523.9 263.0,523.9 263.5,523.9 264.0,523.9 264.5,523.9 265.0,523.9 265.5,523.9 266.0,523.8 266.5,523.8 267.0,523.8 267.5,523.8 268.0,523.8 268.5,523.8 269.0,523.8 269.5,523.8 270.0,523.9 270.5,523.9 271.0,523.9 271.5,523.9 272.0,524.0 272.5,524.0 273.0,524.0 273.5,524.0 274.0,524.0 274.5,524.1 275.0,524.1 275.5,524.1 276.0,524.1 276.5,524.1 277.0,524.2 277.5,524.2 278.0,524.2 278.5,524.3 279.0,524.3 279.5,524.4 280.0,524.4 280.5,524.5 281.0,524.5 281.5,524.6 282.0,524.7 282.5,524.7 283.0,524.8 283.5,524.8 284.0,524.9 284.5,525.0 285.0,525.0 285.5,525.1 286.0,525.1 286.5,525.2 287.0,525.2 287.5,525.3 288.0,525.4 288.5,525.4 289.0,525.5 289.5,525.6 290.0,525.6 290.5,525.7 291.0,525.7 291.5,525.8 292.0,525.9 292.5,525.9 293.0,526.0 293.5,526.0 294.0,526.1 294.5,526.2 295.0,526.1 295.5,525.9 296.0,525.7 296.5,525.5 297.0,525.3 297.5,525.1 298.0,524.9 298.5,524.7 299.0,524.5 299.5,524.1 300.0,523.6 300.5,523.2 301.0,522.8 301.5,522.3 302.0,521.9 302.5,521.4 303.0,520.9 303.5,520.0 304.0,519.1 304.5,518.1 305.0,517.2 305.5,516.3 306.0,515.4 306.5,514.4 307.0,513.5 307.5,512.6 308.0,511.6 308.5,510.7 309.0,509.8 309.5,508.9 310.0,507.9 310.5,507.0 311.0,506.1 311.5,505.2 312.0,504.3 312.5,503.4 313.0,502.5 313.5,501.7 314.0,500.8 314.5,499.9 315.0,499.0 315.5,498.1 316.0,497.2 316.5,496.4 317.0,495.5 317.5,494.6 318.0,493.7 318.5,492.8 319.0,492.0 319.5,491.2 320.0,490.4 320.5,489.7 321.0,488.9 321.5,488.2 322.0,487.4 322.5,486.7 323.0,485.9 323.5,485.2 324.0,484.5 324.5,483.7 325.0,483.0 325.5,482.2 326.0,481.5 326.5,480.7 327.0,480.0 327.5,479.2 328.0,478.3 328.5,477.5 329.0,476.6 329.5,475.7 330.0,474.8 330.5,473.9 331.0,473.0 331.5,472.2 332.0,471.3 332.5,470.4 333.0,469.5 333.5,468.6 334.0,467.7 334.5,466.9 335.0,466.0 335.5,465.1 336.0,464.5 336.5,463.9 337.0,463.2 337.5,462.6 338.0,462.0 338.5,461.4 339.0,460.7 339.5,460.1 340.0,459.5 340.5,458.9 341.0,458.2 341.5,457.6 342.0,457.0 342.5,456.4 343.0,455.7 343.5,455.1 344.0,454.6 344.5,454.1 345.0,453.6 345.5,453.1 346.0,452.6 346.5,452.1 347.0,451.6 347.5,451.1 348.0,450.6 348.5,450.1 349.0,449.6 349.5,449.1 350.0,448.6 350.5,448.1 351.0,447.6 351.5,447.1 352.0,446.7 352.5,446.5 353.0,446.2 353.5,446.0 354.0,445.7 354.5,445.5 355.0,445.2 355.5,445.0 356.0,444.8 356.5,444.5 357.0,444.3 357.5,444.0 358.0,443.8 358.5,443.5 359.0,443.3 359.5,443.0 360.0,442.8 360.5,442.7 361.0,442.6 361.5,442.4 362.0,442.3 362.5,442.2 363.0,442.1 363.5,441.9 364.0,441.8 364.5,441.7 365.0,441.6 365.5,441.4 366.0,441.3 366.5,441.2 367.0,441.1 367.5,440.9 368.0,440.8 368.5,440.7 369.0,440.6 369.5,440.4 370.0,440.3 370.5,440.3 371.0,440.3 371.5,440.3 372.0,440.3 372.5,440.3 373.0,440.4 373.5,440.4 374.0,440.4 374.5,440.4 375.0,440.4 375.5,440.4 376.0,440.4 376.5,440.4 377.0,440.4 377.5,440.4 378.0,440.4 378.5,440.4 379.0,440.5 379.5,440.5 380.0,440.5 380.5,440.5 381.0,440.5 381.5,440.5 382.0,440.5 382.5,440.5 383.0,440.5 383.5,440.5 384.0,440.5 384.5,440.6 385.0,440.6 385.5,440.6 386.0,440.6 386.5,440.6 387.0,440.6 387.5,440.6 388.0,440.6 388.5,440.6 389.0,440.6 389.5,440.6 390.0,440.7 390.5,440.7 391.0,440.7 391.5,440.7 392.0,440.7 392.5,440.7 393.0,440.7 393.5,440.7 394.0,440.7 394.5,440.7 395.0,440.7 395.5,440.7 396.0,440.6 396.5,440.6 397.0,440.6 397.5,440.6 398.0,440.6 398.5,440.6 399.0,440.6 399.5,440.6 400.0,440.6 400.5,440.6 401.0,440.6 401.5,440.6 402.0,440.6 402.5,440.5 403.0,440.5 403.5,440.5 404.0,440.5 404.5,440.5 405.0,440.5 405.5,440.5 406.0,440.5 406.5,440.5 407.0,440.5 407.5,440.5 408.0,440.5 408.5,440.5 409.0,440.5 409.5,440.4 410.0,440.4 410.5,440.4 411.0,440.4 411.5,440.4 412.0,440.4 412.5,440.4 413.0,440.4 413.5,440.4 414.0,440.4 414.5,440.4 415.0,440.4 415.5,440.4 416.0,440.3 416.5,440.3 417.0,440.3 417.5,440.3 418.0,440.3 418.5,440.3 419.0,440.3 419.5,440.3 420.0,440.3 420.5,440.3 421.0,440.4 421.5,440.4 422.0,440.4 422.5,440.4 423.0,440.4 423.5,440.4 424.0,440.5 424.5,440.5 425.0,440.5 425.5,440.5 426.0,440.5 426.5,440.5 427.0,440.6 427.5,440.6 428.0,440.6 428.5,440.6 429.0,440.6 429.5,440.6 430.0,440.6 430.5,440.7 431.0,440.7 431.5,440.7 432.0,440.7 432.5,440.7 433.0,440.7 433.5,440.8 434.0,440.8 434.5,440.8 435.0,440.8 435.5,440.8 436.0,440.8 436.5,440.9 437.0,440.9 437.5,440.9 438.0,440.9 438.5,440.9 439.0,440.9 439.5,441.0 440.0,441.0 440.5,441.0 441.0,441.0 441.5,441.0 442.0,441.0 442.5,441.0 443.0,441.0 443.5,441.0 444.0,441.0 444.5,441.0 445.0,441.0 445.5,441.0 446.0,441.0 446.5,441.0 447.0,441.0 447.5,440.9 448.0,440.9 448.5,440.9 449.0,440.9 449.5,440.9 450.0,440.9 450.5,440.9 451.0,440.9 451.5,440.9 452.0,440.9 452.5,440.9 453.0,440.9 453.5,440.9 454.0,440.9 454.5,440.9 455.0,440.9 455.5,440.9 456.0,440.9 456.5,440.9 457.0,440.9 457.5,440.9 458.0,440.9 458.5,440.9 459.0,440.9 459.5,440.9 460.0,440.9 460.5,440.8 461.0,440.8 461.5,440.8 462.0,440.8 462.5,440.8 463.0,440.8 463.5,440.8 464.0,440.8 464.5,440.8 465.0,440.8 465.5,440.8 466.0,440.8 466.5,440.8 467.0,440.8 467.5,440.8 468.0,440.8 468.5,440.8 469.0,440.8 469.5,440.8 470.0,440.8 470.5,440.8 471.0,440.8 471.5,440.8 472.0,440.8 472.5,440.8 473.0,440.7 473.5,440.7 474.0,440.7 474.5,440.7 475.0,440.7 475.5,440.7 476.0,440.7 476.5,440.7 477.0,440.7 477.5,440.7 478.0,440.7 478.5,440.7 479.0,440.7 479.5,440.8 480.0,441.0 480.5,441.1 481.0,441.3 481.5,441.5 482.0,441.6 482.5,441.8 483.0,442.0 483.5,442.1 484.0,442.3 484.5,442.5 485.0,442.6 485.5,442.8 486.0,443.0 486.5,443.2 487.0,443.3 487.5,443.5 488.0,443.7 488.5,443.8 489.0,444.0 489.5,444.2 490.0,444.3 490.5,444.5 491.0,444.7 491.5,444.9 492.0,445.2 492.5,445.6 493.0,445.9 493.5,446.3 494.0,446.6 494.5,447.0 495.0,447.3 495.5,447.7 496.0,448.0 496.5,448.4 497.0,448.7 497.5,449.0 498.0,449.4 498.5,449.7 499.0,450.1 499.5,450.4 500.0,450.8 500.5,451.1 501.0,451.5 501.5,451.8 502.0,452.2 502.5,452.5 503.0,452.9 503.5,453.2 504.0,453.6 504.5,453.9 505.0,454.3 505.5,454.6 506.0,455.0 506.5,455.3 507.0,455.7 507.5,456.0 508.0,456.4 508.5,456.7 509.0,457.1 509.5,457.4 510.0,457.7 510.5,458.1 511.0,458.4 511.5,458.8 512.0,459.2 512.5,459.5 513.0,459.9 513.5,460.3 514.0,460.7 514.5,461.0 515.0,461.4 515.5,461.8 516.0,462.2 516.5,462.5 517.0,462.9 517.5,463.3 518.0,463.7 518.5,464.1 519.0,464.4 519.5,464.8 520.0,465.2 520.5,465.6 521.0,465.9 521.5,466.3 522.0,466.7 522.5,467.1 523.0,467.4 523.5,467.8 524.0,468.2 524.5,468.5 525.0,468.8 525.5,469.1 526.0,469.4 526.5,469.7 527.0,470.0 527.5,470.3 528.0,470.6 528.5,470.9 529.0,471.2 529.5,471.5 530.0,471.8 530.5,472.1 531.0,472.4 531.5,472.7 532.0,473.0 532.5,473.3 533.0,473.6 533.5,473.9 534.0,474.2 534.5,474.4 535.0,474.5 535.5,474.6 536.0,474.7 536.5,474.8 537.0,474.8 537.5,474.9 538.0,475.0 538.5,475.1 539.0,475.2 539.5,475.1 540.0,474.7 540.5,474.2 541.0,473.7 541.5,473.3 542.0,472.8 542.5,472.4 543.0,471.9 543.5,471.5 544.0,471.0 544.5,470.4 545.0,469.9 545.5,469.3 546.0,468.7 546.5,468.2 547.0,467.6 547.5,467.0 548.0,466.5 548.5,465.9 549.0,465.4 549.5,464.9 550.0,464.4 550.5,463.9 551.0,463.5 551.5,463.0 552.0,462.5 552.5,462.0 553.0,461.5 553.5,460.9 554.0,460.3 554.5,459.8 555.0,459.2 555.5,458.6 556.0,452.4 556.5,444.8 557.0,430.3 557.5,411.0 558.0,398.0 558.5,385.0 559.0,372.0 559.5,367.4 560.0,362.7 560.5,358.6 561.0,356.9 561.5,355.1 562.0,353.4 562.5,351.6 563.0,349.8 563.5,348.0 564.0,346.2 564.5,344.5 565.0,343.5 565.5,342.5 566.0,341.5 566.5,340.5 567.0,339.5 567.5,338.5 568.0,337.5 568.5,336.5 569.0,335.5 569.5,334.5 570.0,333.5 570.5,332.6 571.0,331.6 571.5,330.6 572.0,329.6 572.5,328.6 573.0,327.7 573.5,326.8 574.0,325.9 574.5,325.1 575.0,324.2 575.5,323.3 576.0,322.4 576.5,321.6 577.0,320.7 577.5,319.8 578.0,318.9 578.5,318.1 579.0,317.2 579.5,316.3 580.0,315.4 580.5,314.6 581.0,313.5 581.5,312.4 582.0,311.3 582.5,310.2 583.0,309.1 583.5,308.0 584.0,306.8 584.5,305.7 585.0,304.6 585.5,303.5 586.0,302.4 586.5,301.3 587.0,300.1 587.5,299.0 588.0,297.9 588.5,296.8 589.0,295.7 589.5,294.5 590.0,293.4 590.5,292.3 591.0,291.1 591.5,290.0 592.0,288.9 592.5,287.7 593.0,286.6 593.5,285.5 594.0,284.3 594.5,283.2 595.0,282.0 595.5,280.9 596.0,279.8 596.5,278.6 597.0,277.5 597.5,276.4 598.0,275.2 598.5,274.1 599.0,273.0 599.5,271.9 600.0,270.7 600.5,269.6 601.0,268.5 601.5,267.3 602.0,266.2 602.5,265.1 603.0,263.9 603.5,262.8 604.0,261.7 604.5,260.6 605.0,259.4 605.5,258.3 606.0,257.1 606.5,255.9 607.0,254.7 607.5,253.6 608.0,252.4 608.5,251.2 609.0,250.0 609.5,248.8 610.0,247.7 610.5,246.5 611.0,245.3 611.5,244.1 612.0,243.0 612.5,241.8 613.0,240.6 613.5,239.5 614.0,238.6 614.5,237.6 615.0,236.7 615.5,235.7 616.0,234.8 616.5,233.9 617.0,232.9 617.5,232.0 618.0,231.0 618.5,230.1 619.0,229.1 619.5,228.2 620.0,227.2 620.5,226.3 621.0,225.4 621.5,224.5 622.0,224.1 622.5,223.7 623.0,223.2 623.5,222.8 624.0,222.4 624.5,221.9 625.0,221.5 625.5,221.4 626.0,221.3 626.5,221.2 627.0,221.1 627.5,221.0 628.0,220.8 628.5,220.7 629.0,220.6 629.5,220.5 630.0,220.6 630.5,220.6 631.0,220.7 631.5,220.8 632.0,220.8 632.5,220.9 633.0,221.0 633.5,221.0 634.0,221.1 634.5,221.2 635.0,221.2 635.5,221.3 636.0,221.4 636.5,221.4 637.0,221.5 637.5,221.6 638.0,221.8 638.5,222.1 639.0,222.4 639.5,222.7 640.0,223.0 640.5,223.3 641.0,223.6 641.5,223.9 642.0,224.2 642.5,224.5 643.0,224.8 643.5,225.1 644.0,225.4 644.5,225.7 645.0,226.1 645.5,226.4 646.0,226.8 646.5,227.5 647.0,228.3 647.5,229.0 648.0,229.8 648.5,230.5 649.0,231.3 649.5,232.1 650.0,232.8 650.5,233.6 651.0,234.3 651.5,235.1 652.0,235.9 652.5,236.6 653.0,237.4 653.5,238.1 654.0,238.9 654.5,239.6 655.0,240.4 655.5,241.1 656.0,241.9 656.5,242.6 657.0,243.4 657.5,244.1 658.0,244.9 658.5,245.6 659.0,246.3 659.5,247.1 660.0,247.8 660.5,248.6 661.0,249.3 661.5,250.1 662.0,250.8 662.5,251.5 663.0,252.3 663.5,253.0 664.0,253.8 664.5,254.5 665.0,255.3 665.5,256.0 666.0,256.8 666.5,257.5 667.0,258.3 667.5,259.0 668.0,259.8 668.5,260.5 669.0,261.3 669.5,262.0 670.0,262.8 670.5,263.5 671.0,264.3 671.5,265.1 672.0,265.8 672.5,266.6 673.0,267.3 673.5,268.1 674.0,268.8 674.5,269.5 675.0,270.2 675.5,270.9 676.0,271.5 676.5,272.2 677.0,272.9 677.5,273.5 678.0,274.2 678.5,274.9 679.0,275.5 679.5,276.2 680.0,276.9 680.5,277.5 681.0,278.2 681.5,278.9 682.0,279.6 682.5,280.2 683.0,280.9 683.5,281.6 684.0,282.2 684.5,282.9 685.0,283.6 685.5,284.2 686.0,284.9 686.5,285.6 687.0,286.2 687.5,286.7 688.0,287.3 688.5,287.9 689.0,288.5 689.5,289.1 690.0,289.7 690.5,290.2 691.0,290.8 691.5,291.4 692.0,292.0 692.5,292.7 693.0,293.4 693.5,294.0 694.0,294.7 694.5,295.4 695.0,296.1 695.5,296.8 696.0,297.4 696.5,298.1 697.0,298.8 697.5,299.5 698.0,300.1 698.5,300.8 699.0,301.5 699.5,302.2 700.0,302.9 700.5,303.5 701.0,303.9 701.5,304.2 702.0,304.6 702.5,305.0 703.0,305.4 703.5,305.8 704.0,306.2 704.5,306.6 705.0,306.9 705.5,307.3 706.0,307.7 706.5,308.1 707.0,308.5 707.5,308.9 708.0,309.3 708.5,309.6 709.0,310.0 709.5,310.4 710.0,310.8 710.5,311.2 711.0,311.6 711.5,312.0 712.0,312.4 712.5,312.8 713.0,313.2 713.5,313.6 714.0,314.0 714.5,314.4 715.0,314.7 715.5,315.1 716.0,315.5 716.5,315.9 717.0,316.3 717.5,316.7 718.0,317.1 718.5,317.5 719.0,317.9 719.5,318.3 720.0,318.7 720.5,319.0 721.0,319.4 721.5,319.7 722.0,320.1 722.5,320.4 723.0,320.8 723.5,321.2 724.0,321.5 724.5,321.9 725.0,322.2 725.5,322.6 726.0,322.9 726.5,323.3 727.0,323.7 727.5,324.0 728.0,324.4 728.5,324.6 729.0,324.9 729.5,325.1 730.0,325.4 730.5,325.6 731.0,325.9 731.5,326.1 732.0,326.4 732.5,326.6 733.0,326.9 733.5,327.1 734.0,327.4 734.5,327.6 735.0,327.9 735.5,328.1 736.0,328.4 736.5,328.6 737.0,328.8 737.5,329.0 738.0,329.1 738.5,329.3 739.0,329.5 739.5,329.7 740.0,329.9 740.5,330.1 741.0,330.3 741.5,330.5 742.0,330.6 742.5,330.8 743.0,331.0 743.5,331.2 744.0,331.4 744.5,331.6 745.0,331.8 745.5,332.0 746.0,332.1 746.5,332.3 747.0,332.5 747.5,332.6 748.0,332.8 748.5,333.0 749.0,333.1 749.5,333.3 750.0,333.5 750.5,333.6 751.0,333.8 751.5,334.0 752.0,334.2 752.5,334.3 753.0,334.5 753.5,334.7 754.0,334.8 754.5,335.0 755.0,335.2 755.5,335.3 756.0,335.5 756.5,335.7 757.0,335.6 757.5,335.5 758.0,335.4 758.5,335.3 759.0,335.2 759.5,335.1 760.0,335.0 760.5,334.8 761.0,334.5 761.5,334.3 762.0,334.0 762.5,333.8 763.0,333.5 763.0,333.5 762.5,333.8 762.0,334.0 761.5,334.3 761.0,334.5 760.5,334.8 760.0,335.0 759.5,335.1 759.0,335.2 758.5,335.3 758.0,335.4 757.5,335.5 757.0,335.6 756.5,335.7 756.0,335.5 755.5,335.3 755.0,335.2 754.5,335.0 754.0,334.8 753.5,334.7 753.0,334.5 752.5,334.3 752.0,334.2 751.5,334.0 751.0,333.8 750.5,333.6 750.0,333.5 749.5,333.3 749.0,333.1 748.5,333.0 748.0,332.8 747.5,332.6 747.0,332.5 746.5,332.3 746.0,332.1 745.5,332.0 745.0,331.8 744.5,331.6 744.0,331.4 743.5,331.2 743.0,331.0 742.5,330.8 742.0,330.6 741.5,330.5 741.0,330.3 740.5,330.1 740.0,329.9 739.5,329.7 739.0,329.5 738.5,329.3 738.0,329.1 737.5,329.0 737.0,328.8 736.5,328.6 736.0,328.4 735.5,328.1 735.0,327.9 734.5,327.6 734.0,327.4 733.5,327.1 733.0,326.9 732.5,326.6 732.0,326.4 731.5,326.1 731.0,325.9 730.5,325.6 730.0,325.4 729.5,325.1 729.0,324.9 728.5,324.6 728.0,324.4 727.5,324.0 727.0,323.7 726.5,323.3 726.0,322.9 725.5,322.6 725.0,322.2 724.5,321.9 724.0,321.5 723.5,321.2 723.0,320.8 722.5,320.4 722.0,320.1 721.5,319.7 721.0,319.4 720.5,319.0 720.0,318.7 719.5,318.3 719.0,317.9 718.5,317.5 718.0,317.1 717.5,316.7 717.0,316.3 716.5,315.9 716.0,315.5 715.5,315.1 715.0,314.7 714.5,314.4 714.0,314.0 713.5,313.6 713.0,313.2 712.5,312.8 712.0,312.4 711.5,312.0 711.0,311.6 710.5,311.2 710.0,310.8 709.5,310.4 709.0,310.0 708.5,309.6 708.0,309.3 707.5,308.9 707.0,308.5 706.5,308.1 706.0,307.7 705.5,307.3 705.0,306.9 704.5,306.6 704.0,306.2 703.5,305.8 703.0,305.4 702.5,305.0 702.0,304.6 701.5,304.2 701.0,303.9 700.5,303.5 700.0,302.9 699.5,302.2 699.0,301.5 698.5,300.8 698.0,300.1 697.5,299.5 697.0,298.8 696.5,298.1 696.0,297.4 695.5,296.8 695.0,296.1 694.5,295.4 694.0,294.7 693.5,294.0 693.0,293.4 692.5,292.7 692.0,292.0 691.5,291.4 691.0,290.8 690.5,290.2 690.0,289.7 689.5,289.1 689.0,288.5 688.5,287.9 688.0,287.3 687.5,286.7 687.0,286.2 686.5,285.6 686.0,284.9 685.5,284.2 685.0,283.6 684.5,282.9 684.0,282.2 683.5,281.6 683.0,280.9 682.5,280.2 682.0,279.6 681.5,278.9 681.0,278.2 680.5,277.5 680.0,276.9 679.5,276.2 679.0,275.5 678.5,274.9 678.0,274.2 677.5,273.5 677.0,272.9 676.5,272.2 676.0,271.5 675.5,270.9 675.0,270.2 674.5,269.5 674.0,268.8 673.5,268.1 673.0,267.3 672.5,266.6 672.0,265.8 671.5,265.1 671.0,264.3 670.5,263.5 670.0,262.8 669.5,262.0 669.0,261.3 668.5,260.5 668.0,259.8 667.5,259.0 667.0,258.3 666.5,257.5 666.0,256.8 665.5,256.0 665.0,255.3 664.5,254.5 664.0,253.8 663.5,253.0 663.0,252.3 662.5,251.5 662.0,250.8 661.5,250.1 661.0,249.3 660.5,248.6 660.0,247.8 659.5,247.1 659.0,246.3 658.5,245.6 658.0,244.9 657.5,244.1 657.0,243.4 656.5,242.6 656.0,241.9 655.5,241.1 655.0,240.4 654.5,239.6 654.0,238.9 653.5,238.1 653.0,237.4 652.5,236.6 652.0,235.9 651.5,235.1 651.0,234.3 650.5,233.6 650.0,232.8 649.5,232.1 649.0,231.3 648.5,230.5 648.0,229.8 647.5,229.0 647.0,228.3 646.5,227.5 646.0,226.8 645.5,226.4 645.0,226.1 644.5,225.7 644.0,225.4 643.5,225.1 643.0,224.8 642.5,224.5 642.0,224.2 641.5,223.9 641.0,223.6 640.5,223.3 640.0,223.0 639.5,222.7 639.0,222.4 638.5,222.1 638.0,221.8 637.5,221.6 637.0,221.5 636.5,221.4 636.0,221.4 635.5,221.3 635.0,221.2 634.5,221.2 634.0,221.1 633.5,221.0 633.0,221.0 632.5,220.9 632.0,220.8 631.5,220.8 631.0,220.7 630.5,220.6 630.0,220.6 629.5,220.5 629.0,220.6 628.5,220.7 628.0,220.8 627.5,221.0 627.0,221.1 626.5,221.2 626.0,221.3 625.5,221.4 625.0,221.5 624.5,221.9 624.0,222.4 623.5,222.8 623.0,223.2 622.5,223.7 622.0,224.1 621.5,224.5 621.0,225.4 620.5,226.3 620.0,227.2 619.5,228.2 619.0,229.1 618.5,230.1 618.0,231.0 617.5,232.0 617.0,232.9 616.5,233.9 616.0,234.8 615.5,235.7 615.0,236.7 614.5,237.6 614.0,238.6 613.5,239.5 613.0,240.6 612.5,241.8 612.0,243.0 611.5,244.1 611.0,245.3 610.5,246.5 610.0,247.7 609.5,248.8 609.0,250.0 608.5,251.2 608.0,252.4 607.5,253.6 607.0,254.7 606.5,255.9 606.0,257.1 605.5,258.3 605.0,259.4 604.5,260.6 604.0,261.7 603.5,262.8 603.0,263.9 602.5,265.1 602.0,266.2 601.5,267.3 601.0,268.5 600.5,269.6 600.0,270.7 599.5,271.9 599.0,273.0 598.5,274.1 598.0,275.2 597.5,276.4 597.0,277.5 596.5,278.6 596.0,279.8 595.5,280.9 595.0,282.0 594.5,283.2 594.0,284.3 593.5,285.5 593.0,286.6 592.5,287.7 592.0,288.9 591.5,290.0 591.0,291.1 590.5,292.3 590.0,293.4 589.5,294.5 589.0,295.7 588.5,296.8 588.0,297.9 587.5,299.0 587.0,300.1 586.5,301.3 586.0,302.4 585.5,303.5 585.0,304.6 584.5,305.7 584.0,306.8 583.5,308.0 583.0,309.1 582.5,310.2 582.0,311.3 581.5,312.4 581.0,313.5 580.5,314.6 580.0,315.4 579.5,316.3 579.0,317.2 578.5,318.1 578.0,318.9 577.5,319.8 577.0,320.7 576.5,321.6 576.0,322.4 575.5,323.3 575.0,324.2 574.5,325.1 574.0,325.9 573.5,326.8 573.0,327.7 572.5,328.6 572.0,329.6 571.5,330.6 571.0,331.6 570.5,332.6 570.0,333.5 569.5,334.5 569.0,335.5 568.5,336.5 568.0,337.5 567.5,338.5 567.0,339.5 566.5,340.5 566.0,341.5 565.5,342.5 565.0,343.5 564.5,344.5 564.0,346.2 563.5,348.0 563.0,349.8 562.5,351.6 562.0,353.4 561.5,355.1 561.0,356.9 560.5,358.6 560.0,362.7 559.5,367.4 559.0,372.0 558.5,385.0 558.0,398.0 557.5,411.0 557.0,430.3 556.5,444.8 556.0,452.4 555.5,458.6 555.0,459.2 554.5,459.8 554.0,460.3 553.5,460.9 553.0,461.5 552.5,462.0 552.0,462.5 551.5,463.0 551.0,463.5 550.5,463.9 550.0,464.4 549.5,464.9 549.0,465.4 548.5,465.9 548.0,466.5 547.5,467.0 547.0,467.6 546.5,468.2 546.0,468.7 545.5,469.3 545.0,469.9 544.5,470.4 544.0,471.0 543.5,471.5 543.0,471.9 542.5,472.4 542.0,472.8 541.5,473.3 541.0,473.7 540.5,474.2 540.0,474.7 539.5,475.1 539.0,475.2 538.5,475.1 538.0,475.0 537.5,474.9 537.0,474.8 536.5,474.8 536.0,474.7 535.5,474.6 535.0,474.5 534.5,474.4 534.0,474.2 533.5,473.9 533.0,473.6 532.5,473.3 532.0,473.0 531.5,472.7 531.0,472.4 530.5,472.1 530.0,471.8 529.5,471.5 529.0,471.2 528.5,470.9 528.0,470.6 527.5,470.3 527.0,470.0 526.5,469.7 526.0,469.4 525.5,469.1 525.0,468.8 524.5,468.5 524.0,468.2 523.5,467.8 523.0,467.4 522.5,467.1 522.0,466.7 521.5,466.3 521.0,465.9 520.5,465.6 520.0,465.2 519.5,464.8 519.0,464.4 518.5,464.1 518.0,463.7 517.5,463.3 517.0,462.9 516.5,462.6 516.0,462.2 515.5,461.8 515.0,461.5 514.5,461.1 514.0,460.7 513.5,460.3 513.0,460.0 512.5,459.6 512.0,459.2 511.5,458.9 511.0,458.5 510.5,458.2 510.0,457.8 509.5,457.5 509.0,457.1 508.5,456.8 508.0,456.5 507.5,456.1 507.0,455.8 506.5,455.4 506.0,455.1 505.5,454.7 505.0,454.4 504.5,454.0 504.0,453.7 503.5,453.4 503.0,453.0 502.5,452.7 502.0,452.3 501.5,452.0 501.0,451.6 500.5,451.3 500.0,450.9 499.5,450.6 499.0,450.3 498.5,449.9 498.0,449.6 497.5,449.2 497.0,448.9 496.5,448.5 496.0,448.2 495.5,447.8 495.0,447.5 494.5,447.2 494.0,446.8 493.5,446.5 493.0,446.1 492.5,445.8 492.0,445.4 491.5,445.1 491.0,444.9 490.5,444.7 490.0,444.6 489.5,444.4 489.0,444.2 488.5,444.1 488.0,443.9 487.5,443.7 487.0,443.6 486.5,443.4 486.0,443.3 485.5,443.1 485.0,442.9 484.5,442.8 484.0,442.6 483.5,442.4 483.0,442.3 482.5,442.1 482.0,441.9 481.5,441.8 481.0,441.6 480.5,441.5 480.0,441.3 479.5,441.1 479.0,441.0 478.5,441.0 478.0,441.0 477.5,441.1 477.0,441.1 476.5,441.1 476.0,441.1 475.5,441.1 475.0,441.1 474.5,441.1 474.0,441.1 473.5,441.1 473.0,441.1 472.5,441.1 472.0,441.1 471.5,441.1 471.0,441.2 470.5,441.2 470.0,441.2 469.5,441.2 469.0,441.2 468.5,441.2 468.0,441.2 467.5,441.2 467.0,441.2 466.5,441.2 466.0,441.2 465.5,441.2 465.0,441.3 464.5,441.3 464.0,441.3 463.5,441.3 463.0,441.3 462.5,441.3 462.0,441.3 461.5,441.3 461.0,441.3 460.5,441.3 460.0,441.3 459.5,441.3 459.0,441.3 458.5,441.4 458.0,441.4 457.5,441.4 457.0,441.4 456.5,441.4 456.0,441.4 455.5,441.4 455.0,441.4 454.5,441.4 454.0,441.4 453.5,441.4 453.0,441.4 452.5,441.4 452.0,441.5 451.5,441.5 451.0,441.5 450.5,441.5 450.0,441.5 449.5,441.5 449.0,441.5 448.5,441.5 448.0,441.5 447.5,441.5 447.0,441.5 446.5,441.5 446.0,441.6 445.5,441.6 445.0,441.6 444.5,441.6 444.0,441.6 443.5,441.6 443.0,441.6 442.5,441.6 442.0,441.6 441.5,441.6 441.0,441.7 440.5,441.6 440.0,441.6 439.5,441.6 439.0,441.6 438.5,441.6 438.0,441.6 437.5,441.6 437.0,441.6 436.5,441.6 436.0,441.6 435.5,441.5 435.0,441.5 434.5,441.5 434.0,441.5 433.5,441.5 433.0,441.5 432.5,441.5 432.0,441.5 431.5,441.5 431.0,441.5 430.5,441.5 430.0,441.4 429.5,441.4 429.0,441.4 428.5,441.4 428.0,441.4 427.5,441.4 427.0,441.4 426.5,441.4 426.0,441.4 425.5,441.4 425.0,441.3 424.5,441.3 424.0,441.3 423.5,441.3 423.0,441.3 422.5,441.3 422.0,441.3 421.5,441.3 421.0,441.3 420.5,441.3 420.0,441.3 419.5,441.2 419.0,441.2 418.5,441.2 418.0,441.3 417.5,441.3 417.0,441.3 416.5,441.3 416.0,441.3 415.5,441.3 415.0,441.3 414.5,441.4 414.0,441.4 413.5,441.4 413.0,441.4 412.5,441.4 412.0,441.4 411.5,441.4 411.0,441.5 410.5,441.5 410.0,441.5 409.5,441.5 409.0,441.5 408.5,441.5 408.0,441.5 407.5,441.6 407.0,441.6 406.5,441.6 406.0,441.6 405.5,441.6 405.0,441.6 404.5,441.6 404.0,441.7 403.5,441.7 403.0,441.7 402.5,441.7 402.0,441.7 401.5,441.7 401.0,441.7 400.5,441.8 400.0,441.8 399.5,441.8 399.0,441.8 398.5,441.8 398.0,441.8 397.5,441.8 397.0,441.8 396.5,441.9 396.0,441.9 395.5,441.9 395.0,441.9 394.5,441.9 394.0,441.9 393.5,441.9 393.0,442.0 392.5,442.0 392.0,442.0 391.5,442.0 391.0,442.0 390.5,442.0 390.0,442.0 389.5,442.0 389.0,442.0 388.5,442.0 388.0,442.0 387.5,441.9 387.0,441.9 386.5,441.9 386.0,441.9 385.5,441.9 385.0,441.9 384.5,441.9 384.0,441.9 383.5,441.9 383.0,441.9 382.5,441.9 382.0,441.9 381.5,441.9 381.0,441.9 380.5,441.9 380.0,441.9 379.5,441.9 379.0,441.9 378.5,441.9 378.0,441.9 377.5,441.9 377.0,441.9 376.5,441.9 376.0,441.9 375.5,441.9 375.0,441.9 374.5,441.9 374.0,441.9 373.5,441.9 373.0,441.9 372.5,441.9 372.0,441.9 371.5,441.9 371.0,441.9 370.5,441.9 370.0,442.0 369.5,442.1 369.0,442.2 368.5,442.4 368.0,442.5 367.5,442.7 367.0,442.8 366.5,442.9 366.0,443.1 365.5,443.2 365.0,443.3 364.5,443.5 364.0,443.6 363.5,443.8 363.0,443.9 362.5,444.0 362.0,444.2 361.5,444.3 361.0,444.5 360.5,444.6 360.0,444.7 359.5,445.0 359.0,445.2 358.5,445.5 358.0,445.8 357.5,446.0 357.0,446.3 356.5,446.5 356.0,446.8 355.5,447.1 355.0,447.3 354.5,447.6 354.0,447.8 353.5,448.1 353.0,448.3 352.5,448.6 352.0,448.9 351.5,449.3 351.0,449.8 350.5,450.3 350.0,450.8 349.5,451.3 349.0,451.8 348.5,452.4 348.0,452.9 347.5,453.4 347.0,453.9 346.5,454.4 346.0,454.9 345.5,455.4 345.0,456.0 344.5,456.5 344.0,457.0 343.5,457.5 343.0,458.2 342.5,458.8 342.0,459.4 341.5,460.1 341.0,460.7 340.5,461.4 340.0,462.0 339.5,462.6 339.0,463.3 338.5,463.9 338.0,464.6 337.5,465.2 337.0,465.9 336.5,466.5 336.0,467.1 335.5,467.8 335.0,468.7 334.5,469.6 334.0,470.5 333.5,471.4 333.0,472.3 332.5,473.2 332.0,474.1 331.5,475.0 331.0,475.9 330.5,476.8 330.0,477.7 329.5,478.6 329.0,479.5 328.5,480.5 328.0,481.4 327.5,482.3 327.0,483.1 326.5,483.8 326.0,484.6 325.5,485.3 325.0,486.1 324.5,486.9 324.0,487.6 323.5,488.4 323.0,489.2 322.5,489.9 322.0,490.7 321.5,491.5 321.0,492.2 320.5,493.0 320.0,493.8 319.5,494.5 319.0,495.4 318.5,496.3 318.0,497.2 317.5,498.1 317.0,499.0 316.5,499.9 316.0,500.8 315.5,501.7 315.0,502.6 314.5,503.5 314.0,504.4 313.5,505.3 313.0,506.2 312.5,507.1 312.0,508.0 311.5,508.9 311.0,509.8 310.5,510.8 310.0,511.7 309.5,512.7 309.0,513.6 308.5,514.6 308.0,515.5 307.5,516.5 307.0,517.4 306.5,518.4 306.0,519.3 305.5,520.3 305.0,521.2 304.5,522.2 304.0,523.2 303.5,524.3 303.0,525.3 302.5,525.9 302.0,526.4 301.5,527.0 301.0,527.5 300.5,528.0 300.0,528.6 299.5,529.1 299.0,529.6 298.5,529.9 298.0,530.2 297.5,530.5 297.0,530.8 296.5,531.0 296.0,531.2 295.5,531.4 295.0,531.6 294.5,531.7 294.0,531.6 293.5,531.6 293.0,531.5 292.5,531.5 292.0,531.4 291.5,531.3 291.0,531.3 290.5,531.2 290.0,531.2 289.5,531.1 289.0,531.1 288.5,531.0 288.0,530.9 287.5,530.9 287.0,530.8 286.5,530.8 286.0,530.7 285.5,530.7 285.0,530.6 284.5,530.5 284.0,530.5 283.5,530.4 283.0,530.4 282.5,530.3 282.0,530.3 281.5,530.2 281.0,530.2 280.5,530.1 280.0,530.1 279.5,530.0 279.0,529.9 278.5,529.9 278.0,529.8 277.5,529.8 277.0,529.8 276.5,529.8 276.0,529.8 275.5,529.8 275.0,529.7 274.5,529.7 274.0,529.7 273.5,529.7 273.0,529.7 272.5,529.7 272.0,529.6 271.5,529.6 271.0,529.6 270.5,529.6 270.0,529.6 269.5,529.6 269.0,529.5 268.5,529.5 268.0,529.5 267.5,529.6 267.0,529.6 266.5,529.6 266.0,529.6 265.5,529.6 265.0,529.6 264.5,529.7 264.0,529.7 263.5,529.7 263.0,529.7 262.5,529.7 262.0,529.8 261.5,529.8 261.0,529.8 260.5,529.8 260.0,529.8 259.5,529.8 259.0,529.9 258.5,529.8 258.0,529.8 257.5,529.7 257.0,529.6 256.5,529.6 256.0,529.5 255.5,529.5 255.0,529.4 254.5,529.5 254.0,529.7 253.5,529.8 253.0,529.9 252.5,530.0 252.0,530.1 251.5,530.2 251.0,530.3 250.5,530.8 250.0,531.5 249.5,532.2 249.0,532.9 248.5,533.6 248.0,534.3 247.5,535.0 247.0,535.7 246.5,536.4 246.0,537.1 245.5,537.8 245.0,538.6 244.5,539.3 244.0,540.1 243.5,540.9 243.0,541.7 242.5,542.4 242.0,543.2 241.5,544.0 241.0,544.8 240.5,545.6 240.0,546.4 239.5,547.2 239.0,548.0 238.5,548.8 238.0,549.5 237.5,550.3 237.0,551.1 236.5,551.9 236.0,552.5 235.5,553.1 235.0,553.7 234.5,554.2 234.0,554.8 233.5,555.4 233.0,556.0 232.5,556.6 232.0,557.2 231.5,557.8 231.0,558.3 230.5,558.9 230.0,559.5 229.5,560.1 229.0,560.7 228.5,561.2 228.0,561.4 227.5,561.4 227.0,561.4 226.5,561.4 226.0,561.5 225.5,561.5 225.0,561.5 224.5,561.5 224.0,561.6 223.5,561.6 223.0,561.6 222.5,561.6 222.0,561.6 221.5,561.7 221.0,561.7 220.5,561.7 220.0,561.7 219.5,561.7 219.0,561.7 218.5,561.7 218.0,561.6 217.5,561.6 217.0,561.6 216.5,561.6 216.0,561.6 215.5,561.5 215.0,561.5 214.5,561.5 214.0,561.5 213.5,561.5 213.0,561.4 212.5,561.4 212.0,561.5 211.5,561.7 211.0,562.0 210.5,562.2 210.0,562.5 209.5,562.7 209.0,562.9 208.5,563.1 208.0,563.3 207.5,563.5 207.0,563.7 206.5,563.9 206.0,564.1 205.5,564.3 205.0,564.4 204.5,564.6 204.0,564.8 203.5,565.4 203.0,565.9 202.5,566.5 202.0,567.0 201.5,567.5 201.0,568.1 200.5,568.6 200.0,569.1 199.5,569.7 199.0,570.2 198.5,570.8 198.0,571.3 197.5,571.8 197.0,572.4 196.5,572.9 196.0,573.4 195.5,574.3 195.0,575.2 194.5,576.1 194.0,577.0 193.5,577.9 193.0,578.8 192.5,579.7 192.0,580.5 191.5,581.4 191.0,582.3 190.5,583.2 190.0,584.1 189.5,585.0 189.0,585.8 188.5,586.7 188.0,587.5 187.5,588.4 187.0,589.5 186.5,590.5 186.0,591.6 185.5,592.6 185.0,593.7 184.5,594.8 184.0,595.8 183.5,596.9 183.0,597.9 182.5,599.0 182.0,600.0 181.5,601.1 181.0,602.1 180.5,603.2 180.0,604.2 179.5,605.3 179.0,606.4 178.5,607.4 178.0,608.5 177.5,609.6 177.0,610.7 176.5,611.8 176.0,612.8 175.5,613.9 175.0,615.0 174.5,616.1 174.0,617.2 173.5,618.2 173.0,620.5 172.5,622.8 172.0,625.0 171.5,627.2 171.0,629.3 170.5,631.5 170.0,632.6 169.5,633.1 169.0,633.4 168.5,633.7 168.0,634.0 167.5,634.1 167.0,634.2 166.5,634.3 166.0,634.4 165.5,634.6 165.0,634.6 164.5,634.6 164.0,634.6 163.5,634.7 163.0,634.7 162.5,634.7 162.0,634.7 161.5,634.7 161.0,634.7 160.5,634.7 160.0,634.8 159.5,634.8 159.0,634.8 158.5,634.8 158.0,634.8 157.5,634.8 157.0,634.8 156.5,634.9 156.0,634.9 155.5,634.9 155.0,634.9 154.5,634.9 154.0,634.9 153.5,634.9 153.0,634.9 152.5,634.9 152.0,634.9 151.5,634.9 151.0,634.8 150.5,634.8 150.0,634.8 149.5,634.8 149.0,634.8 148.5,634.8 148.0,634.8 147.5,634.8 147.0,634.8 146.5,634.6 146.0,634.5 145.5,634.3 145.0,634.1 144.5,634.0 144.0,633.8 143.5,633.7 143.0,633.5 142.5,633.0 142.0,632.5 141.5,631.9 141.0,631.4 140.5,630.6 140.0,629.7 139.5,628.7 139.0,627.8 138.5,626.9 138.0,626.0 137.5,625.6 137.0,625.2 136.5,624.8 136.0,624.4 135.5,624.0 135.0,623.8 134.5,623.5 134.0,623.2 133.5,622.9 133.0,622.6 132.5,622.3 132.0,622.1 131.5,621.8 131.0,621.5 130.5,621.3 130.0,621.2 129.5,621.0 129.0,620.9 128.5,620.7 128.0,620.5 127.5,620.4 127.0,620.2 126.5,620.1 126.0,620.1 125.5,620.0 125.0,620.0 124.5,620.0 124.0,619.9 123.5,619.9 123.0,619.8 122.5,619.8 122.0,619.8 121.5,619.7 121.0,619.7 120.5,619.7 120.0,619.6 119.5,619.6 119.0,619.6 118.5,619.5 118.0,619.5 117.5,619.5 117.0,619.5 116.5,619.5 116.0,619.4 115.5,619.4 115.0,619.4 114.5,619.4 114.0,619.4 113.5,619.4 113.0,619.4 112.5,619.4 112.0,619.3 111.5,619.3 111.0,619.3 110.5,619.3 110.0,619.3 109.5,619.3 109.0,619.4 108.5,619.4 108.0,619.4 107.5,619.4 107.0,619.4 106.5,619.4 106.0,619.5 105.5,619.5 105.0,619.5 104.5,619.6 104.0,619.7 103.5,619.7 103.0,619.8 102.5,619.9 102.0,620.0 101.5,620.1 101.0,620.1 100.5,620.2 100.0,620.3 99.5,620.3 99.0,620.3 98.5,620.3 98.0,620.3 97.5,620.3 97.0,620.3 96.5,620.3 96.0,620.3 95.5,620.3 95.0,620.3" fill="#c6ff6e" mask="url(#m_other)"/><polyline points="94.3,620.3 94.8,620.3 95.3,620.3 95.8,620.3 96.3,620.3 96.8,620.3 97.3,620.3 97.8,620.3 98.3,620.3 98.8,620.3 99.3,620.3 99.8,620.3 100.3,620.2 100.8,620.2 101.3,620.1 101.8,620.0 102.3,619.9 102.8,619.9 103.3,619.8 103.8,619.7 104.3,619.6 104.8,619.6 105.3,619.5 105.8,619.5 106.3,619.5 106.8,619.4 107.3,619.4 107.8,619.4 108.3,619.4 108.8,619.4 109.3,619.3 109.8,619.3 110.3,619.3 110.8,619.3 111.3,619.3 111.8,619.3 112.3,619.4 112.8,619.4 113.3,619.4 113.8,619.4 114.3,619.4 114.8,619.4 115.3,619.4 115.8,619.4 116.3,619.5 116.8,619.5 117.3,619.5 117.8,619.5 118.3,619.5 118.8,619.6 119.3,619.6 119.8,619.6 120.3,619.7 120.8,619.7 121.3,619.7 121.8,619.8 122.3,619.8 122.8,619.8 123.3,619.9 123.8,619.9 124.3,619.9 124.8,620.0 125.3,620.0 125.8,620.1 126.3,620.1 126.8,620.2 127.3,620.4 127.8,620.5 128.3,620.6 128.8,620.8 129.3,621.0 129.8,621.1 130.3,621.3 130.8,621.5 131.3,621.7 131.8,622.0 132.3,622.2 132.8,622.5 133.3,622.8 133.8,623.1 134.3,623.4 134.8,623.7 135.3,624.0 135.8,624.3 136.3,624.7 136.8,625.1 137.3,625.5 137.8,626.1 138.3,626.8 138.8,627.6 139.3,628.4 139.8,629.3 140.3,630.1 140.8,630.9 141.3,631.6 141.8,632.2 142.3,632.7 142.8,633.1 143.3,633.4 143.8,633.7 144.3,633.9 144.8,634.1 145.3,634.2 145.8,634.4 146.3,634.5 146.8,634.7 147.3,634.7 147.8,634.8 148.3,634.8 148.8,634.8 149.3,634.8 149.8,634.8 150.3,634.8 150.8,634.8 151.3,634.9 151.8,634.9 152.3,634.9 152.8,634.9 153.3,634.9 153.8,634.9 154.3,634.9 154.8,634.9 155.3,634.9 155.8,634.9 156.3,634.8 156.8,634.8 157.3,634.8 157.8,634.8 158.3,634.7 158.8,634.7 159.3,634.7 159.8,634.7 160.3,634.6 160.8,634.6 161.3,634.6 161.8,634.6 162.3,634.5 162.8,634.5 163.3,634.5 163.8,634.5 164.3,634.4 164.8,634.4 165.3,634.2 165.8,634.1 166.3,633.8 166.8,633.6 167.3,633.2 167.8,632.7 168.3,632.1 168.8,631.3 169.3,630.3 169.8,629.1 170.3,627.7 170.8,626.0 171.3,624.0 171.8,621.8 172.3,619.7 172.8,617.5 173.3,615.6 173.8,613.8 174.3,612.4 174.8,611.0 175.3,609.8 175.8,608.6 176.3,607.5 176.8,606.3 177.3,605.2 177.8,604.0 178.3,602.8 178.8,601.7 179.3,600.5 179.8,599.4 180.3,598.2 180.8,597.1 181.3,595.9 181.8,594.8 182.3,593.7 182.8,592.5 183.3,591.4 183.8,590.3 184.3,589.1 184.8,588.0 185.3,586.9 185.8,585.7 186.3,584.6 186.8,583.5 187.3,582.4 187.8,581.3 188.3,580.3 188.8,579.4 189.3,578.4 189.8,577.5 190.3,576.6 190.8,575.7 191.3,574.7 191.8,573.8 192.3,572.9 192.8,571.9 193.3,571.0 193.8,570.1 194.3,569.2 194.8,568.3 195.3,567.4 195.8,566.6 196.3,565.9 196.8,565.2 197.3,564.6 197.8,564.0 198.3,563.5 198.8,562.9 199.3,562.3 199.8,561.8 200.3,561.2 200.8,560.6 201.3,560.1 201.8,559.5 202.3,558.9 202.8,558.4 203.3,557.9 203.8,557.4 204.3,557.0 204.8,556.7 205.3,556.4 205.8,556.2 206.3,556.0 206.8,555.7 207.3,555.5 207.8,555.3 208.3,555.1 208.8,554.8 209.3,554.6 209.8,554.4 210.3,554.2 210.8,553.9 211.3,553.7 211.8,553.6 212.3,553.5 212.8,553.4 213.3,553.4 213.8,553.4 214.3,553.5 214.8,553.5 215.3,553.6 215.8,553.6 216.3,553.7 216.8,553.7 217.3,553.7 217.8,553.8 218.3,553.8 218.8,553.9 219.3,553.9 219.8,553.9 220.3,554.0 220.8,554.0 221.3,554.0 221.8,554.0 222.3,554.0 222.8,554.0 223.3,554.0 223.8,554.0 224.3,554.0 224.8,554.0 225.3,554.0 225.8,554.0 226.3,554.0 226.8,554.0 227.3,553.9 227.8,553.8 228.3,553.7 228.8,553.3 229.3,552.9 229.8,552.4 230.3,551.9 230.8,551.3 231.3,550.8 231.8,550.2 232.3,549.7 232.8,549.1 233.3,548.5 233.8,548.0 234.3,547.4 234.8,546.8 235.3,546.3 235.8,545.7 236.3,545.1 236.8,544.4 237.3,543.7 237.8,543.0 238.3,542.2 238.8,541.5 239.3,540.7 239.8,540.0 240.3,539.2 240.8,538.5 241.3,537.7 241.8,537.0 242.3,536.2 242.8,535.5 243.3,534.7 243.8,534.0 244.3,533.2 244.8,532.5 245.3,531.8 245.8,531.1 246.3,530.5 246.8,529.8 247.3,529.1 247.8,528.4 248.3,527.8 248.8,527.1 249.3,526.4 249.8,525.8 250.3,525.2 250.8,524.8 251.3,524.5 251.8,524.2 252.3,524.1 252.8,524.0 253.3,523.9 253.8,523.8 254.3,523.7 254.8,523.6 255.3,523.6 255.8,523.6 256.3,523.7 256.8,523.7 257.3,523.8 257.8,523.8 258.3,523.9 258.8,523.9 259.3,524.0 259.8,524.0 260.3,524.0 260.8,524.0 261.3,524.0 261.8,523.9 262.3,523.9 262.8,523.9 263.3,523.9 263.8,523.9 264.3,523.9 264.8,523.9 265.3,523.9 265.8,523.9 266.3,523.8 266.8,523.8 267.3,523.8 267.8,523.8 268.3,523.8 268.8,523.8 269.3,523.8 269.8,523.9 270.3,523.9 270.8,523.9 271.3,523.9 271.8,523.9 272.3,524.0 272.8,524.0 273.3,524.0 273.8,524.0 274.3,524.0 274.8,524.1 275.3,524.1 275.8,524.1 276.3,524.1 276.8,524.2 277.3,524.2 277.8,524.2 278.3,524.3 278.8,524.3 279.3,524.4 279.8,524.4 280.3,524.5 280.8,524.5 281.3,524.6 281.8,524.6 282.3,524.7 282.8,524.8 283.3,524.8 283.8,524.9 284.3,524.9 284.8,525.0 285.3,525.0 285.8,525.1 286.3,525.2 286.8,525.2 287.3,525.3 287.8,525.3 288.3,525.4 288.8,525.5 289.3,525.5 289.8,525.6 290.3,525.7 290.8,525.7 291.3,525.8 291.8,525.8 292.3,525.9 292.8,526.0 293.3,526.0 293.8,526.0 294.3,526.1 294.8,526.0 295.3,525.9 295.8,525.8 296.3,525.6 296.8,525.4 297.3,525.2 297.8,525.0 298.3,524.7 298.8,524.5 299.3,524.1 299.8,523.8 300.3,523.4 300.8,522.9 301.3,522.5 301.8,522.0 302.3,521.5 302.8,520.9 303.3,520.2 303.8,519.4 304.3,518.5 304.8,517.6 305.3,516.7 305.8,515.7 306.3,514.8 306.8,513.9 307.3,512.9 307.8,512.0 308.3,511.1 308.8,510.2 309.3,509.2 309.8,508.3 310.3,507.4 310.8,506.5 311.3,505.6 311.8,504.7 312.3,503.8 312.8,502.9 313.3,502.0 313.8,501.1 314.3,500.3 314.8,499.4 315.3,498.5 315.8,497.6 316.3,496.7 316.8,495.8 317.3,495.0 317.8,494.1 318.3,493.2 318.8,492.4 319.3,491.5 319.8,490.7 320.3,490.0 320.8,489.2 321.3,488.5 321.8,487.7 322.3,487.0 322.8,486.2 323.3,485.5 323.8,484.8 324.3,484.0 324.8,483.3 325.3,482.5 325.8,481.8 326.3,481.0 326.8,480.3 327.3,479.5 327.8,478.6 328.3,477.8 328.8,476.9 329.3,476.0 329.8,475.2 330.3,474.3 330.8,473.4 331.3,472.5 331.8,471.6 332.3,470.7 332.8,469.9 333.3,469.0 333.8,468.1 334.3,467.2 334.8,466.4 335.3,465.6 335.8,464.8 336.3,464.2 336.8,463.5 337.3,462.9 337.8,462.2 338.3,461.6 338.8,461.0 339.3,460.4 339.8,459.7 340.3,459.1 340.8,458.5 341.3,457.9 341.8,457.2 342.3,456.6 342.8,456.0 343.3,455.4 343.8,454.9 344.3,454.3 344.8,453.8 345.3,453.3 345.8,452.8 346.3,452.3 346.8,451.8 347.3,451.3 347.8,450.8 348.3,450.3 348.8,449.8 349.3,449.3 349.8,448.8 350.3,448.3 350.8,447.8 351.3,447.4 351.8,447.0 352.3,446.6 352.8,446.3 353.3,446.1 353.8,445.8 354.3,445.6 354.8,445.3 355.3,445.1 355.8,444.8 356.3,444.6 356.8,444.4 357.3,444.1 357.8,443.9 358.3,443.6 358.8,443.4 359.3,443.2 359.8,443.0 360.3,442.8 360.8,442.6 361.3,442.5 361.8,442.4 362.3,442.2 362.8,442.1 363.3,442.0 363.8,441.9 364.3,441.7 364.8,441.6 365.3,441.5 365.8,441.4 366.3,441.2 366.8,441.1 367.3,441.0 367.8,440.9 368.3,440.7 368.8,440.6 369.3,440.5 369.8,440.4 370.3,440.4 370.8,440.3 371.3,440.3 371.8,440.3 372.3,440.3 372.8,440.3 373.3,440.4 373.8,440.4 374.3,440.4 374.8,440.4 375.3,440.4 375.8,440.4 376.3,440.4 376.8,440.4 377.3,440.4 377.8,440.4 378.3,440.4 378.8,440.5 379.3,440.5 379.8,440.5 380.3,440.5 380.8,440.5 381.3,440.5 381.8,440.5 382.3,440.5 382.8,440.5 383.3,440.5 383.8,440.5 384.3,440.6 384.8,440.6 385.3,440.6 385.8,440.6 386.3,440.6 386.8,440.6 387.3,440.6 387.8,440.6 388.3,440.6 388.8,440.6 389.3,440.6 389.8,440.7 390.3,440.7 390.8,440.7 391.3,440.7 391.8,440.7 392.3,440.7 392.8,440.7 393.3,440.7 393.8,440.7 394.3,440.7 394.8,440.7 395.3,440.7 395.8,440.7 396.3,440.6 396.8,440.6 397.3,440.6 397.8,440.6 398.3,440.6 398.8,440.6 399.3,440.6 399.8,440.6 400.3,440.6 400.8,440.6 401.3,440.6 401.8,440.6 402.3,440.6 402.8,440.5 403.3,440.5 403.8,440.5 404.3,440.5 404.8,440.5 405.3,440.5 405.8,440.5 406.3,440.5 406.8,440.5 407.3,440.5 407.8,440.5 408.3,440.5 408.8,440.5 409.3,440.4 409.8,440.4 410.3,440.4 410.8,440.4 411.3,440.4 411.8,440.4 412.3,440.4 412.8,440.4 413.3,440.4 413.8,440.4 414.3,440.4 414.8,440.4 415.3,440.4 415.8,440.3 416.3,440.3 416.8,440.3 417.3,440.3 417.8,440.3 418.3,440.3 418.8,440.3 419.3,440.3 419.8,440.3 420.3,440.3 420.8,440.4 421.3,440.4 421.8,440.4 422.3,440.4 422.8,440.4 423.3,440.4 423.8,440.5 424.3,440.5 424.8,440.5 425.3,440.5 425.8,440.5 426.3,440.5 426.8,440.5 427.3,440.6 427.8,440.6 428.3,440.6 428.8,440.6 429.3,440.6 429.8,440.6 430.3,440.7 430.8,440.7 431.3,440.7 431.8,440.7 432.3,440.7 432.8,440.7 433.3,440.8 433.8,440.8 434.3,440.8 434.8,440.8 435.3,440.8 435.8,440.8 436.3,440.9 436.8,440.9 437.3,440.9 437.8,440.9 438.3,440.9 438.8,440.9 439.3,440.9 439.8,441.0 440.3,441.0 440.8,441.0 441.3,441.0 441.8,441.0 442.3,441.0 442.8,441.0 443.3,441.0 443.8,441.0 444.3,441.0 444.8,441.0 445.3,441.0 445.8,441.0 446.3,441.0 446.8,441.0 447.3,441.0 447.8,440.9 448.3,440.9 448.8,440.9 449.3,440.9 449.8,440.9 450.3,440.9 450.8,440.9 451.3,440.9 451.8,440.9 452.3,440.9 452.8,440.9 453.3,440.9 453.8,440.9 454.3,440.9 454.8,440.9 455.3,440.9 455.8,440.9 456.3,440.9 456.8,440.9 457.3,440.9 457.8,440.9 458.3,440.9 458.8,440.9 459.3,440.9 459.8,440.9 460.3,440.8 460.8,440.8 461.3,440.8 461.8,440.8 462.3,440.8 462.8,440.8 463.3,440.8 463.8,440.8 464.3,440.8 464.8,440.8 465.3,440.8 465.8,440.8 466.3,440.8 466.8,440.8 467.3,440.8 467.8,440.8 468.3,440.8 468.8,440.8 469.3,440.8 469.8,440.8 470.3,440.8 470.8,440.8 471.3,440.8 471.8,440.8 472.3,440.8 472.8,440.8 473.3,440.7 473.8,440.7 474.3,440.7 474.8,440.7 475.3,440.7 475.8,440.7 476.3,440.7 476.8,440.7 477.3,440.7 477.8,440.7 478.3,440.7 478.8,440.8 479.3,440.8 479.8,440.9 480.3,441.1 480.8,441.2 481.3,441.4 481.8,441.6 482.3,441.7 482.8,441.9 483.3,442.1 483.8,442.2 484.3,442.4 484.8,442.6 485.3,442.8 485.8,442.9 486.3,443.1 486.8,443.3 487.3,443.4 487.8,443.6 488.3,443.8 488.8,443.9 489.3,444.1 489.8,444.3 490.3,444.4 490.8,444.6 491.3,444.9 491.8,445.1 492.3,445.5 492.8,445.8 493.3,446.1 493.8,446.5 494.3,446.8 494.8,447.2 495.3,447.5 495.8,447.9 496.3,448.2 496.8,448.6 497.3,448.9 497.8,449.3 498.3,449.6 498.8,450.0 499.3,450.3 499.8,450.6 500.3,451.0 500.8,451.3 501.3,451.7 501.8,452.0 502.3,452.4 502.8,452.7 503.3,453.1 503.8,453.4 504.3,453.8 504.8,454.1 505.3,454.5 505.8,454.8 506.3,455.2 506.8,455.5 507.3,455.9 507.8,456.2 508.3,456.6 508.8,456.9 509.3,457.3 509.8,457.6 510.3,458.0 510.8,458.3 511.3,458.7 511.8,459.0 512.3,459.4 512.8,459.8 513.3,460.1 513.8,460.5 514.3,460.9 514.8,461.3 515.3,461.6 515.8,462.0 516.3,462.4 516.8,462.8 517.3,463.1 517.8,463.5 518.3,463.9 518.8,464.3 519.3,464.7 519.8,465.0 520.3,465.4 520.8,465.8 521.3,466.2 521.8,466.5 522.3,466.9 522.8,467.3 523.3,467.7 523.8,468.0 524.3,468.3 524.8,468.7 525.3,469.0 525.8,469.3 526.3,469.6 526.8,469.9 527.3,470.2 527.8,470.5 528.3,470.8 528.8,471.1 529.3,471.4 529.8,471.7 530.3,472.0 530.8,472.3 531.3,472.6 531.8,472.9 532.3,473.2 532.8,473.5 533.3,473.7 533.8,474.0 534.3,474.2 534.8,474.4 535.3,474.5 535.8,474.6 536.3,474.7 536.8,474.8 537.3,474.9 537.8,475.0 538.3,475.0 538.8,475.0 539.3,474.9 539.8,474.7 540.3,474.3 540.8,473.9 541.3,473.5 541.8,473.0 542.3,472.6 542.8,472.1 543.3,471.6 543.8,471.1 544.3,470.6 544.8,470.1 545.3,469.5 545.8,469.0 546.3,468.4 546.8,467.8 547.3,467.3 547.8,466.7 548.3,466.2 548.8,465.6 549.3,465.1 549.8,464.6 550.3,464.1 550.8,463.7 551.3,463.2 551.8,462.7 552.3,462.2 552.8,461.7 553.3,461.2 553.8,460.6 554.3,460.0 554.8,459.4 555.3,458.8 555.8,455.5 556.3,447.9 556.8,438.0 557.3,418.7 557.8,403.2 558.3,390.2 558.8,377.2 559.3,369.2 559.8,364.6 560.3,359.9 560.8,357.6 561.3,355.9 561.8,354.1 562.3,352.4 562.8,350.5 563.3,348.7 563.8,346.9 564.3,345.1 564.8,343.9 565.3,342.9 565.8,341.9 566.3,340.9 566.8,339.9 567.3,338.9 567.8,337.9 568.3,336.9 568.8,335.9 569.3,334.9 569.8,333.9 570.3,333.0 570.8,332.0 571.3,331.0 571.8,330.0 572.3,329.0 572.8,328.1 573.3,327.2 573.8,326.3 574.3,325.4 574.8,324.5 575.3,323.7 575.8,322.8 576.3,321.9 576.8,321.0 577.3,320.2 577.8,319.3 578.3,318.4 578.8,317.5 579.3,316.6 579.8,315.7 580.3,314.8 580.8,313.8 581.3,312.8 581.8,311.7 582.3,310.6 582.8,309.5 583.3,308.4 583.8,307.3 584.3,306.2 584.8,305.1 585.3,303.9 585.8,302.8 586.3,301.7 586.8,300.6 587.3,299.5 587.8,298.4 588.3,297.2 588.8,296.1 589.3,295.0 589.8,293.9 590.3,292.7 590.8,291.6 591.3,290.4 591.8,289.3 592.3,288.2 592.8,287.0 593.3,285.9 593.8,284.8 594.3,283.6 594.8,282.5 595.3,281.4 595.8,280.2 596.3,279.1 596.8,278.0 597.3,276.8 597.8,275.7 598.3,274.6 598.8,273.4 599.3,272.3 599.8,271.2 600.3,270.0 600.8,268.9 601.3,267.8 601.8,266.7 602.3,265.5 602.8,264.4 603.3,263.3 603.8,262.1 604.3,261.0 604.8,259.9 605.3,258.7 605.8,257.5 606.3,256.4 606.8,255.2 607.3,254.0 607.8,252.8 608.3,251.7 608.8,250.5 609.3,249.3 609.8,248.1 610.3,247.0 610.8,245.8 611.3,244.6 611.8,243.4 612.3,242.3 612.8,241.1 613.3,240.1 613.8,239.0 614.3,238.0 614.8,237.1 615.3,236.1 615.8,235.2 616.3,234.2 616.8,233.3 617.3,232.3 617.8,231.4 618.3,230.5 618.8,229.5 619.3,228.6 619.8,227.6 620.3,226.7 620.8,225.9 621.3,225.1 621.8,224.5 622.3,223.9 622.8,223.4 623.3,223.0 623.8,222.6 624.3,222.2 624.8,221.8 625.3,221.6 625.8,221.4 626.3,221.2 626.8,221.1 627.3,221.0 627.8,220.9 628.3,220.8 628.8,220.7 629.3,220.6 629.8,220.6 630.3,220.6 630.8,220.7 631.3,220.7 631.8,220.8 632.3,220.9 632.8,220.9 633.3,221.0 633.8,221.1 634.3,221.1 634.8,221.2 635.3,221.3 635.8,221.3 636.3,221.4 636.8,221.5 637.3,221.6 637.8,221.8 638.3,222.0 638.8,222.3 639.3,222.6 639.8,222.9 640.3,223.2 640.8,223.5 641.3,223.8 641.8,224.1 642.3,224.4 642.8,224.7 643.3,225.0 643.8,225.3 644.3,225.6 644.8,226.0 645.3,226.4 645.8,226.8 646.3,227.4 646.8,228.0 647.3,228.7 647.8,229.5 648.3,230.2 648.8,231.0 649.3,231.8 649.8,232.5 650.3,233.3 650.8,234.0 651.3,234.8 651.8,235.6 652.3,236.3 652.8,237.1 653.3,237.8 653.8,238.6 654.3,239.3 654.8,240.1 655.3,240.8 655.8,241.6 656.3,242.3 656.8,243.1 657.3,243.8 657.8,244.6 658.3,245.3 658.8,246.0 659.3,246.8 659.8,247.5 660.3,248.3 660.8,249.0 661.3,249.8 661.8,250.5 662.3,251.3 662.8,252.0 663.3,252.8 663.8,253.5 664.3,254.3 664.8,255.0 665.3,255.8 665.8,256.5 666.3,257.2 666.8,258.0 667.3,258.7 667.8,259.5 668.3,260.2 668.8,261.0 669.3,261.7 669.8,262.5 670.3,263.2 670.8,264.0 671.3,264.7 671.8,265.5 672.3,266.2 672.8,267.0 673.3,267.7 673.8,268.5 674.3,269.2 674.8,269.9 675.3,270.6 675.8,271.3 676.3,271.9 676.8,272.6 677.3,273.3 677.8,273.9 678.3,274.6 678.8,275.3 679.3,275.9 679.8,276.6 680.3,277.3 680.8,278.0 681.3,278.6 681.8,279.3 682.3,280.0 682.8,280.6 683.3,281.3 683.8,282.0 684.3,282.6 684.8,283.3 685.3,284.0 685.8,284.6 686.3,285.3 686.8,285.9 687.3,286.5 687.8,287.1 688.3,287.7 688.8,288.3 689.3,288.9 689.8,289.4 690.3,290.0 690.8,290.6 691.3,291.2 691.8,291.8 692.3,292.5 692.8,293.1 693.3,293.8 693.8,294.4 694.3,295.1 694.8,295.8 695.3,296.5 695.8,297.2 696.3,297.8 696.8,298.5 697.3,299.2 697.8,299.9 698.3,300.5 698.8,301.2 699.3,301.9 699.8,302.5 700.3,303.1 700.8,303.6 701.3,304.0 701.8,304.5 702.3,304.9 702.8,305.2 703.3,305.6 703.8,306.0 704.3,306.4 704.8,306.8 705.3,307.2 705.8,307.6 706.3,307.9 706.8,308.3 707.3,308.7 707.8,309.1 708.3,309.5 708.8,309.9 709.3,310.3 709.8,310.7 710.3,311.0 710.8,311.4 711.3,311.8 711.8,312.2 712.3,312.6 712.8,313.0 713.3,313.4 713.8,313.8 714.3,314.2 714.8,314.6 715.3,315.0 715.8,315.4 716.3,315.8 716.8,316.2 717.3,316.6 717.8,317.0 718.3,317.3 718.8,317.7 719.3,318.1 719.8,318.5 720.3,318.9 720.8,319.2 721.3,319.6 721.8,319.9 722.3,320.3 722.8,320.7 723.3,321.0 723.8,321.4 724.3,321.7 724.8,322.1 725.3,322.4 725.8,322.8 726.3,323.2 726.8,323.5 727.3,323.8 727.8,324.2 728.3,324.5 728.8,324.7 729.3,325.0 729.8,325.2 730.3,325.5 730.8,325.7 731.3,326.0 731.8,326.2 732.3,326.5 732.8,326.7 733.3,327.0 733.8,327.2 734.3,327.5 734.8,327.7 735.3,328.0 735.8,328.2 736.3,328.5 736.8,328.7 737.3,328.9 737.8,329.1 738.3,329.2 738.8,329.4 739.3,329.6 739.8,329.8 740.3,330.0 740.8,330.2 741.3,330.4 741.8,330.6 742.3,330.7 742.8,330.9 743.3,331.1 743.8,331.3 744.3,331.5 744.8,331.7 745.3,331.9 745.8,332.1 746.3,332.2 746.8,332.4 747.3,332.6 747.8,332.7 748.3,332.9 748.8,333.1 749.3,333.2 749.8,333.4 750.3,333.6 750.8,333.7 751.3,333.9 751.8,334.1 752.3,334.3 752.8,334.4 753.3,334.6 753.8,334.8 754.3,334.9 754.8,335.1 755.3,335.2 755.8,335.4 756.3,335.5 756.8,335.5 757.3,335.5 757.8,335.4 758.3,335.3 758.8,335.2 759.3,335.1 759.8,335.0 760.3,334.8 760.8,334.6 761.3,334.4 761.8,334.1 762.3,333.9 762.8,333.7 763.3,333.5 763.8,333.4" fill="none" stroke="#4ea72e" stroke-width="7.5" stroke-linejoin="round" stroke-linecap="butt"/><rect x="167" y="218.0" width="63" height="15" fill="#4b4860"/><rect x="167" y="256.8" width="63" height="15" fill="#9dbde3"/><rect x="167" y="294.9" width="63" height="15" fill="#bab7a2"/><rect x="167" y="333.0" width="63" height="15" fill="#c6ff6e"/><line x1="166.7" y1="378.7" x2="229.7" y2="378.7" stroke="#4ea72e" stroke-width="7.4" stroke-linecap="round"/></svg>
<div class="t b" style="left:39.90px;top:30.78px;font-size:29.68px;transform-origin:0 84.65%;transform:scale(1.0,1.055);">The Fed Treasury Holdings Are Largely Longer</div>
<div class="t b" style="left:39.40px;top:65.28px;font-size:29.68px;transform-origin:0 84.65%;transform:scale(1.0,1.045);">Duration</div>
<div class="t " style="left:39.40px;top:99.42px;font-size:29.63px;transform-origin:0 84.65%;transform:scale(1.0,1.045);">Securities Held Outright on Fed Balance Sheet, $</div>
<div class="t " style="left:39.40px;top:132.89px;font-size:29.9px;transform-origin:0 84.65%;transform:scale(1.0,1.035);">Trillions</div>
<div class="t " style="left:36.30px;top:645.98px;font-size:29.2px;transform-origin:0 84.65%;transform:scale(1.0,1.085);">$0</div>
<div class="t " style="left:36.30px;top:594.09px;font-size:29.2px;transform-origin:0 84.65%;transform:scale(1.0,1.085);">$1</div>
<div class="t " style="left:36.30px;top:542.20px;font-size:29.2px;transform-origin:0 84.65%;transform:scale(1.0,1.085);">$2</div>
<div class="t " style="left:36.30px;top:490.32px;font-size:29.2px;transform-origin:0 84.65%;transform:scale(1.0,1.085);">$3</div>
<div class="t " style="left:36.30px;top:438.43px;font-size:29.2px;transform-origin:0 84.65%;transform:scale(1.0,1.085);">$4</div>
<div class="t " style="left:36.30px;top:386.54px;font-size:29.2px;transform-origin:0 84.65%;transform:scale(1.0,1.085);">$5</div>
<div class="t " style="left:36.30px;top:334.65px;font-size:29.2px;transform-origin:0 84.65%;transform:scale(1.0,1.085);">$6</div>
<div class="t " style="left:36.30px;top:282.76px;font-size:29.2px;transform-origin:0 84.65%;transform:scale(1.0,1.085);">$7</div>
<div class="t " style="left:36.30px;top:230.87px;font-size:29.2px;transform-origin:0 84.65%;transform:scale(1.0,1.085);">$8</div>
<div class="t " style="left:36.30px;top:178.98px;font-size:29.2px;transform-origin:0 84.65%;transform:scale(1.0,1.085);">$9</div>
<div class="xl" style="right:740.7px;top:675.2px">2007</div>
<div class="xl" style="right:670.7px;top:675.2px">2009</div>
<div class="xl" style="right:600.7px;top:675.2px">2011</div>
<div class="xl" style="right:530.7px;top:675.2px">2013</div>
<div class="xl" style="right:460.7px;top:675.2px">2015</div>
<div class="xl" style="right:390.7px;top:675.2px">2017</div>
<div class="xl" style="right:320.7px;top:675.2px">2019</div>
<div class="xl" style="right:250.7px;top:675.2px">2021</div>
<div class="xl" style="right:180.7px;top:675.2px">2023</div>
<div class="xl" style="right:110.7px;top:675.2px">2025</div>
<div class="t " style="left:235.70px;top:209.96px;font-size:29.7px;transform-origin:0 84.65%;transform:scale(1.0,1.03);">Bills</div>
<div class="t " style="left:235.70px;top:248.06px;font-size:29.7px;transform-origin:0 84.65%;transform:scale(1.0,1.03);">Bonds &amp; Notes</div>
<div class="t " style="left:235.70px;top:286.26px;font-size:29.7px;transform-origin:0 84.65%;transform:scale(1.0,1.03);">MBS</div>
<div class="t " style="left:235.70px;top:323.76px;font-size:29.7px;transform-origin:0 84.65%;transform:scale(1.0,1.03);">Other</div>
<div class="t " style="left:235.70px;top:362.56px;font-size:29.7px;transform-origin:0 84.65%;transform:scale(1.0,1.03);">Total</div>
<div class="t " style="left:32.50px;top:758.45px;font-size:26.4px;transform-origin:0 84.65%;transform:scale(1.0,1.04);">Source: Federal Reserve Banks, Bloomberg Finance. Data as of</div>
<div class="t " style="left:32.50px;top:788.15px;font-size:26.4px;transform-origin:0 84.65%;transform:scale(1.0,1.03);">February 4, 2026.</div>
</body></html>
